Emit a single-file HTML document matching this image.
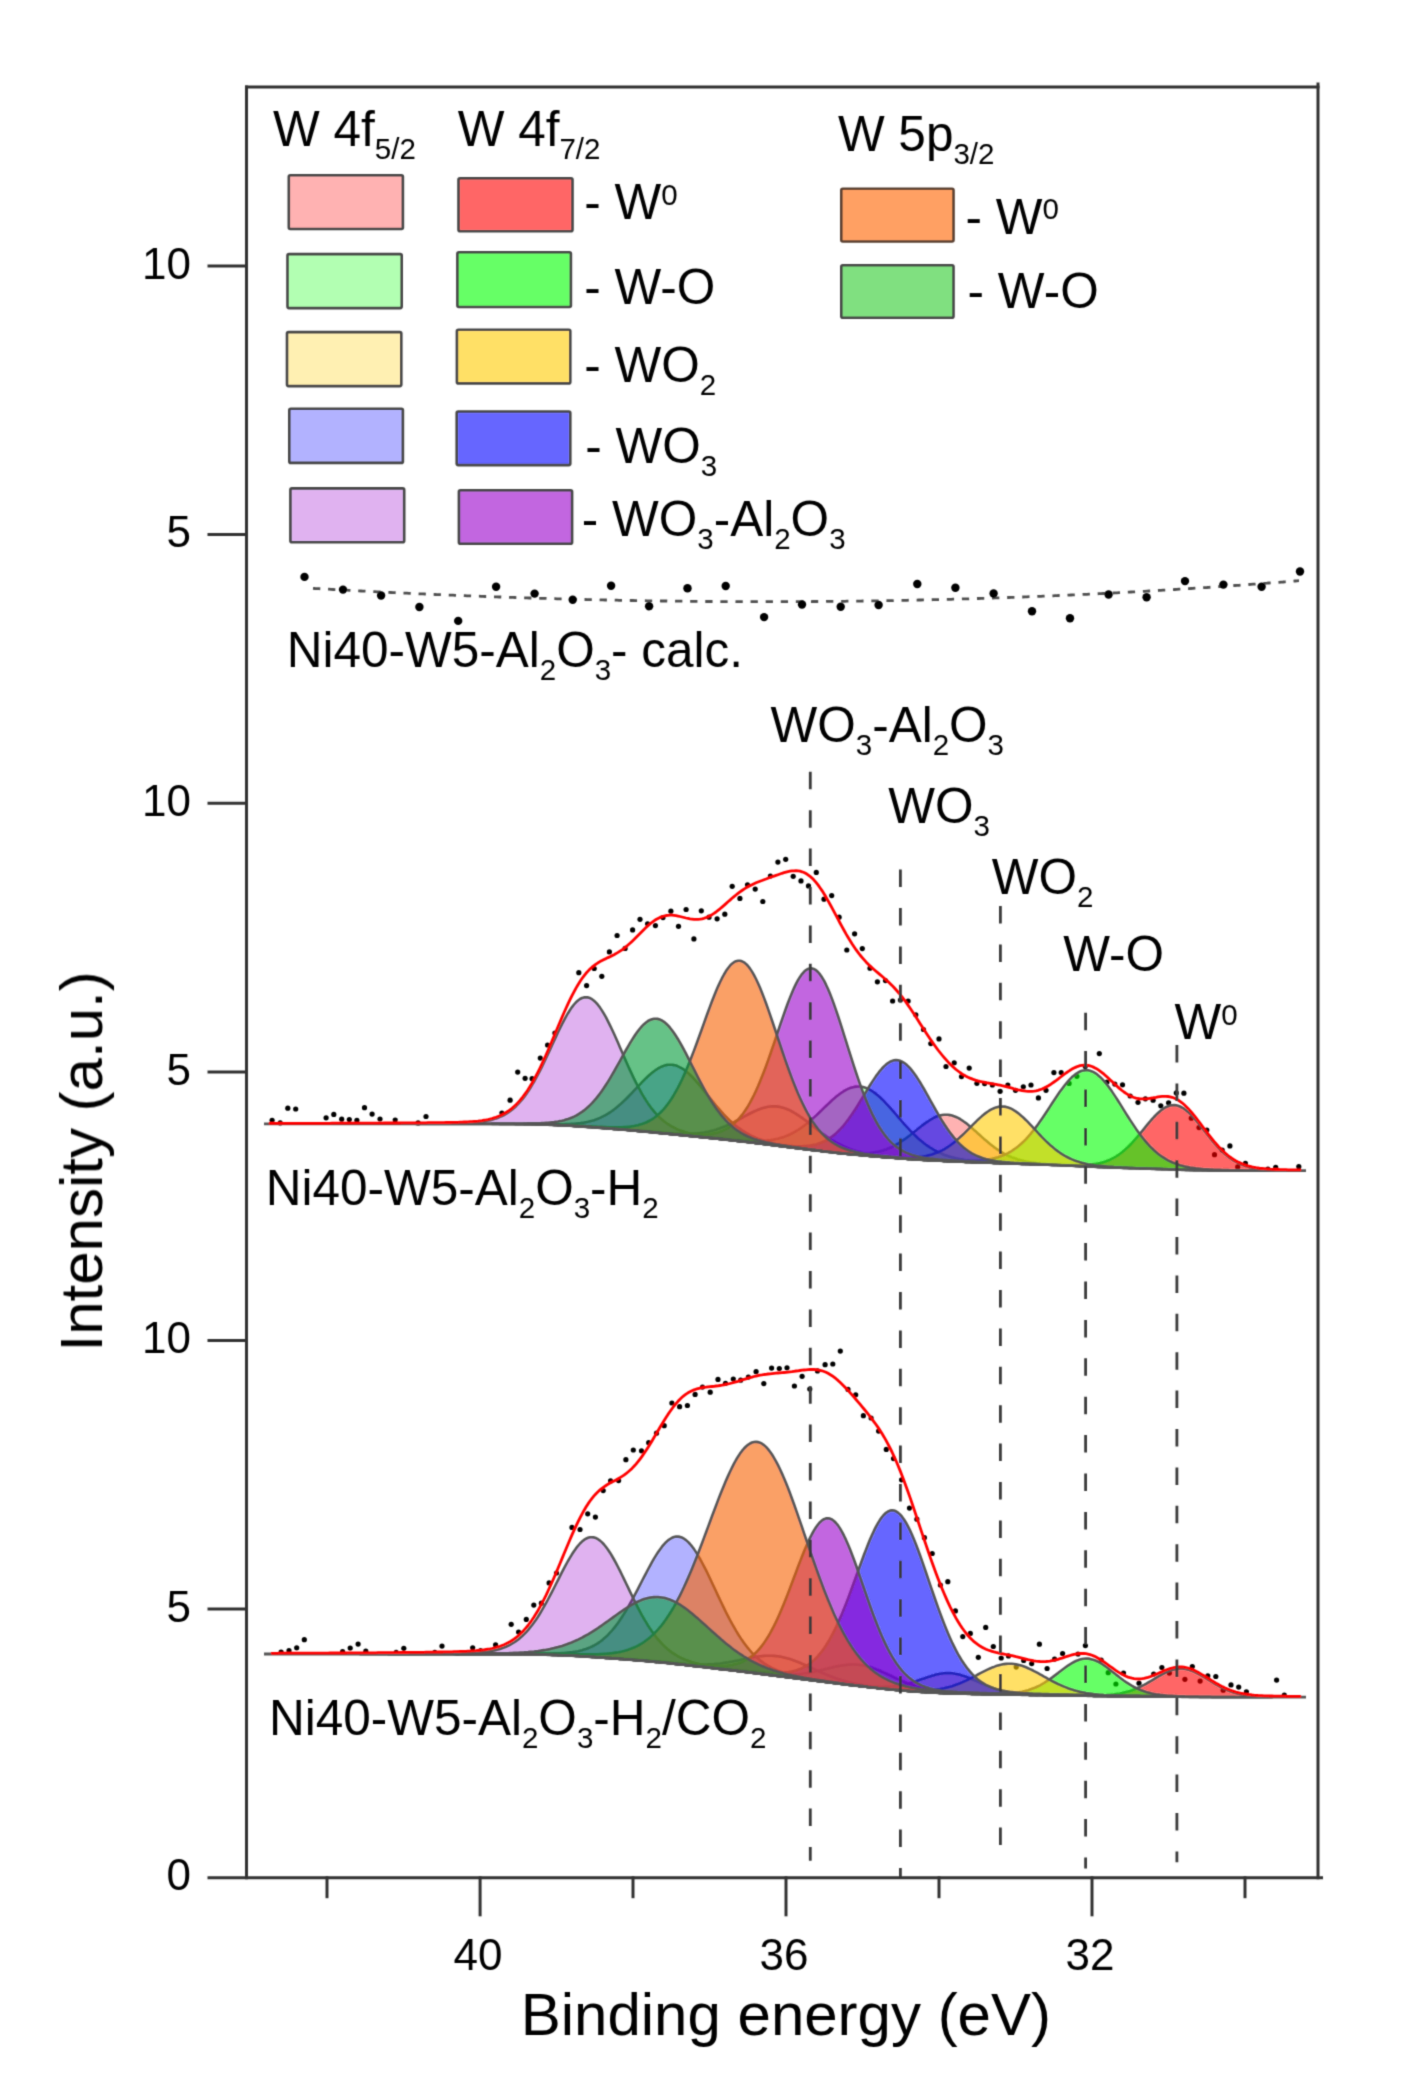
<!DOCTYPE html>
<html><head><meta charset="utf-8"><style>
html,body{margin:0;padding:0;background:#fff;}
svg{display:block;}
</style></head><body>
<svg width="1424" height="2100" viewBox="0 0 1424 2100">
<defs><filter id="soft" filterUnits="userSpaceOnUse" x="0" y="0" width="1424" height="2100"><feConvolveMatrix order="3" kernelMatrix="0.062 0.249 0.062 0.249 1 0.249 0.062 0.249 0.062" divisor="2.244" edgeMode="duplicate" preserveAlpha="false"/></filter></defs>
<rect width="1424" height="2100" fill="#ffffff"/>
<g filter="url(#soft)">
<g fill="#000"><circle cx="272.1" cy="1120.3" r="2.6"/><circle cx="280.2" cy="1122.9" r="2.6"/><circle cx="287.8" cy="1108.2" r="2.6"/><circle cx="295.7" cy="1109.0" r="2.6"/><circle cx="326.1" cy="1117.8" r="2.6"/><circle cx="333.8" cy="1114.4" r="2.6"/><circle cx="341.7" cy="1119.2" r="2.6"/><circle cx="349.3" cy="1119.5" r="2.6"/><circle cx="356.9" cy="1120.3" r="2.6"/><circle cx="364.5" cy="1107.7" r="2.6"/><circle cx="372.1" cy="1114.1" r="2.6"/><circle cx="380.0" cy="1119.0" r="2.6"/><circle cx="395.2" cy="1120.0" r="2.6"/><circle cx="418.1" cy="1122.9" r="2.6"/><circle cx="426.0" cy="1116.5" r="2.6"/><circle cx="501.9" cy="1113.1" r="2.6"/><circle cx="510.1" cy="1100.2" r="2.6"/><circle cx="517.7" cy="1072.1" r="2.6"/><circle cx="525.1" cy="1078.3" r="2.6"/><circle cx="532.1" cy="1078.7" r="2.6"/><circle cx="540.3" cy="1058.1" r="2.6"/><circle cx="547.6" cy="1045.0" r="2.6"/><circle cx="554.9" cy="1033.1" r="2.6"/><circle cx="578.8" cy="972.7" r="2.6"/><circle cx="586.6" cy="985.6" r="2.6"/><circle cx="594.2" cy="968.5" r="2.6"/><circle cx="601.8" cy="976.3" r="2.6"/><circle cx="609.4" cy="951.9" r="2.6"/><circle cx="617.1" cy="935.5" r="2.6"/><circle cx="625.1" cy="948.4" r="2.6"/><circle cx="632.6" cy="929.9" r="2.6"/><circle cx="640.0" cy="919.3" r="2.6"/><circle cx="647.6" cy="923.8" r="2.6"/><circle cx="655.4" cy="925.6" r="2.6"/><circle cx="663.0" cy="917.6" r="2.6"/><circle cx="670.9" cy="911.2" r="2.6"/><circle cx="678.5" cy="926.3" r="2.6"/><circle cx="686.1" cy="909.5" r="2.6"/><circle cx="693.9" cy="938.9" r="2.6"/><circle cx="701.3" cy="910.8" r="2.6"/><circle cx="709.0" cy="917.2" r="2.6"/><circle cx="717.1" cy="918.8" r="2.6"/><circle cx="724.8" cy="914.2" r="2.6"/><circle cx="732.2" cy="886.3" r="2.6"/><circle cx="739.9" cy="898.4" r="2.6"/><circle cx="747.5" cy="884.8" r="2.6"/><circle cx="755.2" cy="889.1" r="2.6"/><circle cx="762.8" cy="901.5" r="2.6"/><circle cx="770.4" cy="876.0" r="2.6"/><circle cx="777.9" cy="862.1" r="2.6"/><circle cx="785.7" cy="859.3" r="2.6"/><circle cx="793.2" cy="876.3" r="2.6"/><circle cx="801.0" cy="880.9" r="2.6"/><circle cx="808.5" cy="885.9" r="2.6"/><circle cx="816.3" cy="872.4" r="2.6"/><circle cx="824.0" cy="899.2" r="2.6"/><circle cx="831.7" cy="895.6" r="2.6"/><circle cx="839.1" cy="917.2" r="2.6"/><circle cx="846.8" cy="950.0" r="2.6"/><circle cx="854.6" cy="933.8" r="2.6"/><circle cx="862.3" cy="948.6" r="2.6"/><circle cx="870.0" cy="968.2" r="2.6"/><circle cx="877.4" cy="981.8" r="2.6"/><circle cx="885.5" cy="980.6" r="2.6"/><circle cx="892.6" cy="1001.0" r="2.6"/><circle cx="900.4" cy="1000.0" r="2.6"/><circle cx="908.1" cy="1001.0" r="2.6"/><circle cx="915.8" cy="1014.8" r="2.6"/><circle cx="923.5" cy="1029.5" r="2.6"/><circle cx="930.8" cy="1043.6" r="2.6"/><circle cx="939.0" cy="1038.9" r="2.6"/><circle cx="946.0" cy="1066.5" r="2.6"/><circle cx="954.2" cy="1062.8" r="2.6"/><circle cx="961.5" cy="1076.6" r="2.6"/><circle cx="969.2" cy="1068.1" r="2.6"/><circle cx="976.9" cy="1083.3" r="2.6"/><circle cx="984.6" cy="1083.6" r="2.6"/><circle cx="992.4" cy="1085.0" r="2.6"/><circle cx="1000.1" cy="1091.3" r="2.6"/><circle cx="1007.8" cy="1085.0" r="2.6"/><circle cx="1015.5" cy="1090.3" r="2.6"/><circle cx="1023.3" cy="1086.8" r="2.6"/><circle cx="1031.0" cy="1085.0" r="2.6"/><circle cx="1038.4" cy="1097.9" r="2.6"/><circle cx="1046.0" cy="1090.3" r="2.6"/><circle cx="1053.9" cy="1072.6" r="2.6"/><circle cx="1061.2" cy="1072.6" r="2.6"/><circle cx="1069.1" cy="1083.4" r="2.6"/><circle cx="1076.9" cy="1076.3" r="2.6"/><circle cx="1085.3" cy="1066.5" r="2.6"/><circle cx="1099.3" cy="1053.6" r="2.6"/><circle cx="1107.0" cy="1082.0" r="2.6"/><circle cx="1114.8" cy="1084.1" r="2.6"/><circle cx="1122.5" cy="1084.8" r="2.6"/><circle cx="1130.2" cy="1096.0" r="2.6"/><circle cx="1138.0" cy="1102.3" r="2.6"/><circle cx="1145.4" cy="1098.8" r="2.6"/><circle cx="1153.1" cy="1100.2" r="2.6"/><circle cx="1160.8" cy="1105.8" r="2.6"/><circle cx="1168.6" cy="1102.8" r="2.6"/><circle cx="1176.3" cy="1092.9" r="2.6"/><circle cx="1183.9" cy="1093.2" r="2.6"/><circle cx="1191.3" cy="1118.2" r="2.6"/><circle cx="1199.0" cy="1127.6" r="2.6"/><circle cx="1206.8" cy="1130.0" r="2.6"/><circle cx="1214.5" cy="1154.7" r="2.6"/><circle cx="1222.2" cy="1150.1" r="2.6"/><circle cx="1229.9" cy="1145.9" r="2.6"/><circle cx="1237.7" cy="1166.9" r="2.6"/><circle cx="1245.4" cy="1163.4" r="2.6"/><circle cx="1267.9" cy="1169.0" r="2.6"/><circle cx="1275.7" cy="1167.3" r="2.6"/><circle cx="1298.8" cy="1166.7" r="2.6"/><circle cx="281.1" cy="1652.0" r="2.6"/><circle cx="289.0" cy="1650.7" r="2.6"/><circle cx="296.7" cy="1647.8" r="2.6"/><circle cx="304.3" cy="1639.7" r="2.6"/><circle cx="342.6" cy="1651.7" r="2.6"/><circle cx="350.2" cy="1648.1" r="2.6"/><circle cx="358.1" cy="1644.1" r="2.6"/><circle cx="365.8" cy="1651.2" r="2.6"/><circle cx="396.2" cy="1652.4" r="2.6"/><circle cx="403.8" cy="1648.3" r="2.6"/><circle cx="434.8" cy="1652.4" r="2.6"/><circle cx="442.0" cy="1646.1" r="2.6"/><circle cx="457.5" cy="1653.4" r="2.6"/><circle cx="472.7" cy="1647.8" r="2.6"/><circle cx="480.5" cy="1650.7" r="2.6"/><circle cx="495.6" cy="1644.9" r="2.6"/><circle cx="511.2" cy="1624.3" r="2.6"/><circle cx="518.6" cy="1632.0" r="2.6"/><circle cx="526.3" cy="1619.4" r="2.6"/><circle cx="533.8" cy="1605.1" r="2.6"/><circle cx="541.4" cy="1603.2" r="2.6"/><circle cx="549.1" cy="1582.9" r="2.6"/><circle cx="556.5" cy="1573.0" r="2.6"/><circle cx="572.0" cy="1527.4" r="2.6"/><circle cx="580.0" cy="1529.5" r="2.6"/><circle cx="587.7" cy="1513.8" r="2.6"/><circle cx="595.4" cy="1517.1" r="2.6"/><circle cx="603.2" cy="1490.6" r="2.6"/><circle cx="610.6" cy="1480.9" r="2.6"/><circle cx="618.6" cy="1480.6" r="2.6"/><circle cx="625.9" cy="1459.7" r="2.6"/><circle cx="633.3" cy="1450.0" r="2.6"/><circle cx="641.5" cy="1450.8" r="2.6"/><circle cx="648.7" cy="1442.7" r="2.6"/><circle cx="656.5" cy="1433.2" r="2.6"/><circle cx="664.2" cy="1425.7" r="2.6"/><circle cx="671.9" cy="1403.0" r="2.6"/><circle cx="679.6" cy="1406.7" r="2.6"/><circle cx="687.4" cy="1405.5" r="2.6"/><circle cx="695.1" cy="1394.4" r="2.6"/><circle cx="702.5" cy="1387.1" r="2.6"/><circle cx="710.2" cy="1392.2" r="2.6"/><circle cx="718.0" cy="1379.4" r="2.6"/><circle cx="725.5" cy="1383.3" r="2.6"/><circle cx="733.3" cy="1379.1" r="2.6"/><circle cx="740.7" cy="1380.2" r="2.6"/><circle cx="748.4" cy="1377.1" r="2.6"/><circle cx="756.1" cy="1371.7" r="2.6"/><circle cx="763.8" cy="1383.6" r="2.6"/><circle cx="771.6" cy="1368.1" r="2.6"/><circle cx="779.3" cy="1368.6" r="2.6"/><circle cx="787.0" cy="1367.8" r="2.6"/><circle cx="794.4" cy="1386.0" r="2.6"/><circle cx="802.1" cy="1376.3" r="2.6"/><circle cx="809.8" cy="1389.1" r="2.6"/><circle cx="817.5" cy="1370.9" r="2.6"/><circle cx="825.1" cy="1364.7" r="2.6"/><circle cx="832.8" cy="1364.0" r="2.6"/><circle cx="840.3" cy="1351.1" r="2.6"/><circle cx="848.0" cy="1389.4" r="2.6"/><circle cx="855.7" cy="1394.8" r="2.6"/><circle cx="863.4" cy="1415.7" r="2.6"/><circle cx="871.1" cy="1418.0" r="2.6"/><circle cx="878.6" cy="1431.1" r="2.6"/><circle cx="886.3" cy="1449.4" r="2.6"/><circle cx="893.5" cy="1458.6" r="2.6"/><circle cx="901.6" cy="1479.8" r="2.6"/><circle cx="909.5" cy="1508.1" r="2.6"/><circle cx="916.9" cy="1519.2" r="2.6"/><circle cx="924.4" cy="1537.7" r="2.6"/><circle cx="932.2" cy="1553.5" r="2.6"/><circle cx="940.4" cy="1585.0" r="2.6"/><circle cx="947.8" cy="1581.7" r="2.6"/><circle cx="955.4" cy="1610.9" r="2.6"/><circle cx="962.8" cy="1636.6" r="2.6"/><circle cx="970.3" cy="1633.4" r="2.6"/><circle cx="978.3" cy="1657.3" r="2.6"/><circle cx="985.7" cy="1627.4" r="2.6"/><circle cx="993.3" cy="1646.5" r="2.6"/><circle cx="1001.2" cy="1658.0" r="2.6"/><circle cx="1008.5" cy="1655.9" r="2.6"/><circle cx="1016.2" cy="1667.1" r="2.6"/><circle cx="1023.7" cy="1660.5" r="2.6"/><circle cx="1031.7" cy="1663.6" r="2.6"/><circle cx="1039.4" cy="1644.2" r="2.6"/><circle cx="1047.1" cy="1668.5" r="2.6"/><circle cx="1054.6" cy="1659.1" r="2.6"/><circle cx="1062.6" cy="1653.5" r="2.6"/><circle cx="1078.0" cy="1654.0" r="2.6"/><circle cx="1085.4" cy="1645.6" r="2.6"/><circle cx="1101.2" cy="1660.1" r="2.6"/><circle cx="1108.2" cy="1672.7" r="2.6"/><circle cx="1115.9" cy="1684.0" r="2.6"/><circle cx="1123.5" cy="1673.1" r="2.6"/><circle cx="1139.0" cy="1683.2" r="2.6"/><circle cx="1153.7" cy="1674.1" r="2.6"/><circle cx="1161.9" cy="1667.5" r="2.6"/><circle cx="1169.4" cy="1673.1" r="2.6"/><circle cx="1184.9" cy="1679.3" r="2.6"/><circle cx="1192.3" cy="1666.6" r="2.6"/><circle cx="1200.1" cy="1681.1" r="2.6"/><circle cx="1207.8" cy="1675.9" r="2.6"/><circle cx="1215.8" cy="1676.5" r="2.6"/><circle cx="1223.2" cy="1690.2" r="2.6"/><circle cx="1231.0" cy="1684.9" r="2.6"/><circle cx="1238.7" cy="1687.1" r="2.6"/><circle cx="1246.4" cy="1691.9" r="2.6"/><circle cx="1276.6" cy="1680.1" r="2.6"/><circle cx="1284.3" cy="1695.1" r="2.6"/></g>
<polygon points="838.0,1152.5 840.0,1152.7 842.0,1152.8 844.0,1153.0 846.0,1153.1 848.0,1153.2 850.0,1153.3 852.0,1153.4 854.0,1153.5 856.0,1153.5 858.0,1153.5 860.0,1153.5 862.0,1153.5 864.0,1153.4 866.0,1153.3 868.0,1153.2 870.0,1153.0 872.0,1152.7 874.0,1152.5 876.0,1152.1 878.0,1151.7 880.0,1151.2 882.0,1150.7 884.0,1150.1 886.0,1149.4 888.0,1148.6 890.0,1147.8 892.0,1146.8 894.0,1145.8 896.0,1144.7 898.0,1143.6 900.0,1142.3 902.0,1141.0 904.0,1139.6 906.0,1138.2 908.0,1136.7 910.0,1135.2 912.0,1133.6 914.0,1132.0 916.0,1130.4 918.0,1128.8 920.0,1127.2 922.0,1125.6 924.0,1124.1 926.0,1122.6 928.0,1121.3 930.0,1120.0 932.0,1118.8 934.0,1117.7 936.0,1116.8 938.0,1116.1 940.0,1115.5 942.0,1115.0 944.0,1114.8 946.0,1114.7 948.0,1114.8 950.0,1115.1 952.0,1115.5 954.0,1116.2 956.0,1117.0 958.0,1117.9 960.0,1119.0 962.0,1120.3 964.0,1121.7 966.0,1123.1 968.0,1124.7 970.0,1126.4 972.0,1128.1 974.0,1129.9 976.0,1131.6 978.0,1133.5 980.0,1135.3 982.0,1137.1 984.0,1138.9 986.0,1140.6 988.0,1142.3 990.0,1144.0 992.0,1145.5 994.0,1147.1 996.0,1148.5 998.0,1149.9 1000.0,1151.2 1002.0,1152.4 1004.0,1153.6 1006.0,1154.6 1008.0,1155.6 1010.0,1156.5 1012.0,1157.4 1014.0,1158.1 1016.0,1158.8 1018.0,1159.5 1020.0,1160.1 1022.0,1160.6 1024.0,1161.1 1026.0,1161.5 1028.0,1161.9 1030.0,1162.2 1032.0,1162.5 1034.0,1162.8 1036.0,1163.1 1038.0,1163.3 1040.0,1163.5 1042.0,1163.7 1044.0,1163.8 1046.0,1164.0 1048.0,1164.2 1050.0,1164.3 1052.0,1164.4 1054.0,1164.5 1056.0,1164.7 1056.0,1165.0 1054.0,1165.0 1052.0,1164.9 1050.0,1164.8 1048.0,1164.7 1046.0,1164.7 1044.0,1164.6 1042.0,1164.5 1040.0,1164.4 1038.0,1164.4 1036.0,1164.3 1034.0,1164.2 1032.0,1164.2 1030.0,1164.1 1028.0,1164.0 1026.0,1164.0 1024.0,1163.9 1022.0,1163.9 1020.0,1163.8 1018.0,1163.7 1016.0,1163.7 1014.0,1163.6 1012.0,1163.5 1010.0,1163.4 1008.0,1163.4 1006.0,1163.3 1004.0,1163.2 1002.0,1163.2 1000.0,1163.1 998.0,1163.0 996.0,1163.0 994.0,1162.9 992.0,1162.8 990.0,1162.7 988.0,1162.7 986.0,1162.6 984.0,1162.5 982.0,1162.5 980.0,1162.4 978.0,1162.3 976.0,1162.2 974.0,1162.2 972.0,1162.1 970.0,1162.0 968.0,1161.9 966.0,1161.9 964.0,1161.8 962.0,1161.7 960.0,1161.6 958.0,1161.5 956.0,1161.5 954.0,1161.4 952.0,1161.3 950.0,1161.2 948.0,1161.1 946.0,1161.0 944.0,1160.9 942.0,1160.8 940.0,1160.7 938.0,1160.6 936.0,1160.5 934.0,1160.4 932.0,1160.3 930.0,1160.2 928.0,1160.1 926.0,1160.0 924.0,1159.9 922.0,1159.8 920.0,1159.6 918.0,1159.5 916.0,1159.4 914.0,1159.3 912.0,1159.1 910.0,1159.0 908.0,1158.9 906.0,1158.7 904.0,1158.6 902.0,1158.4 900.0,1158.3 898.0,1158.1 896.0,1158.0 894.0,1157.8 892.0,1157.7 890.0,1157.5 888.0,1157.4 886.0,1157.2 884.0,1157.1 882.0,1156.9 880.0,1156.7 878.0,1156.6 876.0,1156.4 874.0,1156.2 872.0,1156.1 870.0,1155.9 868.0,1155.7 866.0,1155.5 864.0,1155.4 862.0,1155.2 860.0,1155.0 858.0,1154.8 856.0,1154.6 854.0,1154.5 852.0,1154.3 850.0,1154.1 848.0,1153.9 846.0,1153.7 844.0,1153.5 842.0,1153.3 840.0,1153.1 838.0,1152.9" fill="rgb(255,0,0)" fill-opacity="0.30" stroke="#575757" stroke-width="2.6" stroke-linejoin="round"/>
<polygon points="718.0,1138.4 720.0,1138.6 722.0,1138.7 724.0,1138.9 726.0,1139.1 728.0,1139.3 730.0,1139.5 732.0,1139.7 734.0,1139.8 736.0,1140.0 738.0,1140.1 740.0,1140.3 742.0,1140.4 744.0,1140.6 746.0,1140.7 748.0,1140.8 750.0,1140.9 752.0,1140.9 754.0,1141.0 756.0,1141.0 758.0,1141.0 760.0,1140.9 762.0,1140.8 764.0,1140.7 766.0,1140.6 768.0,1140.4 770.0,1140.2 772.0,1139.9 774.0,1139.5 776.0,1139.1 778.0,1138.7 780.0,1138.1 782.0,1137.5 784.0,1136.9 786.0,1136.1 788.0,1135.3 790.0,1134.4 792.0,1133.4 794.0,1132.4 796.0,1131.2 798.0,1130.0 800.0,1128.7 802.0,1127.3 804.0,1125.8 806.0,1124.3 808.0,1122.7 810.0,1121.0 812.0,1119.2 814.0,1117.4 816.0,1115.6 818.0,1113.7 820.0,1111.8 822.0,1109.9 824.0,1107.9 826.0,1106.0 828.0,1104.1 830.0,1102.2 832.0,1100.3 834.0,1098.6 836.0,1096.8 838.0,1095.2 840.0,1093.7 842.0,1092.3 844.0,1091.0 846.0,1089.9 848.0,1088.9 850.0,1088.0 852.0,1087.4 854.0,1086.9 856.0,1086.6 858.0,1086.5 860.0,1086.5 862.0,1086.8 864.0,1087.3 866.0,1087.9 868.0,1088.8 870.0,1089.8 872.0,1091.0 874.0,1092.4 876.0,1093.9 878.0,1095.5 880.0,1097.3 882.0,1099.2 884.0,1101.2 886.0,1103.3 888.0,1105.4 890.0,1107.7 892.0,1109.9 894.0,1112.2 896.0,1114.5 898.0,1116.9 900.0,1119.2 902.0,1121.5 904.0,1123.8 906.0,1126.0 908.0,1128.2 910.0,1130.3 912.0,1132.4 914.0,1134.4 916.0,1136.3 918.0,1138.2 920.0,1139.9 922.0,1141.6 924.0,1143.2 926.0,1144.7 928.0,1146.1 930.0,1147.5 932.0,1148.7 934.0,1149.9 936.0,1151.0 938.0,1152.0 940.0,1153.0 942.0,1153.8 944.0,1154.7 946.0,1155.4 948.0,1156.1 950.0,1156.7 952.0,1157.3 954.0,1157.8 956.0,1158.3 958.0,1158.7 960.0,1159.1 962.0,1159.4 964.0,1159.8 966.0,1160.1 968.0,1160.3 970.0,1160.6 972.0,1160.8 974.0,1161.0 976.0,1161.2 978.0,1161.4 980.0,1161.5 982.0,1161.7 984.0,1161.8 986.0,1162.0 988.0,1162.1 990.0,1162.2 992.0,1162.3 994.0,1162.4 996.0,1162.5 998.0,1162.6 1000.0,1162.7 1002.0,1162.8 1002.0,1163.2 1000.0,1163.1 998.0,1163.0 996.0,1163.0 994.0,1162.9 992.0,1162.8 990.0,1162.7 988.0,1162.7 986.0,1162.6 984.0,1162.5 982.0,1162.5 980.0,1162.4 978.0,1162.3 976.0,1162.2 974.0,1162.2 972.0,1162.1 970.0,1162.0 968.0,1161.9 966.0,1161.9 964.0,1161.8 962.0,1161.7 960.0,1161.6 958.0,1161.5 956.0,1161.5 954.0,1161.4 952.0,1161.3 950.0,1161.2 948.0,1161.1 946.0,1161.0 944.0,1160.9 942.0,1160.8 940.0,1160.7 938.0,1160.6 936.0,1160.5 934.0,1160.4 932.0,1160.3 930.0,1160.2 928.0,1160.1 926.0,1160.0 924.0,1159.9 922.0,1159.8 920.0,1159.6 918.0,1159.5 916.0,1159.4 914.0,1159.3 912.0,1159.1 910.0,1159.0 908.0,1158.9 906.0,1158.7 904.0,1158.6 902.0,1158.4 900.0,1158.3 898.0,1158.1 896.0,1158.0 894.0,1157.8 892.0,1157.7 890.0,1157.5 888.0,1157.4 886.0,1157.2 884.0,1157.1 882.0,1156.9 880.0,1156.7 878.0,1156.6 876.0,1156.4 874.0,1156.2 872.0,1156.1 870.0,1155.9 868.0,1155.7 866.0,1155.5 864.0,1155.4 862.0,1155.2 860.0,1155.0 858.0,1154.8 856.0,1154.6 854.0,1154.5 852.0,1154.3 850.0,1154.1 848.0,1153.9 846.0,1153.7 844.0,1153.5 842.0,1153.3 840.0,1153.1 838.0,1152.9 836.0,1152.7 834.0,1152.4 832.0,1152.2 830.0,1152.0 828.0,1151.8 826.0,1151.5 824.0,1151.3 822.0,1151.1 820.0,1150.8 818.0,1150.6 816.0,1150.4 814.0,1150.1 812.0,1149.9 810.0,1149.6 808.0,1149.4 806.0,1149.1 804.0,1148.9 802.0,1148.6 800.0,1148.4 798.0,1148.1 796.0,1147.9 794.0,1147.6 792.0,1147.4 790.0,1147.1 788.0,1146.9 786.0,1146.6 784.0,1146.4 782.0,1146.1 780.0,1145.9 778.0,1145.6 776.0,1145.4 774.0,1145.1 772.0,1144.9 770.0,1144.7 768.0,1144.4 766.0,1144.2 764.0,1143.9 762.0,1143.7 760.0,1143.5 758.0,1143.2 756.0,1143.0 754.0,1142.7 752.0,1142.5 750.0,1142.3 748.0,1142.0 746.0,1141.8 744.0,1141.6 742.0,1141.3 740.0,1141.1 738.0,1140.9 736.0,1140.7 734.0,1140.4 732.0,1140.2 730.0,1140.0 728.0,1139.8 726.0,1139.6 724.0,1139.4 722.0,1139.1 720.0,1138.9 718.0,1138.7" fill="rgb(0,255,0)" fill-opacity="0.30" stroke="#575757" stroke-width="2.6" stroke-linejoin="round"/>
<polygon points="660.0,1132.6 662.0,1132.7 664.0,1132.9 666.0,1133.0 668.0,1133.2 670.0,1133.3 672.0,1133.4 674.0,1133.5 676.0,1133.6 678.0,1133.7 680.0,1133.8 682.0,1133.8 684.0,1133.9 686.0,1133.9 688.0,1133.8 690.0,1133.8 692.0,1133.7 694.0,1133.6 696.0,1133.5 698.0,1133.3 700.0,1133.1 702.0,1132.8 704.0,1132.5 706.0,1132.1 708.0,1131.8 710.0,1131.3 712.0,1130.8 714.0,1130.3 716.0,1129.7 718.0,1129.0 720.0,1128.3 722.0,1127.5 724.0,1126.7 726.0,1125.9 728.0,1125.0 730.0,1124.1 732.0,1123.1 734.0,1122.1 736.0,1121.0 738.0,1120.0 740.0,1118.9 742.0,1117.8 744.0,1116.7 746.0,1115.6 748.0,1114.5 750.0,1113.5 752.0,1112.5 754.0,1111.5 756.0,1110.6 758.0,1109.8 760.0,1109.0 762.0,1108.3 764.0,1107.7 766.0,1107.2 768.0,1106.8 770.0,1106.5 772.0,1106.4 774.0,1106.3 776.0,1106.4 778.0,1106.6 780.0,1106.9 782.0,1107.4 784.0,1108.0 786.0,1108.7 788.0,1109.5 790.0,1110.4 792.0,1111.5 794.0,1112.6 796.0,1113.8 798.0,1115.1 800.0,1116.5 802.0,1117.9 804.0,1119.3 806.0,1120.8 808.0,1122.4 810.0,1123.9 812.0,1125.5 814.0,1127.1 816.0,1128.6 818.0,1130.2 820.0,1131.7 822.0,1133.2 824.0,1134.6 826.0,1136.0 828.0,1137.4 830.0,1138.7 832.0,1140.0 834.0,1141.2 836.0,1142.4 838.0,1143.5 840.0,1144.5 842.0,1145.5 844.0,1146.5 846.0,1147.3 848.0,1148.2 850.0,1148.9 852.0,1149.7 854.0,1150.3 856.0,1151.0 858.0,1151.5 860.0,1152.1 862.0,1152.6 864.0,1153.1 866.0,1153.5 868.0,1153.9 870.0,1154.3 872.0,1154.6 874.0,1155.0 876.0,1155.3 878.0,1155.6 880.0,1155.9 882.0,1156.1 884.0,1156.4 886.0,1156.6 888.0,1156.8 890.0,1157.0 892.0,1157.3 894.0,1157.4 896.0,1157.6 896.0,1158.0 894.0,1157.8 892.0,1157.7 890.0,1157.5 888.0,1157.4 886.0,1157.2 884.0,1157.1 882.0,1156.9 880.0,1156.7 878.0,1156.6 876.0,1156.4 874.0,1156.2 872.0,1156.1 870.0,1155.9 868.0,1155.7 866.0,1155.5 864.0,1155.4 862.0,1155.2 860.0,1155.0 858.0,1154.8 856.0,1154.6 854.0,1154.5 852.0,1154.3 850.0,1154.1 848.0,1153.9 846.0,1153.7 844.0,1153.5 842.0,1153.3 840.0,1153.1 838.0,1152.9 836.0,1152.7 834.0,1152.4 832.0,1152.2 830.0,1152.0 828.0,1151.8 826.0,1151.5 824.0,1151.3 822.0,1151.1 820.0,1150.8 818.0,1150.6 816.0,1150.4 814.0,1150.1 812.0,1149.9 810.0,1149.6 808.0,1149.4 806.0,1149.1 804.0,1148.9 802.0,1148.6 800.0,1148.4 798.0,1148.1 796.0,1147.9 794.0,1147.6 792.0,1147.4 790.0,1147.1 788.0,1146.9 786.0,1146.6 784.0,1146.4 782.0,1146.1 780.0,1145.9 778.0,1145.6 776.0,1145.4 774.0,1145.1 772.0,1144.9 770.0,1144.7 768.0,1144.4 766.0,1144.2 764.0,1143.9 762.0,1143.7 760.0,1143.5 758.0,1143.2 756.0,1143.0 754.0,1142.7 752.0,1142.5 750.0,1142.3 748.0,1142.0 746.0,1141.8 744.0,1141.6 742.0,1141.3 740.0,1141.1 738.0,1140.9 736.0,1140.7 734.0,1140.4 732.0,1140.2 730.0,1140.0 728.0,1139.8 726.0,1139.6 724.0,1139.4 722.0,1139.1 720.0,1138.9 718.0,1138.7 716.0,1138.5 714.0,1138.3 712.0,1138.1 710.0,1137.9 708.0,1137.7 706.0,1137.5 704.0,1137.3 702.0,1137.1 700.0,1136.9 698.0,1136.7 696.0,1136.5 694.0,1136.3 692.0,1136.1 690.0,1135.9 688.0,1135.7 686.0,1135.5 684.0,1135.3 682.0,1135.1 680.0,1134.9 678.0,1134.7 676.0,1134.5 674.0,1134.3 672.0,1134.1 670.0,1133.9 668.0,1133.7 666.0,1133.5 664.0,1133.3 662.0,1133.2 660.0,1133.0" fill="rgb(255,204,0)" fill-opacity="0.30" stroke="#575757" stroke-width="2.6" stroke-linejoin="round"/>
<polygon points="536.0,1124.0 538.0,1124.0 540.0,1124.1 542.0,1124.1 544.0,1124.1 546.0,1124.1 548.0,1124.2 550.0,1124.2 552.0,1124.2 554.0,1124.2 556.0,1124.2 558.0,1124.2 560.0,1124.2 562.0,1124.2 564.0,1124.2 566.0,1124.1 568.0,1124.1 570.0,1124.0 572.0,1123.9 574.0,1123.8 576.0,1123.6 578.0,1123.4 580.0,1123.2 582.0,1122.9 584.0,1122.6 586.0,1122.2 588.0,1121.8 590.0,1121.3 592.0,1120.8 594.0,1120.2 596.0,1119.5 598.0,1118.7 600.0,1117.9 602.0,1116.9 604.0,1115.9 606.0,1114.8 608.0,1113.6 610.0,1112.3 612.0,1111.0 614.0,1109.5 616.0,1107.9 618.0,1106.3 620.0,1104.6 622.0,1102.8 624.0,1100.9 626.0,1099.0 628.0,1097.0 630.0,1094.9 632.0,1092.8 634.0,1090.7 636.0,1088.6 638.0,1086.4 640.0,1084.3 642.0,1082.2 644.0,1080.2 646.0,1078.2 648.0,1076.3 650.0,1074.5 652.0,1072.8 654.0,1071.2 656.0,1069.8 658.0,1068.5 660.0,1067.4 662.0,1066.4 664.0,1065.7 666.0,1065.1 668.0,1064.8 670.0,1064.7 672.0,1064.8 674.0,1065.1 676.0,1065.6 678.0,1066.3 680.0,1067.3 682.0,1068.4 684.0,1069.7 686.0,1071.2 688.0,1072.9 690.0,1074.8 692.0,1076.7 694.0,1078.8 696.0,1081.0 698.0,1083.3 700.0,1085.7 702.0,1088.1 704.0,1090.6 706.0,1093.1 708.0,1095.6 710.0,1098.1 712.0,1100.6 714.0,1103.0 716.0,1105.5 718.0,1107.8 720.0,1110.2 722.0,1112.4 724.0,1114.6 726.0,1116.7 728.0,1118.7 730.0,1120.6 732.0,1122.5 734.0,1124.2 736.0,1125.9 738.0,1127.5 740.0,1128.9 742.0,1130.3 744.0,1131.6 746.0,1132.9 748.0,1134.0 750.0,1135.1 752.0,1136.1 754.0,1137.0 756.0,1137.9 758.0,1138.7 760.0,1139.4 762.0,1140.1 764.0,1140.8 766.0,1141.4 768.0,1141.9 770.0,1142.5 772.0,1142.9 774.0,1143.4 776.0,1143.9 778.0,1144.3 780.0,1144.7 782.0,1145.0 784.0,1145.4 786.0,1145.8 788.0,1146.1 790.0,1146.4 792.0,1146.7 794.0,1147.0 796.0,1147.3 798.0,1147.6 800.0,1147.9 802.0,1148.2 804.0,1148.5 806.0,1148.8 808.0,1149.0 808.0,1149.4 806.0,1149.1 804.0,1148.9 802.0,1148.6 800.0,1148.4 798.0,1148.1 796.0,1147.9 794.0,1147.6 792.0,1147.4 790.0,1147.1 788.0,1146.9 786.0,1146.6 784.0,1146.4 782.0,1146.1 780.0,1145.9 778.0,1145.6 776.0,1145.4 774.0,1145.1 772.0,1144.9 770.0,1144.7 768.0,1144.4 766.0,1144.2 764.0,1143.9 762.0,1143.7 760.0,1143.5 758.0,1143.2 756.0,1143.0 754.0,1142.7 752.0,1142.5 750.0,1142.3 748.0,1142.0 746.0,1141.8 744.0,1141.6 742.0,1141.3 740.0,1141.1 738.0,1140.9 736.0,1140.7 734.0,1140.4 732.0,1140.2 730.0,1140.0 728.0,1139.8 726.0,1139.6 724.0,1139.4 722.0,1139.1 720.0,1138.9 718.0,1138.7 716.0,1138.5 714.0,1138.3 712.0,1138.1 710.0,1137.9 708.0,1137.7 706.0,1137.5 704.0,1137.3 702.0,1137.1 700.0,1136.9 698.0,1136.7 696.0,1136.5 694.0,1136.3 692.0,1136.1 690.0,1135.9 688.0,1135.7 686.0,1135.5 684.0,1135.3 682.0,1135.1 680.0,1134.9 678.0,1134.7 676.0,1134.5 674.0,1134.3 672.0,1134.1 670.0,1133.9 668.0,1133.7 666.0,1133.5 664.0,1133.3 662.0,1133.2 660.0,1133.0 658.0,1132.8 656.0,1132.6 654.0,1132.4 652.0,1132.2 650.0,1132.0 648.0,1131.8 646.0,1131.6 644.0,1131.4 642.0,1131.2 640.0,1131.1 638.0,1130.9 636.0,1130.7 634.0,1130.5 632.0,1130.4 630.0,1130.2 628.0,1130.0 626.0,1129.8 624.0,1129.7 622.0,1129.5 620.0,1129.4 618.0,1129.2 616.0,1129.0 614.0,1128.9 612.0,1128.7 610.0,1128.6 608.0,1128.4 606.0,1128.2 604.0,1128.1 602.0,1127.9 600.0,1127.8 598.0,1127.6 596.0,1127.5 594.0,1127.3 592.0,1127.2 590.0,1127.0 588.0,1126.9 586.0,1126.8 584.0,1126.6 582.0,1126.5 580.0,1126.4 578.0,1126.2 576.0,1126.1 574.0,1126.0 572.0,1125.8 570.0,1125.7 568.0,1125.6 566.0,1125.5 564.0,1125.4 562.0,1125.3 560.0,1125.2 558.0,1125.1 556.0,1125.0 554.0,1124.9 552.0,1124.8 550.0,1124.8 548.0,1124.7 546.0,1124.6 544.0,1124.6 542.0,1124.5 540.0,1124.5 538.0,1124.4 536.0,1124.4" fill="rgb(0,0,255)" fill-opacity="0.30" stroke="#575757" stroke-width="2.6" stroke-linejoin="round"/>
<polygon points="416.0,1123.5 418.0,1123.5 420.0,1123.5 422.0,1123.5 424.0,1123.5 426.0,1123.5 428.0,1123.5 430.0,1123.4 432.0,1123.4 434.0,1123.4 436.0,1123.4 438.0,1123.4 440.0,1123.4 442.0,1123.4 444.0,1123.3 446.0,1123.3 448.0,1123.3 450.0,1123.3 452.0,1123.3 454.0,1123.2 456.0,1123.2 458.0,1123.1 460.0,1123.1 462.0,1123.0 464.0,1123.0 466.0,1122.9 468.0,1122.8 470.0,1122.7 472.0,1122.6 474.0,1122.4 476.0,1122.3 478.0,1122.1 480.0,1121.9 482.0,1121.6 484.0,1121.3 486.0,1121.0 488.0,1120.6 490.0,1120.2 492.0,1119.7 494.0,1119.1 496.0,1118.5 498.0,1117.7 500.0,1116.9 502.0,1116.0 504.0,1115.0 506.0,1113.9 508.0,1112.6 510.0,1111.2 512.0,1109.7 514.0,1108.0 516.0,1106.2 518.0,1104.2 520.0,1102.0 522.0,1099.7 524.0,1097.1 526.0,1094.4 528.0,1091.6 530.0,1088.5 532.0,1085.2 534.0,1081.8 536.0,1078.2 538.0,1074.5 540.0,1070.6 542.0,1066.6 544.0,1062.5 546.0,1058.3 548.0,1054.0 550.0,1049.6 552.0,1045.3 554.0,1040.9 556.0,1036.6 558.0,1032.3 560.0,1028.2 562.0,1024.1 564.0,1020.3 566.0,1016.6 568.0,1013.2 570.0,1010.0 572.0,1007.1 574.0,1004.5 576.0,1002.3 578.0,1000.5 580.0,999.0 582.0,998.0 584.0,997.4 586.0,997.2 588.0,997.4 590.0,998.1 592.0,999.2 594.0,1000.7 596.0,1002.6 598.0,1004.9 600.0,1007.6 602.0,1010.6 604.0,1013.9 606.0,1017.4 608.0,1021.3 610.0,1025.3 612.0,1029.5 614.0,1033.8 616.0,1038.3 618.0,1042.8 620.0,1047.4 622.0,1052.0 624.0,1056.6 626.0,1061.2 628.0,1065.7 630.0,1070.1 632.0,1074.4 634.0,1078.6 636.0,1082.6 638.0,1086.5 640.0,1090.2 642.0,1093.8 644.0,1097.2 646.0,1100.4 648.0,1103.4 650.0,1106.2 652.0,1108.9 654.0,1111.3 656.0,1113.6 658.0,1115.8 660.0,1117.8 662.0,1119.6 664.0,1121.2 666.0,1122.8 668.0,1124.2 670.0,1125.5 672.0,1126.6 674.0,1127.7 676.0,1128.7 678.0,1129.6 680.0,1130.4 682.0,1131.1 684.0,1131.8 686.0,1132.4 688.0,1133.0 690.0,1133.5 692.0,1133.9 694.0,1134.4 696.0,1134.8 698.0,1135.2 700.0,1135.5 702.0,1135.8 704.0,1136.2 706.0,1136.5 708.0,1136.7 710.0,1137.0 712.0,1137.3 714.0,1137.5 716.0,1137.8 718.0,1138.0 720.0,1138.3 722.0,1138.5 724.0,1138.8 726.0,1139.0 728.0,1139.3 730.0,1139.5 732.0,1139.7 734.0,1140.0 736.0,1140.2 738.0,1140.4 740.0,1140.7 742.0,1140.9 744.0,1141.2 746.0,1141.4 748.0,1141.6 750.0,1141.9 752.0,1142.1 754.0,1142.4 756.0,1142.6 756.0,1143.0 754.0,1142.7 752.0,1142.5 750.0,1142.3 748.0,1142.0 746.0,1141.8 744.0,1141.6 742.0,1141.3 740.0,1141.1 738.0,1140.9 736.0,1140.7 734.0,1140.4 732.0,1140.2 730.0,1140.0 728.0,1139.8 726.0,1139.6 724.0,1139.4 722.0,1139.1 720.0,1138.9 718.0,1138.7 716.0,1138.5 714.0,1138.3 712.0,1138.1 710.0,1137.9 708.0,1137.7 706.0,1137.5 704.0,1137.3 702.0,1137.1 700.0,1136.9 698.0,1136.7 696.0,1136.5 694.0,1136.3 692.0,1136.1 690.0,1135.9 688.0,1135.7 686.0,1135.5 684.0,1135.3 682.0,1135.1 680.0,1134.9 678.0,1134.7 676.0,1134.5 674.0,1134.3 672.0,1134.1 670.0,1133.9 668.0,1133.7 666.0,1133.5 664.0,1133.3 662.0,1133.2 660.0,1133.0 658.0,1132.8 656.0,1132.6 654.0,1132.4 652.0,1132.2 650.0,1132.0 648.0,1131.8 646.0,1131.6 644.0,1131.4 642.0,1131.2 640.0,1131.1 638.0,1130.9 636.0,1130.7 634.0,1130.5 632.0,1130.4 630.0,1130.2 628.0,1130.0 626.0,1129.8 624.0,1129.7 622.0,1129.5 620.0,1129.4 618.0,1129.2 616.0,1129.0 614.0,1128.9 612.0,1128.7 610.0,1128.6 608.0,1128.4 606.0,1128.2 604.0,1128.1 602.0,1127.9 600.0,1127.8 598.0,1127.6 596.0,1127.5 594.0,1127.3 592.0,1127.2 590.0,1127.0 588.0,1126.9 586.0,1126.8 584.0,1126.6 582.0,1126.5 580.0,1126.4 578.0,1126.2 576.0,1126.1 574.0,1126.0 572.0,1125.8 570.0,1125.7 568.0,1125.6 566.0,1125.5 564.0,1125.4 562.0,1125.3 560.0,1125.2 558.0,1125.1 556.0,1125.0 554.0,1124.9 552.0,1124.8 550.0,1124.8 548.0,1124.7 546.0,1124.6 544.0,1124.6 542.0,1124.5 540.0,1124.5 538.0,1124.4 536.0,1124.4 534.0,1124.3 532.0,1124.3 530.0,1124.2 528.0,1124.2 526.0,1124.2 524.0,1124.1 522.0,1124.1 520.0,1124.1 518.0,1124.1 516.0,1124.1 514.0,1124.0 512.0,1124.0 510.0,1124.0 508.0,1124.0 506.0,1124.0 504.0,1124.0 502.0,1124.0 500.0,1124.0 498.0,1123.9 496.0,1123.9 494.0,1123.9 492.0,1123.9 490.0,1123.9 488.0,1123.9 486.0,1123.9 484.0,1123.9 482.0,1123.9 480.0,1123.9 478.0,1123.9 476.0,1123.9 474.0,1123.9 472.0,1123.9 470.0,1123.9 468.0,1123.9 466.0,1123.9 464.0,1123.9 462.0,1123.9 460.0,1123.9 458.0,1123.9 456.0,1123.9 454.0,1123.9 452.0,1123.9 450.0,1123.9 448.0,1123.9 446.0,1123.9 444.0,1123.9 442.0,1123.9 440.0,1123.9 438.0,1123.9 436.0,1123.9 434.0,1123.9 432.0,1123.9 430.0,1123.9 428.0,1123.9 426.0,1123.9 424.0,1123.9 422.0,1123.9 420.0,1123.9 418.0,1123.9 416.0,1123.9" fill="rgb(153,0,204)" fill-opacity="0.30" stroke="#575757" stroke-width="2.6" stroke-linejoin="round"/>
<polygon points="1060.0,1164.8 1062.0,1164.9 1064.0,1164.9 1066.0,1165.0 1068.0,1165.0 1070.0,1165.1 1072.0,1165.1 1074.0,1165.1 1076.0,1165.1 1078.0,1165.1 1080.0,1165.1 1082.0,1165.0 1084.0,1165.0 1086.0,1164.9 1088.0,1164.7 1090.0,1164.6 1092.0,1164.4 1094.0,1164.1 1096.0,1163.8 1098.0,1163.4 1100.0,1163.0 1102.0,1162.5 1104.0,1161.9 1106.0,1161.3 1108.0,1160.5 1110.0,1159.7 1112.0,1158.7 1114.0,1157.7 1116.0,1156.5 1118.0,1155.2 1120.0,1153.8 1122.0,1152.3 1124.0,1150.6 1126.0,1148.8 1128.0,1147.0 1130.0,1145.0 1132.0,1142.9 1134.0,1140.7 1136.0,1138.4 1138.0,1136.1 1140.0,1133.7 1142.0,1131.2 1144.0,1128.8 1146.0,1126.3 1148.0,1123.9 1150.0,1121.5 1152.0,1119.2 1154.0,1117.0 1156.0,1114.9 1158.0,1113.0 1160.0,1111.2 1162.0,1109.6 1164.0,1108.2 1166.0,1107.1 1168.0,1106.2 1170.0,1105.6 1172.0,1105.2 1174.0,1105.1 1176.0,1105.3 1178.0,1105.7 1180.0,1106.5 1182.0,1107.5 1184.0,1108.7 1186.0,1110.2 1188.0,1111.9 1190.0,1113.7 1192.0,1115.8 1194.0,1118.0 1196.0,1120.3 1198.0,1122.7 1200.0,1125.2 1202.0,1127.7 1204.0,1130.2 1206.0,1132.8 1208.0,1135.3 1210.0,1137.8 1212.0,1140.3 1214.0,1142.6 1216.0,1144.9 1218.0,1147.1 1220.0,1149.2 1222.0,1151.2 1224.0,1153.0 1226.0,1154.8 1228.0,1156.4 1230.0,1157.9 1232.0,1159.3 1234.0,1160.6 1236.0,1161.7 1238.0,1162.8 1240.0,1163.7 1242.0,1164.6 1244.0,1165.4 1246.0,1166.0 1248.0,1166.6 1250.0,1167.2 1252.0,1167.6 1254.0,1168.0 1256.0,1168.4 1258.0,1168.7 1260.0,1169.0 1262.0,1169.2 1264.0,1169.4 1266.0,1169.6 1268.0,1169.7 1270.0,1169.8 1272.0,1169.9 1274.0,1170.0 1276.0,1170.1 1278.0,1170.1 1280.0,1170.2 1282.0,1170.2 1284.0,1170.3 1286.0,1170.3 1288.0,1170.3 1288.0,1170.7 1286.0,1170.7 1284.0,1170.7 1282.0,1170.7 1280.0,1170.7 1278.0,1170.7 1276.0,1170.7 1274.0,1170.7 1272.0,1170.7 1270.0,1170.7 1268.0,1170.7 1266.0,1170.7 1264.0,1170.7 1262.0,1170.7 1260.0,1170.7 1258.0,1170.7 1256.0,1170.7 1254.0,1170.7 1252.0,1170.7 1250.0,1170.7 1248.0,1170.7 1246.0,1170.7 1244.0,1170.6 1242.0,1170.6 1240.0,1170.6 1238.0,1170.6 1236.0,1170.6 1234.0,1170.6 1232.0,1170.6 1230.0,1170.6 1228.0,1170.6 1226.0,1170.6 1224.0,1170.6 1222.0,1170.5 1220.0,1170.5 1218.0,1170.5 1216.0,1170.5 1214.0,1170.4 1212.0,1170.4 1210.0,1170.4 1208.0,1170.4 1206.0,1170.3 1204.0,1170.3 1202.0,1170.3 1200.0,1170.2 1198.0,1170.2 1196.0,1170.1 1194.0,1170.1 1192.0,1170.0 1190.0,1170.0 1188.0,1169.9 1186.0,1169.9 1184.0,1169.8 1182.0,1169.8 1180.0,1169.7 1178.0,1169.6 1176.0,1169.6 1174.0,1169.5 1172.0,1169.4 1170.0,1169.4 1168.0,1169.3 1166.0,1169.2 1164.0,1169.2 1162.0,1169.1 1160.0,1169.0 1158.0,1169.0 1156.0,1168.9 1154.0,1168.8 1152.0,1168.8 1150.0,1168.7 1148.0,1168.7 1146.0,1168.6 1144.0,1168.5 1142.0,1168.5 1140.0,1168.4 1138.0,1168.3 1136.0,1168.3 1134.0,1168.2 1132.0,1168.1 1130.0,1168.1 1128.0,1168.0 1126.0,1167.9 1124.0,1167.9 1122.0,1167.8 1120.0,1167.7 1118.0,1167.7 1116.0,1167.6 1114.0,1167.5 1112.0,1167.4 1110.0,1167.4 1108.0,1167.3 1106.0,1167.2 1104.0,1167.1 1102.0,1167.0 1100.0,1167.0 1098.0,1166.9 1096.0,1166.8 1094.0,1166.7 1092.0,1166.6 1090.0,1166.5 1088.0,1166.4 1086.0,1166.3 1084.0,1166.2 1082.0,1166.1 1080.0,1166.1 1078.0,1166.0 1076.0,1165.9 1074.0,1165.8 1072.0,1165.7 1070.0,1165.6 1068.0,1165.5 1066.0,1165.4 1064.0,1165.3 1062.0,1165.3 1060.0,1165.2" fill="rgb(255,0,0)" fill-opacity="0.60" stroke="#575757" stroke-width="2.6" stroke-linejoin="round"/>
<polygon points="932.0,1160.0 934.0,1160.1 936.0,1160.2 938.0,1160.2 940.0,1160.3 942.0,1160.4 944.0,1160.5 946.0,1160.6 948.0,1160.6 950.0,1160.7 952.0,1160.7 954.0,1160.8 956.0,1160.8 958.0,1160.9 960.0,1160.9 962.0,1160.9 964.0,1160.9 966.0,1160.9 968.0,1160.9 970.0,1160.8 972.0,1160.8 974.0,1160.7 976.0,1160.6 978.0,1160.5 980.0,1160.4 982.0,1160.2 984.0,1160.0 986.0,1159.7 988.0,1159.4 990.0,1159.1 992.0,1158.7 994.0,1158.2 996.0,1157.7 998.0,1157.2 1000.0,1156.5 1002.0,1155.8 1004.0,1155.0 1006.0,1154.1 1008.0,1153.1 1010.0,1152.0 1012.0,1150.8 1014.0,1149.4 1016.0,1148.0 1018.0,1146.5 1020.0,1144.8 1022.0,1143.0 1024.0,1141.1 1026.0,1139.1 1028.0,1136.9 1030.0,1134.6 1032.0,1132.2 1034.0,1129.7 1036.0,1127.1 1038.0,1124.4 1040.0,1121.6 1042.0,1118.7 1044.0,1115.7 1046.0,1112.7 1048.0,1109.7 1050.0,1106.6 1052.0,1103.5 1054.0,1100.5 1056.0,1097.5 1058.0,1094.5 1060.0,1091.6 1062.0,1088.9 1064.0,1086.2 1066.0,1083.7 1068.0,1081.3 1070.0,1079.1 1072.0,1077.1 1074.0,1075.4 1076.0,1073.8 1078.0,1072.6 1080.0,1071.5 1082.0,1070.8 1084.0,1070.4 1086.0,1070.2 1088.0,1070.3 1090.0,1070.7 1092.0,1071.4 1094.0,1072.4 1096.0,1073.6 1098.0,1075.2 1100.0,1076.9 1102.0,1078.9 1104.0,1081.1 1106.0,1083.5 1108.0,1086.0 1110.0,1088.8 1112.0,1091.6 1114.0,1094.6 1116.0,1097.6 1118.0,1100.8 1120.0,1103.9 1122.0,1107.1 1124.0,1110.4 1126.0,1113.6 1128.0,1116.7 1130.0,1119.9 1132.0,1122.9 1134.0,1125.9 1136.0,1128.9 1138.0,1131.7 1140.0,1134.4 1142.0,1137.0 1144.0,1139.5 1146.0,1141.9 1148.0,1144.2 1150.0,1146.3 1152.0,1148.3 1154.0,1150.2 1156.0,1152.0 1158.0,1153.7 1160.0,1155.2 1162.0,1156.6 1164.0,1157.9 1166.0,1159.2 1168.0,1160.3 1170.0,1161.3 1172.0,1162.2 1174.0,1163.1 1176.0,1163.8 1178.0,1164.5 1180.0,1165.2 1182.0,1165.7 1184.0,1166.3 1186.0,1166.7 1188.0,1167.1 1190.0,1167.5 1192.0,1167.8 1194.0,1168.1 1196.0,1168.4 1198.0,1168.6 1200.0,1168.8 1202.0,1169.0 1204.0,1169.2 1206.0,1169.3 1208.0,1169.4 1210.0,1169.5 1212.0,1169.6 1214.0,1169.7 1216.0,1169.8 1218.0,1169.9 1220.0,1169.9 1222.0,1170.0 1224.0,1170.0 1226.0,1170.1 1228.0,1170.1 1230.0,1170.2 1232.0,1170.2 1234.0,1170.2 1236.0,1170.2 1238.0,1170.3 1240.0,1170.3 1242.0,1170.3 1242.0,1170.6 1240.0,1170.6 1238.0,1170.6 1236.0,1170.6 1234.0,1170.6 1232.0,1170.6 1230.0,1170.6 1228.0,1170.6 1226.0,1170.6 1224.0,1170.6 1222.0,1170.5 1220.0,1170.5 1218.0,1170.5 1216.0,1170.5 1214.0,1170.4 1212.0,1170.4 1210.0,1170.4 1208.0,1170.4 1206.0,1170.3 1204.0,1170.3 1202.0,1170.3 1200.0,1170.2 1198.0,1170.2 1196.0,1170.1 1194.0,1170.1 1192.0,1170.0 1190.0,1170.0 1188.0,1169.9 1186.0,1169.9 1184.0,1169.8 1182.0,1169.8 1180.0,1169.7 1178.0,1169.6 1176.0,1169.6 1174.0,1169.5 1172.0,1169.4 1170.0,1169.4 1168.0,1169.3 1166.0,1169.2 1164.0,1169.2 1162.0,1169.1 1160.0,1169.0 1158.0,1169.0 1156.0,1168.9 1154.0,1168.8 1152.0,1168.8 1150.0,1168.7 1148.0,1168.7 1146.0,1168.6 1144.0,1168.5 1142.0,1168.5 1140.0,1168.4 1138.0,1168.3 1136.0,1168.3 1134.0,1168.2 1132.0,1168.1 1130.0,1168.1 1128.0,1168.0 1126.0,1167.9 1124.0,1167.9 1122.0,1167.8 1120.0,1167.7 1118.0,1167.7 1116.0,1167.6 1114.0,1167.5 1112.0,1167.4 1110.0,1167.4 1108.0,1167.3 1106.0,1167.2 1104.0,1167.1 1102.0,1167.0 1100.0,1167.0 1098.0,1166.9 1096.0,1166.8 1094.0,1166.7 1092.0,1166.6 1090.0,1166.5 1088.0,1166.4 1086.0,1166.3 1084.0,1166.2 1082.0,1166.1 1080.0,1166.1 1078.0,1166.0 1076.0,1165.9 1074.0,1165.8 1072.0,1165.7 1070.0,1165.6 1068.0,1165.5 1066.0,1165.4 1064.0,1165.3 1062.0,1165.3 1060.0,1165.2 1058.0,1165.1 1056.0,1165.0 1054.0,1165.0 1052.0,1164.9 1050.0,1164.8 1048.0,1164.7 1046.0,1164.7 1044.0,1164.6 1042.0,1164.5 1040.0,1164.4 1038.0,1164.4 1036.0,1164.3 1034.0,1164.2 1032.0,1164.2 1030.0,1164.1 1028.0,1164.0 1026.0,1164.0 1024.0,1163.9 1022.0,1163.9 1020.0,1163.8 1018.0,1163.7 1016.0,1163.7 1014.0,1163.6 1012.0,1163.5 1010.0,1163.4 1008.0,1163.4 1006.0,1163.3 1004.0,1163.2 1002.0,1163.2 1000.0,1163.1 998.0,1163.0 996.0,1163.0 994.0,1162.9 992.0,1162.8 990.0,1162.7 988.0,1162.7 986.0,1162.6 984.0,1162.5 982.0,1162.5 980.0,1162.4 978.0,1162.3 976.0,1162.2 974.0,1162.2 972.0,1162.1 970.0,1162.0 968.0,1161.9 966.0,1161.9 964.0,1161.8 962.0,1161.7 960.0,1161.6 958.0,1161.5 956.0,1161.5 954.0,1161.4 952.0,1161.3 950.0,1161.2 948.0,1161.1 946.0,1161.0 944.0,1160.9 942.0,1160.8 940.0,1160.7 938.0,1160.6 936.0,1160.5 934.0,1160.4 932.0,1160.3" fill="rgb(0,255,0)" fill-opacity="0.60" stroke="#575757" stroke-width="2.6" stroke-linejoin="round"/>
<polygon points="886.0,1156.8 888.0,1157.0 890.0,1157.1 892.0,1157.2 894.0,1157.3 896.0,1157.4 898.0,1157.5 900.0,1157.6 902.0,1157.6 904.0,1157.6 906.0,1157.7 908.0,1157.7 910.0,1157.6 912.0,1157.6 914.0,1157.5 916.0,1157.3 918.0,1157.2 920.0,1156.9 922.0,1156.7 924.0,1156.4 926.0,1156.0 928.0,1155.5 930.0,1155.0 932.0,1154.5 934.0,1153.8 936.0,1153.1 938.0,1152.3 940.0,1151.4 942.0,1150.4 944.0,1149.3 946.0,1148.1 948.0,1146.8 950.0,1145.5 952.0,1144.0 954.0,1142.5 956.0,1140.8 958.0,1139.1 960.0,1137.3 962.0,1135.5 964.0,1133.6 966.0,1131.6 968.0,1129.6 970.0,1127.6 972.0,1125.6 974.0,1123.6 976.0,1121.7 978.0,1119.7 980.0,1117.9 982.0,1116.1 984.0,1114.4 986.0,1112.9 988.0,1111.5 990.0,1110.2 992.0,1109.1 994.0,1108.2 996.0,1107.4 998.0,1106.9 1000.0,1106.6 1002.0,1106.5 1004.0,1106.6 1006.0,1106.9 1008.0,1107.5 1010.0,1108.2 1012.0,1109.2 1014.0,1110.3 1016.0,1111.6 1018.0,1113.1 1020.0,1114.7 1022.0,1116.4 1024.0,1118.3 1026.0,1120.2 1028.0,1122.2 1030.0,1124.3 1032.0,1126.4 1034.0,1128.6 1036.0,1130.7 1038.0,1132.9 1040.0,1135.0 1042.0,1137.1 1044.0,1139.1 1046.0,1141.1 1048.0,1143.0 1050.0,1144.9 1052.0,1146.6 1054.0,1148.3 1056.0,1149.9 1058.0,1151.4 1060.0,1152.8 1062.0,1154.1 1064.0,1155.3 1066.0,1156.5 1068.0,1157.5 1070.0,1158.5 1072.0,1159.4 1074.0,1160.2 1076.0,1160.9 1078.0,1161.6 1080.0,1162.2 1082.0,1162.8 1084.0,1163.3 1086.0,1163.8 1088.0,1164.2 1090.0,1164.5 1092.0,1164.9 1094.0,1165.2 1096.0,1165.5 1098.0,1165.7 1100.0,1165.9 1102.0,1166.1 1104.0,1166.3 1106.0,1166.5 1108.0,1166.7 1110.0,1166.8 1112.0,1166.9 1114.0,1167.1 1116.0,1167.2 1118.0,1167.3 1120.0,1167.4 1120.0,1167.7 1118.0,1167.7 1116.0,1167.6 1114.0,1167.5 1112.0,1167.4 1110.0,1167.4 1108.0,1167.3 1106.0,1167.2 1104.0,1167.1 1102.0,1167.0 1100.0,1167.0 1098.0,1166.9 1096.0,1166.8 1094.0,1166.7 1092.0,1166.6 1090.0,1166.5 1088.0,1166.4 1086.0,1166.3 1084.0,1166.2 1082.0,1166.1 1080.0,1166.1 1078.0,1166.0 1076.0,1165.9 1074.0,1165.8 1072.0,1165.7 1070.0,1165.6 1068.0,1165.5 1066.0,1165.4 1064.0,1165.3 1062.0,1165.3 1060.0,1165.2 1058.0,1165.1 1056.0,1165.0 1054.0,1165.0 1052.0,1164.9 1050.0,1164.8 1048.0,1164.7 1046.0,1164.7 1044.0,1164.6 1042.0,1164.5 1040.0,1164.4 1038.0,1164.4 1036.0,1164.3 1034.0,1164.2 1032.0,1164.2 1030.0,1164.1 1028.0,1164.0 1026.0,1164.0 1024.0,1163.9 1022.0,1163.9 1020.0,1163.8 1018.0,1163.7 1016.0,1163.7 1014.0,1163.6 1012.0,1163.5 1010.0,1163.4 1008.0,1163.4 1006.0,1163.3 1004.0,1163.2 1002.0,1163.2 1000.0,1163.1 998.0,1163.0 996.0,1163.0 994.0,1162.9 992.0,1162.8 990.0,1162.7 988.0,1162.7 986.0,1162.6 984.0,1162.5 982.0,1162.5 980.0,1162.4 978.0,1162.3 976.0,1162.2 974.0,1162.2 972.0,1162.1 970.0,1162.0 968.0,1161.9 966.0,1161.9 964.0,1161.8 962.0,1161.7 960.0,1161.6 958.0,1161.5 956.0,1161.5 954.0,1161.4 952.0,1161.3 950.0,1161.2 948.0,1161.1 946.0,1161.0 944.0,1160.9 942.0,1160.8 940.0,1160.7 938.0,1160.6 936.0,1160.5 934.0,1160.4 932.0,1160.3 930.0,1160.2 928.0,1160.1 926.0,1160.0 924.0,1159.9 922.0,1159.8 920.0,1159.6 918.0,1159.5 916.0,1159.4 914.0,1159.3 912.0,1159.1 910.0,1159.0 908.0,1158.9 906.0,1158.7 904.0,1158.6 902.0,1158.4 900.0,1158.3 898.0,1158.1 896.0,1158.0 894.0,1157.8 892.0,1157.7 890.0,1157.5 888.0,1157.4 886.0,1157.2" fill="rgb(255,204,0)" fill-opacity="0.60" stroke="#575757" stroke-width="2.6" stroke-linejoin="round"/>
<polygon points="754.0,1142.4 756.0,1142.6 758.0,1142.8 760.0,1143.1 762.0,1143.3 764.0,1143.5 766.0,1143.7 768.0,1143.9 770.0,1144.2 772.0,1144.4 774.0,1144.6 776.0,1144.8 778.0,1145.0 780.0,1145.2 782.0,1145.4 784.0,1145.5 786.0,1145.7 788.0,1145.8 790.0,1146.0 792.0,1146.1 794.0,1146.2 796.0,1146.2 798.0,1146.3 800.0,1146.3 802.0,1146.2 804.0,1146.1 806.0,1146.0 808.0,1145.8 810.0,1145.6 812.0,1145.2 814.0,1144.8 816.0,1144.4 818.0,1143.8 820.0,1143.1 822.0,1142.3 824.0,1141.5 826.0,1140.4 828.0,1139.3 830.0,1138.0 832.0,1136.6 834.0,1135.1 836.0,1133.4 838.0,1131.5 840.0,1129.5 842.0,1127.3 844.0,1125.0 846.0,1122.5 848.0,1119.9 850.0,1117.1 852.0,1114.3 854.0,1111.3 856.0,1108.2 858.0,1105.0 860.0,1101.7 862.0,1098.5 864.0,1095.1 866.0,1091.8 868.0,1088.5 870.0,1085.3 872.0,1082.1 874.0,1079.1 876.0,1076.1 878.0,1073.4 880.0,1070.8 882.0,1068.5 884.0,1066.4 886.0,1064.6 888.0,1063.0 890.0,1061.8 892.0,1060.9 894.0,1060.3 896.0,1060.1 898.0,1060.3 900.0,1060.8 902.0,1061.6 904.0,1062.8 906.0,1064.3 908.0,1066.1 910.0,1068.2 912.0,1070.6 914.0,1073.2 916.0,1076.0 918.0,1079.1 920.0,1082.3 922.0,1085.6 924.0,1089.0 926.0,1092.6 928.0,1096.2 930.0,1099.8 932.0,1103.4 934.0,1106.9 936.0,1110.5 938.0,1113.9 940.0,1117.3 942.0,1120.6 944.0,1123.8 946.0,1126.8 948.0,1129.7 950.0,1132.5 952.0,1135.1 954.0,1137.6 956.0,1139.9 958.0,1142.1 960.0,1144.1 962.0,1146.0 964.0,1147.7 966.0,1149.3 968.0,1150.7 970.0,1152.1 972.0,1153.3 974.0,1154.4 976.0,1155.4 978.0,1156.2 980.0,1157.0 982.0,1157.8 984.0,1158.4 986.0,1159.0 988.0,1159.5 990.0,1160.0 992.0,1160.4 994.0,1160.7 996.0,1161.1 998.0,1161.4 1000.0,1161.6 1002.0,1161.9 1004.0,1162.1 1006.0,1162.3 1008.0,1162.4 1010.0,1162.6 1012.0,1162.7 1014.0,1162.9 1016.0,1163.0 1018.0,1163.1 1020.0,1163.2 1022.0,1163.3 1024.0,1163.4 1026.0,1163.5 1028.0,1163.6 1030.0,1163.7 1032.0,1163.8 1034.0,1163.9 1036.0,1163.9 1038.0,1164.0 1040.0,1164.1 1040.0,1164.4 1038.0,1164.4 1036.0,1164.3 1034.0,1164.2 1032.0,1164.2 1030.0,1164.1 1028.0,1164.0 1026.0,1164.0 1024.0,1163.9 1022.0,1163.9 1020.0,1163.8 1018.0,1163.7 1016.0,1163.7 1014.0,1163.6 1012.0,1163.5 1010.0,1163.4 1008.0,1163.4 1006.0,1163.3 1004.0,1163.2 1002.0,1163.2 1000.0,1163.1 998.0,1163.0 996.0,1163.0 994.0,1162.9 992.0,1162.8 990.0,1162.7 988.0,1162.7 986.0,1162.6 984.0,1162.5 982.0,1162.5 980.0,1162.4 978.0,1162.3 976.0,1162.2 974.0,1162.2 972.0,1162.1 970.0,1162.0 968.0,1161.9 966.0,1161.9 964.0,1161.8 962.0,1161.7 960.0,1161.6 958.0,1161.5 956.0,1161.5 954.0,1161.4 952.0,1161.3 950.0,1161.2 948.0,1161.1 946.0,1161.0 944.0,1160.9 942.0,1160.8 940.0,1160.7 938.0,1160.6 936.0,1160.5 934.0,1160.4 932.0,1160.3 930.0,1160.2 928.0,1160.1 926.0,1160.0 924.0,1159.9 922.0,1159.8 920.0,1159.6 918.0,1159.5 916.0,1159.4 914.0,1159.3 912.0,1159.1 910.0,1159.0 908.0,1158.9 906.0,1158.7 904.0,1158.6 902.0,1158.4 900.0,1158.3 898.0,1158.1 896.0,1158.0 894.0,1157.8 892.0,1157.7 890.0,1157.5 888.0,1157.4 886.0,1157.2 884.0,1157.1 882.0,1156.9 880.0,1156.7 878.0,1156.6 876.0,1156.4 874.0,1156.2 872.0,1156.1 870.0,1155.9 868.0,1155.7 866.0,1155.5 864.0,1155.4 862.0,1155.2 860.0,1155.0 858.0,1154.8 856.0,1154.6 854.0,1154.5 852.0,1154.3 850.0,1154.1 848.0,1153.9 846.0,1153.7 844.0,1153.5 842.0,1153.3 840.0,1153.1 838.0,1152.9 836.0,1152.7 834.0,1152.4 832.0,1152.2 830.0,1152.0 828.0,1151.8 826.0,1151.5 824.0,1151.3 822.0,1151.1 820.0,1150.8 818.0,1150.6 816.0,1150.4 814.0,1150.1 812.0,1149.9 810.0,1149.6 808.0,1149.4 806.0,1149.1 804.0,1148.9 802.0,1148.6 800.0,1148.4 798.0,1148.1 796.0,1147.9 794.0,1147.6 792.0,1147.4 790.0,1147.1 788.0,1146.9 786.0,1146.6 784.0,1146.4 782.0,1146.1 780.0,1145.9 778.0,1145.6 776.0,1145.4 774.0,1145.1 772.0,1144.9 770.0,1144.7 768.0,1144.4 766.0,1144.2 764.0,1143.9 762.0,1143.7 760.0,1143.5 758.0,1143.2 756.0,1143.0 754.0,1142.7" fill="rgb(0,0,255)" fill-opacity="0.60" stroke="#575757" stroke-width="2.6" stroke-linejoin="round"/>
<polygon points="608.0,1128.0 610.0,1128.2 612.0,1128.3 614.0,1128.5 616.0,1128.7 618.0,1128.8 620.0,1129.0 622.0,1129.1 624.0,1129.3 626.0,1129.4 628.0,1129.6 630.0,1129.7 632.0,1129.9 634.0,1130.1 636.0,1130.2 638.0,1130.4 640.0,1130.6 642.0,1130.7 644.0,1130.9 646.0,1131.1 648.0,1131.3 650.0,1131.4 652.0,1131.6 654.0,1131.8 656.0,1132.0 658.0,1132.1 660.0,1132.3 662.0,1132.5 664.0,1132.7 666.0,1132.9 668.0,1133.0 670.0,1133.2 672.0,1133.4 674.0,1133.5 676.0,1133.7 678.0,1133.8 680.0,1134.0 682.0,1134.1 684.0,1134.3 686.0,1134.4 688.0,1134.5 690.0,1134.6 692.0,1134.7 694.0,1134.7 696.0,1134.7 698.0,1134.8 700.0,1134.7 702.0,1134.7 704.0,1134.6 706.0,1134.5 708.0,1134.3 710.0,1134.0 712.0,1133.7 714.0,1133.4 716.0,1132.9 718.0,1132.4 720.0,1131.7 722.0,1131.0 724.0,1130.1 726.0,1129.1 728.0,1128.0 730.0,1126.7 732.0,1125.2 734.0,1123.5 736.0,1121.7 738.0,1119.7 740.0,1117.4 742.0,1114.9 744.0,1112.2 746.0,1109.3 748.0,1106.1 750.0,1102.6 752.0,1098.9 754.0,1095.0 756.0,1090.7 758.0,1086.3 760.0,1081.6 762.0,1076.6 764.0,1071.5 766.0,1066.2 768.0,1060.6 770.0,1055.0 772.0,1049.2 774.0,1043.3 776.0,1037.3 778.0,1031.4 780.0,1025.4 782.0,1019.6 784.0,1013.8 786.0,1008.2 788.0,1002.7 790.0,997.6 792.0,992.7 794.0,988.1 796.0,983.9 798.0,980.2 800.0,976.9 802.0,974.1 804.0,971.8 806.0,970.1 808.0,968.9 810.0,968.3 812.0,968.4 814.0,969.0 816.0,970.2 818.0,972.0 820.0,974.4 822.0,977.3 824.0,980.7 826.0,984.7 828.0,989.0 830.0,993.8 832.0,998.9 834.0,1004.4 836.0,1010.1 838.0,1016.0 840.0,1022.2 842.0,1028.4 844.0,1034.8 846.0,1041.2 848.0,1047.6 850.0,1053.9 852.0,1060.2 854.0,1066.4 856.0,1072.5 858.0,1078.4 860.0,1084.1 862.0,1089.6 864.0,1094.9 866.0,1099.9 868.0,1104.8 870.0,1109.3 872.0,1113.6 874.0,1117.6 876.0,1121.4 878.0,1125.0 880.0,1128.2 882.0,1131.3 884.0,1134.1 886.0,1136.6 888.0,1139.0 890.0,1141.2 892.0,1143.1 894.0,1144.9 896.0,1146.6 898.0,1148.0 900.0,1149.3 902.0,1150.5 904.0,1151.6 906.0,1152.6 908.0,1153.4 910.0,1154.2 912.0,1154.9 914.0,1155.5 916.0,1156.1 918.0,1156.6 920.0,1157.0 922.0,1157.4 924.0,1157.8 926.0,1158.1 928.0,1158.4 930.0,1158.7 932.0,1158.9 934.0,1159.1 936.0,1159.3 938.0,1159.5 940.0,1159.7 942.0,1159.8 944.0,1160.0 946.0,1160.1 948.0,1160.3 950.0,1160.4 952.0,1160.5 954.0,1160.6 956.0,1160.7 958.0,1160.8 960.0,1161.0 962.0,1161.1 964.0,1161.2 966.0,1161.2 968.0,1161.3 970.0,1161.4 972.0,1161.5 974.0,1161.6 976.0,1161.7 978.0,1161.8 980.0,1161.9 982.0,1162.0 984.0,1162.0 986.0,1162.1 988.0,1162.2 990.0,1162.3 992.0,1162.4 994.0,1162.4 996.0,1162.5 998.0,1162.6 1000.0,1162.7 1002.0,1162.8 1004.0,1162.8 1006.0,1162.9 1008.0,1163.0 1010.0,1163.1 1012.0,1163.2 1014.0,1163.2 1016.0,1163.3 1016.0,1163.7 1014.0,1163.6 1012.0,1163.5 1010.0,1163.4 1008.0,1163.4 1006.0,1163.3 1004.0,1163.2 1002.0,1163.2 1000.0,1163.1 998.0,1163.0 996.0,1163.0 994.0,1162.9 992.0,1162.8 990.0,1162.7 988.0,1162.7 986.0,1162.6 984.0,1162.5 982.0,1162.5 980.0,1162.4 978.0,1162.3 976.0,1162.2 974.0,1162.2 972.0,1162.1 970.0,1162.0 968.0,1161.9 966.0,1161.9 964.0,1161.8 962.0,1161.7 960.0,1161.6 958.0,1161.5 956.0,1161.5 954.0,1161.4 952.0,1161.3 950.0,1161.2 948.0,1161.1 946.0,1161.0 944.0,1160.9 942.0,1160.8 940.0,1160.7 938.0,1160.6 936.0,1160.5 934.0,1160.4 932.0,1160.3 930.0,1160.2 928.0,1160.1 926.0,1160.0 924.0,1159.9 922.0,1159.8 920.0,1159.6 918.0,1159.5 916.0,1159.4 914.0,1159.3 912.0,1159.1 910.0,1159.0 908.0,1158.9 906.0,1158.7 904.0,1158.6 902.0,1158.4 900.0,1158.3 898.0,1158.1 896.0,1158.0 894.0,1157.8 892.0,1157.7 890.0,1157.5 888.0,1157.4 886.0,1157.2 884.0,1157.1 882.0,1156.9 880.0,1156.7 878.0,1156.6 876.0,1156.4 874.0,1156.2 872.0,1156.1 870.0,1155.9 868.0,1155.7 866.0,1155.5 864.0,1155.4 862.0,1155.2 860.0,1155.0 858.0,1154.8 856.0,1154.6 854.0,1154.5 852.0,1154.3 850.0,1154.1 848.0,1153.9 846.0,1153.7 844.0,1153.5 842.0,1153.3 840.0,1153.1 838.0,1152.9 836.0,1152.7 834.0,1152.4 832.0,1152.2 830.0,1152.0 828.0,1151.8 826.0,1151.5 824.0,1151.3 822.0,1151.1 820.0,1150.8 818.0,1150.6 816.0,1150.4 814.0,1150.1 812.0,1149.9 810.0,1149.6 808.0,1149.4 806.0,1149.1 804.0,1148.9 802.0,1148.6 800.0,1148.4 798.0,1148.1 796.0,1147.9 794.0,1147.6 792.0,1147.4 790.0,1147.1 788.0,1146.9 786.0,1146.6 784.0,1146.4 782.0,1146.1 780.0,1145.9 778.0,1145.6 776.0,1145.4 774.0,1145.1 772.0,1144.9 770.0,1144.7 768.0,1144.4 766.0,1144.2 764.0,1143.9 762.0,1143.7 760.0,1143.5 758.0,1143.2 756.0,1143.0 754.0,1142.7 752.0,1142.5 750.0,1142.3 748.0,1142.0 746.0,1141.8 744.0,1141.6 742.0,1141.3 740.0,1141.1 738.0,1140.9 736.0,1140.7 734.0,1140.4 732.0,1140.2 730.0,1140.0 728.0,1139.8 726.0,1139.6 724.0,1139.4 722.0,1139.1 720.0,1138.9 718.0,1138.7 716.0,1138.5 714.0,1138.3 712.0,1138.1 710.0,1137.9 708.0,1137.7 706.0,1137.5 704.0,1137.3 702.0,1137.1 700.0,1136.9 698.0,1136.7 696.0,1136.5 694.0,1136.3 692.0,1136.1 690.0,1135.9 688.0,1135.7 686.0,1135.5 684.0,1135.3 682.0,1135.1 680.0,1134.9 678.0,1134.7 676.0,1134.5 674.0,1134.3 672.0,1134.1 670.0,1133.9 668.0,1133.7 666.0,1133.5 664.0,1133.3 662.0,1133.2 660.0,1133.0 658.0,1132.8 656.0,1132.6 654.0,1132.4 652.0,1132.2 650.0,1132.0 648.0,1131.8 646.0,1131.6 644.0,1131.4 642.0,1131.2 640.0,1131.1 638.0,1130.9 636.0,1130.7 634.0,1130.5 632.0,1130.4 630.0,1130.2 628.0,1130.0 626.0,1129.8 624.0,1129.7 622.0,1129.5 620.0,1129.4 618.0,1129.2 616.0,1129.0 614.0,1128.9 612.0,1128.7 610.0,1128.6 608.0,1128.4" fill="rgb(153,0,204)" fill-opacity="0.60" stroke="#575757" stroke-width="2.6" stroke-linejoin="round"/>
<polygon points="524.0,1123.8 526.0,1123.8 528.0,1123.8 530.0,1123.9 532.0,1123.9 534.0,1123.9 536.0,1124.0 538.0,1124.0 540.0,1124.0 542.0,1124.1 544.0,1124.1 546.0,1124.2 548.0,1124.3 550.0,1124.3 552.0,1124.4 554.0,1124.5 556.0,1124.5 558.0,1124.6 560.0,1124.7 562.0,1124.8 564.0,1124.9 566.0,1125.0 568.0,1125.1 570.0,1125.2 572.0,1125.3 574.0,1125.4 576.0,1125.5 578.0,1125.6 580.0,1125.7 582.0,1125.8 584.0,1125.9 586.0,1126.1 588.0,1126.2 590.0,1126.3 592.0,1126.4 594.0,1126.5 596.0,1126.6 598.0,1126.7 600.0,1126.8 602.0,1126.9 604.0,1127.0 606.0,1127.1 608.0,1127.2 610.0,1127.2 612.0,1127.3 614.0,1127.3 616.0,1127.3 618.0,1127.3 620.0,1127.2 622.0,1127.2 624.0,1127.1 626.0,1127.0 628.0,1126.8 630.0,1126.6 632.0,1126.3 634.0,1126.0 636.0,1125.6 638.0,1125.2 640.0,1124.6 642.0,1124.0 644.0,1123.3 646.0,1122.5 648.0,1121.5 650.0,1120.5 652.0,1119.3 654.0,1118.0 656.0,1116.5 658.0,1114.8 660.0,1113.0 662.0,1111.0 664.0,1108.8 666.0,1106.4 668.0,1103.8 670.0,1101.0 672.0,1098.0 674.0,1094.7 676.0,1091.2 678.0,1087.5 680.0,1083.6 682.0,1079.5 684.0,1075.1 686.0,1070.6 688.0,1065.8 690.0,1060.9 692.0,1055.8 694.0,1050.6 696.0,1045.2 698.0,1039.8 700.0,1034.2 702.0,1028.7 704.0,1023.1 706.0,1017.5 708.0,1012.0 710.0,1006.6 712.0,1001.3 714.0,996.2 716.0,991.3 718.0,986.6 720.0,982.3 722.0,978.2 724.0,974.5 726.0,971.1 728.0,968.2 730.0,965.7 732.0,963.7 734.0,962.2 736.0,961.2 738.0,960.7 740.0,960.7 742.0,961.3 744.0,962.3 746.0,963.9 748.0,966.0 750.0,968.6 752.0,971.6 754.0,975.1 756.0,979.0 758.0,983.2 760.0,987.8 762.0,992.7 764.0,997.9 766.0,1003.3 768.0,1008.9 770.0,1014.6 772.0,1020.5 774.0,1026.5 776.0,1032.5 778.0,1038.5 780.0,1044.5 782.0,1050.5 784.0,1056.4 786.0,1062.1 788.0,1067.8 790.0,1073.3 792.0,1078.6 794.0,1083.8 796.0,1088.7 798.0,1093.5 800.0,1098.0 802.0,1102.3 804.0,1106.4 806.0,1110.3 808.0,1114.0 810.0,1117.4 812.0,1120.6 814.0,1123.6 816.0,1126.4 818.0,1129.0 820.0,1131.4 822.0,1133.6 824.0,1135.6 826.0,1137.5 828.0,1139.2 830.0,1140.8 832.0,1142.2 834.0,1143.5 836.0,1144.7 838.0,1145.8 840.0,1146.8 842.0,1147.7 844.0,1148.5 846.0,1149.3 848.0,1149.9 850.0,1150.6 852.0,1151.1 854.0,1151.6 856.0,1152.1 858.0,1152.5 860.0,1152.9 862.0,1153.3 864.0,1153.7 866.0,1154.0 868.0,1154.3 870.0,1154.6 872.0,1154.8 874.0,1155.1 876.0,1155.3 878.0,1155.5 880.0,1155.8 882.0,1156.0 884.0,1156.2 886.0,1156.4 888.0,1156.6 890.0,1156.8 892.0,1157.0 894.0,1157.1 896.0,1157.3 898.0,1157.5 900.0,1157.7 902.0,1157.8 904.0,1158.0 906.0,1158.1 908.0,1158.3 910.0,1158.4 912.0,1158.6 914.0,1158.7 916.0,1158.9 918.0,1159.0 920.0,1159.1 922.0,1159.3 924.0,1159.4 926.0,1159.5 928.0,1159.7 930.0,1159.8 932.0,1159.9 934.0,1160.0 936.0,1160.1 938.0,1160.2 940.0,1160.3 942.0,1160.4 944.0,1160.5 946.0,1160.6 948.0,1160.7 950.0,1160.8 952.0,1160.9 954.0,1161.0 956.0,1161.1 956.0,1161.5 954.0,1161.4 952.0,1161.3 950.0,1161.2 948.0,1161.1 946.0,1161.0 944.0,1160.9 942.0,1160.8 940.0,1160.7 938.0,1160.6 936.0,1160.5 934.0,1160.4 932.0,1160.3 930.0,1160.2 928.0,1160.1 926.0,1160.0 924.0,1159.9 922.0,1159.8 920.0,1159.6 918.0,1159.5 916.0,1159.4 914.0,1159.3 912.0,1159.1 910.0,1159.0 908.0,1158.9 906.0,1158.7 904.0,1158.6 902.0,1158.4 900.0,1158.3 898.0,1158.1 896.0,1158.0 894.0,1157.8 892.0,1157.7 890.0,1157.5 888.0,1157.4 886.0,1157.2 884.0,1157.1 882.0,1156.9 880.0,1156.7 878.0,1156.6 876.0,1156.4 874.0,1156.2 872.0,1156.1 870.0,1155.9 868.0,1155.7 866.0,1155.5 864.0,1155.4 862.0,1155.2 860.0,1155.0 858.0,1154.8 856.0,1154.6 854.0,1154.5 852.0,1154.3 850.0,1154.1 848.0,1153.9 846.0,1153.7 844.0,1153.5 842.0,1153.3 840.0,1153.1 838.0,1152.9 836.0,1152.7 834.0,1152.4 832.0,1152.2 830.0,1152.0 828.0,1151.8 826.0,1151.5 824.0,1151.3 822.0,1151.1 820.0,1150.8 818.0,1150.6 816.0,1150.4 814.0,1150.1 812.0,1149.9 810.0,1149.6 808.0,1149.4 806.0,1149.1 804.0,1148.9 802.0,1148.6 800.0,1148.4 798.0,1148.1 796.0,1147.9 794.0,1147.6 792.0,1147.4 790.0,1147.1 788.0,1146.9 786.0,1146.6 784.0,1146.4 782.0,1146.1 780.0,1145.9 778.0,1145.6 776.0,1145.4 774.0,1145.1 772.0,1144.9 770.0,1144.7 768.0,1144.4 766.0,1144.2 764.0,1143.9 762.0,1143.7 760.0,1143.5 758.0,1143.2 756.0,1143.0 754.0,1142.7 752.0,1142.5 750.0,1142.3 748.0,1142.0 746.0,1141.8 744.0,1141.6 742.0,1141.3 740.0,1141.1 738.0,1140.9 736.0,1140.7 734.0,1140.4 732.0,1140.2 730.0,1140.0 728.0,1139.8 726.0,1139.6 724.0,1139.4 722.0,1139.1 720.0,1138.9 718.0,1138.7 716.0,1138.5 714.0,1138.3 712.0,1138.1 710.0,1137.9 708.0,1137.7 706.0,1137.5 704.0,1137.3 702.0,1137.1 700.0,1136.9 698.0,1136.7 696.0,1136.5 694.0,1136.3 692.0,1136.1 690.0,1135.9 688.0,1135.7 686.0,1135.5 684.0,1135.3 682.0,1135.1 680.0,1134.9 678.0,1134.7 676.0,1134.5 674.0,1134.3 672.0,1134.1 670.0,1133.9 668.0,1133.7 666.0,1133.5 664.0,1133.3 662.0,1133.2 660.0,1133.0 658.0,1132.8 656.0,1132.6 654.0,1132.4 652.0,1132.2 650.0,1132.0 648.0,1131.8 646.0,1131.6 644.0,1131.4 642.0,1131.2 640.0,1131.1 638.0,1130.9 636.0,1130.7 634.0,1130.5 632.0,1130.4 630.0,1130.2 628.0,1130.0 626.0,1129.8 624.0,1129.7 622.0,1129.5 620.0,1129.4 618.0,1129.2 616.0,1129.0 614.0,1128.9 612.0,1128.7 610.0,1128.6 608.0,1128.4 606.0,1128.2 604.0,1128.1 602.0,1127.9 600.0,1127.8 598.0,1127.6 596.0,1127.5 594.0,1127.3 592.0,1127.2 590.0,1127.0 588.0,1126.9 586.0,1126.8 584.0,1126.6 582.0,1126.5 580.0,1126.4 578.0,1126.2 576.0,1126.1 574.0,1126.0 572.0,1125.8 570.0,1125.7 568.0,1125.6 566.0,1125.5 564.0,1125.4 562.0,1125.3 560.0,1125.2 558.0,1125.1 556.0,1125.0 554.0,1124.9 552.0,1124.8 550.0,1124.8 548.0,1124.7 546.0,1124.6 544.0,1124.6 542.0,1124.5 540.0,1124.5 538.0,1124.4 536.0,1124.4 534.0,1124.3 532.0,1124.3 530.0,1124.2 528.0,1124.2 526.0,1124.2 524.0,1124.1" fill="rgb(247,97,0)" fill-opacity="0.60" stroke="#575757" stroke-width="2.6" stroke-linejoin="round"/>
<polygon points="492.0,1123.6 494.0,1123.6 496.0,1123.6 498.0,1123.6 500.0,1123.6 502.0,1123.5 504.0,1123.5 506.0,1123.5 508.0,1123.5 510.0,1123.5 512.0,1123.5 514.0,1123.5 516.0,1123.5 518.0,1123.5 520.0,1123.5 522.0,1123.5 524.0,1123.5 526.0,1123.5 528.0,1123.4 530.0,1123.4 532.0,1123.4 534.0,1123.3 536.0,1123.3 538.0,1123.2 540.0,1123.2 542.0,1123.1 544.0,1123.0 546.0,1122.8 548.0,1122.7 550.0,1122.5 552.0,1122.3 554.0,1122.1 556.0,1121.8 558.0,1121.5 560.0,1121.1 562.0,1120.7 564.0,1120.2 566.0,1119.6 568.0,1119.0 570.0,1118.3 572.0,1117.5 574.0,1116.6 576.0,1115.6 578.0,1114.5 580.0,1113.2 582.0,1111.9 584.0,1110.4 586.0,1108.8 588.0,1107.0 590.0,1105.1 592.0,1103.1 594.0,1100.9 596.0,1098.6 598.0,1096.1 600.0,1093.5 602.0,1090.7 604.0,1087.8 606.0,1084.7 608.0,1081.6 610.0,1078.3 612.0,1074.9 614.0,1071.5 616.0,1067.9 618.0,1064.4 620.0,1060.8 622.0,1057.2 624.0,1053.6 626.0,1050.0 628.0,1046.6 630.0,1043.2 632.0,1039.9 634.0,1036.8 636.0,1033.8 638.0,1031.1 640.0,1028.5 642.0,1026.2 644.0,1024.2 646.0,1022.5 648.0,1021.0 650.0,1019.9 652.0,1019.2 654.0,1018.7 656.0,1018.7 658.0,1018.9 660.0,1019.6 662.0,1020.5 664.0,1021.8 666.0,1023.5 668.0,1025.4 670.0,1027.7 672.0,1030.2 674.0,1033.0 676.0,1036.0 678.0,1039.2 680.0,1042.7 682.0,1046.2 684.0,1049.9 686.0,1053.7 688.0,1057.6 690.0,1061.5 692.0,1065.5 694.0,1069.4 696.0,1073.4 698.0,1077.3 700.0,1081.1 702.0,1084.9 704.0,1088.6 706.0,1092.2 708.0,1095.6 710.0,1099.0 712.0,1102.2 714.0,1105.2 716.0,1108.2 718.0,1110.9 720.0,1113.6 722.0,1116.1 724.0,1118.4 726.0,1120.6 728.0,1122.6 730.0,1124.5 732.0,1126.3 734.0,1127.9 736.0,1129.5 738.0,1130.9 740.0,1132.2 742.0,1133.4 744.0,1134.5 746.0,1135.5 748.0,1136.5 750.0,1137.3 752.0,1138.1 754.0,1138.9 756.0,1139.5 758.0,1140.2 760.0,1140.7 762.0,1141.3 764.0,1141.8 766.0,1142.3 768.0,1142.7 770.0,1143.1 772.0,1143.5 774.0,1143.9 776.0,1144.3 778.0,1144.6 780.0,1144.9 782.0,1145.3 784.0,1145.6 786.0,1145.9 788.0,1146.2 790.0,1146.5 792.0,1146.8 794.0,1147.0 796.0,1147.3 798.0,1147.6 800.0,1147.9 802.0,1148.2 804.0,1148.4 806.0,1148.7 808.0,1149.0 810.0,1149.2 812.0,1149.5 814.0,1149.7 816.0,1150.0 818.0,1150.2 820.0,1150.5 822.0,1150.7 822.0,1151.1 820.0,1150.8 818.0,1150.6 816.0,1150.4 814.0,1150.1 812.0,1149.9 810.0,1149.6 808.0,1149.4 806.0,1149.1 804.0,1148.9 802.0,1148.6 800.0,1148.4 798.0,1148.1 796.0,1147.9 794.0,1147.6 792.0,1147.4 790.0,1147.1 788.0,1146.9 786.0,1146.6 784.0,1146.4 782.0,1146.1 780.0,1145.9 778.0,1145.6 776.0,1145.4 774.0,1145.1 772.0,1144.9 770.0,1144.7 768.0,1144.4 766.0,1144.2 764.0,1143.9 762.0,1143.7 760.0,1143.5 758.0,1143.2 756.0,1143.0 754.0,1142.7 752.0,1142.5 750.0,1142.3 748.0,1142.0 746.0,1141.8 744.0,1141.6 742.0,1141.3 740.0,1141.1 738.0,1140.9 736.0,1140.7 734.0,1140.4 732.0,1140.2 730.0,1140.0 728.0,1139.8 726.0,1139.6 724.0,1139.4 722.0,1139.1 720.0,1138.9 718.0,1138.7 716.0,1138.5 714.0,1138.3 712.0,1138.1 710.0,1137.9 708.0,1137.7 706.0,1137.5 704.0,1137.3 702.0,1137.1 700.0,1136.9 698.0,1136.7 696.0,1136.5 694.0,1136.3 692.0,1136.1 690.0,1135.9 688.0,1135.7 686.0,1135.5 684.0,1135.3 682.0,1135.1 680.0,1134.9 678.0,1134.7 676.0,1134.5 674.0,1134.3 672.0,1134.1 670.0,1133.9 668.0,1133.7 666.0,1133.5 664.0,1133.3 662.0,1133.2 660.0,1133.0 658.0,1132.8 656.0,1132.6 654.0,1132.4 652.0,1132.2 650.0,1132.0 648.0,1131.8 646.0,1131.6 644.0,1131.4 642.0,1131.2 640.0,1131.1 638.0,1130.9 636.0,1130.7 634.0,1130.5 632.0,1130.4 630.0,1130.2 628.0,1130.0 626.0,1129.8 624.0,1129.7 622.0,1129.5 620.0,1129.4 618.0,1129.2 616.0,1129.0 614.0,1128.9 612.0,1128.7 610.0,1128.6 608.0,1128.4 606.0,1128.2 604.0,1128.1 602.0,1127.9 600.0,1127.8 598.0,1127.6 596.0,1127.5 594.0,1127.3 592.0,1127.2 590.0,1127.0 588.0,1126.9 586.0,1126.8 584.0,1126.6 582.0,1126.5 580.0,1126.4 578.0,1126.2 576.0,1126.1 574.0,1126.0 572.0,1125.8 570.0,1125.7 568.0,1125.6 566.0,1125.5 564.0,1125.4 562.0,1125.3 560.0,1125.2 558.0,1125.1 556.0,1125.0 554.0,1124.9 552.0,1124.8 550.0,1124.8 548.0,1124.7 546.0,1124.6 544.0,1124.6 542.0,1124.5 540.0,1124.5 538.0,1124.4 536.0,1124.4 534.0,1124.3 532.0,1124.3 530.0,1124.2 528.0,1124.2 526.0,1124.2 524.0,1124.1 522.0,1124.1 520.0,1124.1 518.0,1124.1 516.0,1124.1 514.0,1124.0 512.0,1124.0 510.0,1124.0 508.0,1124.0 506.0,1124.0 504.0,1124.0 502.0,1124.0 500.0,1124.0 498.0,1123.9 496.0,1123.9 494.0,1123.9 492.0,1123.9" fill="rgb(0,153,57)" fill-opacity="0.60" stroke="#575757" stroke-width="2.6" stroke-linejoin="round"/>
<polyline points="264.0,1123.8 266.0,1123.8 268.0,1123.8 270.0,1123.8 272.0,1123.8 274.0,1123.8 276.0,1123.8 278.0,1123.8 280.0,1123.8 282.0,1123.8 284.0,1123.8 286.0,1123.8 288.0,1123.8 290.0,1123.8 292.0,1123.8 294.0,1123.8 296.0,1123.8 298.0,1123.8 300.0,1123.8 302.0,1123.8 304.0,1123.8 306.0,1123.8 308.0,1123.8 310.0,1123.8 312.0,1123.8 314.0,1123.8 316.0,1123.8 318.0,1123.8 320.0,1123.8 322.0,1123.8 324.0,1123.8 326.0,1123.8 328.0,1123.8 330.0,1123.8 332.0,1123.8 334.0,1123.8 336.0,1123.8 338.0,1123.8 340.0,1123.8 342.0,1123.8 344.0,1123.8 346.0,1123.8 348.0,1123.8 350.0,1123.8 352.0,1123.8 354.0,1123.8 356.0,1123.8 358.0,1123.8 360.0,1123.8 362.0,1123.8 364.0,1123.8 366.0,1123.8 368.0,1123.8 370.0,1123.8 372.0,1123.8 374.0,1123.8 376.0,1123.8 378.0,1123.8 380.0,1123.8 382.0,1123.8 384.0,1123.8 386.0,1123.8 388.0,1123.8 390.0,1123.8 392.0,1123.8 394.0,1123.8 396.0,1123.8 398.0,1123.8 400.0,1123.8 402.0,1123.8 404.0,1123.8 406.0,1123.9 408.0,1123.9 410.0,1123.9 412.0,1123.9 414.0,1123.9 416.0,1123.9 418.0,1123.9 420.0,1123.9 422.0,1123.9 424.0,1123.9 426.0,1123.9 428.0,1123.9 430.0,1123.9 432.0,1123.9 434.0,1123.9 436.0,1123.9 438.0,1123.9 440.0,1123.9 442.0,1123.9 444.0,1123.9 446.0,1123.9 448.0,1123.9 450.0,1123.9 452.0,1123.9 454.0,1123.9 456.0,1123.9 458.0,1123.9 460.0,1123.9 462.0,1123.9 464.0,1123.9 466.0,1123.9 468.0,1123.9 470.0,1123.9 472.0,1123.9 474.0,1123.9 476.0,1123.9 478.0,1123.9 480.0,1123.9 482.0,1123.9 484.0,1123.9 486.0,1123.9 488.0,1123.9 490.0,1123.9 492.0,1123.9 494.0,1123.9 496.0,1123.9 498.0,1123.9 500.0,1124.0 502.0,1124.0 504.0,1124.0 506.0,1124.0 508.0,1124.0 510.0,1124.0 512.0,1124.0 514.0,1124.0 516.0,1124.1 518.0,1124.1 520.0,1124.1 522.0,1124.1 524.0,1124.1 526.0,1124.2 528.0,1124.2 530.0,1124.2 532.0,1124.3 534.0,1124.3 536.0,1124.4 538.0,1124.4 540.0,1124.5 542.0,1124.5 544.0,1124.6 546.0,1124.6 548.0,1124.7 550.0,1124.8 552.0,1124.8 554.0,1124.9 556.0,1125.0 558.0,1125.1 560.0,1125.2 562.0,1125.3 564.0,1125.4 566.0,1125.5 568.0,1125.6 570.0,1125.7 572.0,1125.8 574.0,1126.0 576.0,1126.1 578.0,1126.2 580.0,1126.4 582.0,1126.5 584.0,1126.6 586.0,1126.8 588.0,1126.9 590.0,1127.0 592.0,1127.2 594.0,1127.3 596.0,1127.5 598.0,1127.6 600.0,1127.8 602.0,1127.9 604.0,1128.1 606.0,1128.2 608.0,1128.4 610.0,1128.6 612.0,1128.7 614.0,1128.9 616.0,1129.0 618.0,1129.2 620.0,1129.4 622.0,1129.5 624.0,1129.7 626.0,1129.8 628.0,1130.0 630.0,1130.2 632.0,1130.4 634.0,1130.5 636.0,1130.7 638.0,1130.9 640.0,1131.1 642.0,1131.2 644.0,1131.4 646.0,1131.6 648.0,1131.8 650.0,1132.0 652.0,1132.2 654.0,1132.4 656.0,1132.6 658.0,1132.8 660.0,1133.0 662.0,1133.2 664.0,1133.3 666.0,1133.5 668.0,1133.7 670.0,1133.9 672.0,1134.1 674.0,1134.3 676.0,1134.5 678.0,1134.7 680.0,1134.9 682.0,1135.1 684.0,1135.3 686.0,1135.5 688.0,1135.7 690.0,1135.9 692.0,1136.1 694.0,1136.3 696.0,1136.5 698.0,1136.7 700.0,1136.9 702.0,1137.1 704.0,1137.3 706.0,1137.5 708.0,1137.7 710.0,1137.9 712.0,1138.1 714.0,1138.3 716.0,1138.5 718.0,1138.7 720.0,1138.9 722.0,1139.1 724.0,1139.4 726.0,1139.6 728.0,1139.8 730.0,1140.0 732.0,1140.2 734.0,1140.4 736.0,1140.7 738.0,1140.9 740.0,1141.1 742.0,1141.3 744.0,1141.6 746.0,1141.8 748.0,1142.0 750.0,1142.3 752.0,1142.5 754.0,1142.7 756.0,1143.0 758.0,1143.2 760.0,1143.5 762.0,1143.7 764.0,1143.9 766.0,1144.2 768.0,1144.4 770.0,1144.7 772.0,1144.9 774.0,1145.1 776.0,1145.4 778.0,1145.6 780.0,1145.9 782.0,1146.1 784.0,1146.4 786.0,1146.6 788.0,1146.9 790.0,1147.1 792.0,1147.4 794.0,1147.6 796.0,1147.9 798.0,1148.1 800.0,1148.4 802.0,1148.6 804.0,1148.9 806.0,1149.1 808.0,1149.4 810.0,1149.6 812.0,1149.9 814.0,1150.1 816.0,1150.4 818.0,1150.6 820.0,1150.8 822.0,1151.1 824.0,1151.3 826.0,1151.5 828.0,1151.8 830.0,1152.0 832.0,1152.2 834.0,1152.4 836.0,1152.7 838.0,1152.9 840.0,1153.1 842.0,1153.3 844.0,1153.5 846.0,1153.7 848.0,1153.9 850.0,1154.1 852.0,1154.3 854.0,1154.5 856.0,1154.6 858.0,1154.8 860.0,1155.0 862.0,1155.2 864.0,1155.4 866.0,1155.5 868.0,1155.7 870.0,1155.9 872.0,1156.1 874.0,1156.2 876.0,1156.4 878.0,1156.6 880.0,1156.7 882.0,1156.9 884.0,1157.1 886.0,1157.2 888.0,1157.4 890.0,1157.5 892.0,1157.7 894.0,1157.8 896.0,1158.0 898.0,1158.1 900.0,1158.3 902.0,1158.4 904.0,1158.6 906.0,1158.7 908.0,1158.9 910.0,1159.0 912.0,1159.1 914.0,1159.3 916.0,1159.4 918.0,1159.5 920.0,1159.6 922.0,1159.8 924.0,1159.9 926.0,1160.0 928.0,1160.1 930.0,1160.2 932.0,1160.3 934.0,1160.4 936.0,1160.5 938.0,1160.6 940.0,1160.7 942.0,1160.8 944.0,1160.9 946.0,1161.0 948.0,1161.1 950.0,1161.2 952.0,1161.3 954.0,1161.4 956.0,1161.5 958.0,1161.5 960.0,1161.6 962.0,1161.7 964.0,1161.8 966.0,1161.9 968.0,1161.9 970.0,1162.0 972.0,1162.1 974.0,1162.2 976.0,1162.2 978.0,1162.3 980.0,1162.4 982.0,1162.5 984.0,1162.5 986.0,1162.6 988.0,1162.7 990.0,1162.7 992.0,1162.8 994.0,1162.9 996.0,1163.0 998.0,1163.0 1000.0,1163.1 1002.0,1163.2 1004.0,1163.2 1006.0,1163.3 1008.0,1163.4 1010.0,1163.4 1012.0,1163.5 1014.0,1163.6 1016.0,1163.7 1018.0,1163.7 1020.0,1163.8 1022.0,1163.9 1024.0,1163.9 1026.0,1164.0 1028.0,1164.0 1030.0,1164.1 1032.0,1164.2 1034.0,1164.2 1036.0,1164.3 1038.0,1164.4 1040.0,1164.4 1042.0,1164.5 1044.0,1164.6 1046.0,1164.7 1048.0,1164.7 1050.0,1164.8 1052.0,1164.9 1054.0,1165.0 1056.0,1165.0 1058.0,1165.1 1060.0,1165.2 1062.0,1165.3 1064.0,1165.3 1066.0,1165.4 1068.0,1165.5 1070.0,1165.6 1072.0,1165.7 1074.0,1165.8 1076.0,1165.9 1078.0,1166.0 1080.0,1166.1 1082.0,1166.1 1084.0,1166.2 1086.0,1166.3 1088.0,1166.4 1090.0,1166.5 1092.0,1166.6 1094.0,1166.7 1096.0,1166.8 1098.0,1166.9 1100.0,1167.0 1102.0,1167.0 1104.0,1167.1 1106.0,1167.2 1108.0,1167.3 1110.0,1167.4 1112.0,1167.4 1114.0,1167.5 1116.0,1167.6 1118.0,1167.7 1120.0,1167.7 1122.0,1167.8 1124.0,1167.9 1126.0,1167.9 1128.0,1168.0 1130.0,1168.1 1132.0,1168.1 1134.0,1168.2 1136.0,1168.3 1138.0,1168.3 1140.0,1168.4 1142.0,1168.5 1144.0,1168.5 1146.0,1168.6 1148.0,1168.7 1150.0,1168.7 1152.0,1168.8 1154.0,1168.8 1156.0,1168.9 1158.0,1169.0 1160.0,1169.0 1162.0,1169.1 1164.0,1169.2 1166.0,1169.2 1168.0,1169.3 1170.0,1169.4 1172.0,1169.4 1174.0,1169.5 1176.0,1169.6 1178.0,1169.6 1180.0,1169.7 1182.0,1169.8 1184.0,1169.8 1186.0,1169.9 1188.0,1169.9 1190.0,1170.0 1192.0,1170.0 1194.0,1170.1 1196.0,1170.1 1198.0,1170.2 1200.0,1170.2 1202.0,1170.3 1204.0,1170.3 1206.0,1170.3 1208.0,1170.4 1210.0,1170.4 1212.0,1170.4 1214.0,1170.4 1216.0,1170.5 1218.0,1170.5 1220.0,1170.5 1222.0,1170.5 1224.0,1170.6 1226.0,1170.6 1228.0,1170.6 1230.0,1170.6 1232.0,1170.6 1234.0,1170.6 1236.0,1170.6 1238.0,1170.6 1240.0,1170.6 1242.0,1170.6 1244.0,1170.6 1246.0,1170.7 1248.0,1170.7 1250.0,1170.7 1252.0,1170.7 1254.0,1170.7 1256.0,1170.7 1258.0,1170.7 1260.0,1170.7 1262.0,1170.7 1264.0,1170.7 1266.0,1170.7 1268.0,1170.7 1270.0,1170.7 1272.0,1170.7 1274.0,1170.7 1276.0,1170.7 1278.0,1170.7 1280.0,1170.7 1282.0,1170.7 1284.0,1170.7 1286.0,1170.7 1288.0,1170.7 1290.0,1170.7 1292.0,1170.7 1294.0,1170.7 1296.0,1170.7 1298.0,1170.7 1300.0,1170.7 1302.0,1170.7 1304.0,1170.7 1306.0,1170.7" fill="none" stroke="#575757" stroke-width="2.8"/>
<polygon points="862.0,1685.9 864.0,1686.1 866.0,1686.3 868.0,1686.4 870.0,1686.5 872.0,1686.7 874.0,1686.8 876.0,1686.9 878.0,1686.9 880.0,1687.0 882.0,1687.0 884.0,1687.0 886.0,1686.9 888.0,1686.8 890.0,1686.7 892.0,1686.5 894.0,1686.3 896.0,1686.1 898.0,1685.8 900.0,1685.5 902.0,1685.1 904.0,1684.6 906.0,1684.2 908.0,1683.6 910.0,1683.1 912.0,1682.5 914.0,1681.9 916.0,1681.2 918.0,1680.5 920.0,1679.8 922.0,1679.1 924.0,1678.4 926.0,1677.7 928.0,1677.0 930.0,1676.4 932.0,1675.7 934.0,1675.2 936.0,1674.6 938.0,1674.2 940.0,1673.8 942.0,1673.5 944.0,1673.3 946.0,1673.1 948.0,1673.1 950.0,1673.1 952.0,1673.3 954.0,1673.5 956.0,1673.9 958.0,1674.3 960.0,1674.8 962.0,1675.4 964.0,1676.1 966.0,1676.8 968.0,1677.5 970.0,1678.3 972.0,1679.2 974.0,1680.0 976.0,1680.9 978.0,1681.8 980.0,1682.6 982.0,1683.5 984.0,1684.4 986.0,1685.2 988.0,1686.0 990.0,1686.7 992.0,1687.5 994.0,1688.2 996.0,1688.8 998.0,1689.4 1000.0,1690.0 1002.0,1690.5 1004.0,1691.0 1006.0,1691.4 1008.0,1691.8 1010.0,1692.2 1012.0,1692.5 1014.0,1692.8 1016.0,1693.1 1018.0,1693.3 1020.0,1693.5 1022.0,1693.7 1024.0,1693.9 1026.0,1694.0 1028.0,1694.2 1030.0,1694.3 1032.0,1694.4 1034.0,1694.5 1036.0,1694.6 1038.0,1694.6 1038.0,1695.0 1036.0,1695.0 1034.0,1694.9 1032.0,1694.9 1030.0,1694.9 1028.0,1694.8 1026.0,1694.8 1024.0,1694.8 1022.0,1694.8 1020.0,1694.7 1018.0,1694.7 1016.0,1694.7 1014.0,1694.6 1012.0,1694.6 1010.0,1694.6 1008.0,1694.5 1006.0,1694.5 1004.0,1694.5 1002.0,1694.4 1000.0,1694.4 998.0,1694.4 996.0,1694.3 994.0,1694.3 992.0,1694.3 990.0,1694.2 988.0,1694.2 986.0,1694.2 984.0,1694.1 982.0,1694.1 980.0,1694.0 978.0,1694.0 976.0,1694.0 974.0,1693.9 972.0,1693.9 970.0,1693.8 968.0,1693.8 966.0,1693.7 964.0,1693.7 962.0,1693.6 960.0,1693.6 958.0,1693.5 956.0,1693.5 954.0,1693.4 952.0,1693.3 950.0,1693.3 948.0,1693.2 946.0,1693.1 944.0,1693.1 942.0,1693.0 940.0,1692.9 938.0,1692.8 936.0,1692.7 934.0,1692.6 932.0,1692.5 930.0,1692.4 928.0,1692.3 926.0,1692.2 924.0,1692.0 922.0,1691.9 920.0,1691.8 918.0,1691.7 916.0,1691.5 914.0,1691.4 912.0,1691.2 910.0,1691.1 908.0,1690.9 906.0,1690.7 904.0,1690.6 902.0,1690.4 900.0,1690.2 898.0,1690.0 896.0,1689.9 894.0,1689.7 892.0,1689.5 890.0,1689.3 888.0,1689.1 886.0,1688.9 884.0,1688.7 882.0,1688.5 880.0,1688.3 878.0,1688.1 876.0,1687.8 874.0,1687.6 872.0,1687.4 870.0,1687.2 868.0,1687.0 866.0,1686.7 864.0,1686.5 862.0,1686.3" fill="rgb(255,0,0)" fill-opacity="0.30" stroke="#575757" stroke-width="2.6" stroke-linejoin="round"/>
<polygon points="756.0,1672.8 758.0,1673.0 760.0,1673.2 762.0,1673.4 764.0,1673.5 766.0,1673.7 768.0,1673.9 770.0,1674.0 772.0,1674.2 774.0,1674.3 776.0,1674.4 778.0,1674.5 780.0,1674.6 782.0,1674.6 784.0,1674.7 786.0,1674.7 788.0,1674.7 790.0,1674.6 792.0,1674.6 794.0,1674.5 796.0,1674.3 798.0,1674.2 800.0,1674.0 802.0,1673.8 804.0,1673.5 806.0,1673.2 808.0,1672.9 810.0,1672.6 812.0,1672.2 814.0,1671.8 816.0,1671.4 818.0,1671.0 820.0,1670.5 822.0,1670.0 824.0,1669.5 826.0,1669.0 828.0,1668.5 830.0,1668.0 832.0,1667.6 834.0,1667.1 836.0,1666.6 838.0,1666.2 840.0,1665.8 842.0,1665.5 844.0,1665.2 846.0,1664.9 848.0,1664.7 850.0,1664.6 852.0,1664.5 854.0,1664.5 856.0,1664.6 858.0,1664.7 860.0,1664.9 862.0,1665.2 864.0,1665.6 866.0,1666.0 868.0,1666.6 870.0,1667.1 872.0,1667.8 874.0,1668.5 876.0,1669.2 878.0,1670.0 880.0,1670.8 882.0,1671.7 884.0,1672.6 886.0,1673.5 888.0,1674.5 890.0,1675.4 892.0,1676.3 894.0,1677.3 896.0,1678.2 898.0,1679.1 900.0,1680.0 902.0,1680.9 904.0,1681.8 906.0,1682.6 908.0,1683.4 910.0,1684.2 912.0,1684.9 914.0,1685.6 916.0,1686.3 918.0,1686.9 920.0,1687.5 922.0,1688.0 924.0,1688.5 926.0,1689.0 928.0,1689.5 930.0,1689.9 932.0,1690.2 934.0,1690.6 936.0,1690.9 938.0,1691.2 940.0,1691.5 942.0,1691.7 944.0,1691.9 946.0,1692.2 948.0,1692.3 950.0,1692.5 952.0,1692.7 954.0,1692.8 956.0,1692.9 958.0,1693.0 960.0,1693.2 962.0,1693.3 962.0,1693.6 960.0,1693.6 958.0,1693.5 956.0,1693.5 954.0,1693.4 952.0,1693.3 950.0,1693.3 948.0,1693.2 946.0,1693.1 944.0,1693.1 942.0,1693.0 940.0,1692.9 938.0,1692.8 936.0,1692.7 934.0,1692.6 932.0,1692.5 930.0,1692.4 928.0,1692.3 926.0,1692.2 924.0,1692.0 922.0,1691.9 920.0,1691.8 918.0,1691.7 916.0,1691.5 914.0,1691.4 912.0,1691.2 910.0,1691.1 908.0,1690.9 906.0,1690.7 904.0,1690.6 902.0,1690.4 900.0,1690.2 898.0,1690.0 896.0,1689.9 894.0,1689.7 892.0,1689.5 890.0,1689.3 888.0,1689.1 886.0,1688.9 884.0,1688.7 882.0,1688.5 880.0,1688.3 878.0,1688.1 876.0,1687.8 874.0,1687.6 872.0,1687.4 870.0,1687.2 868.0,1687.0 866.0,1686.7 864.0,1686.5 862.0,1686.3 860.0,1686.1 858.0,1685.8 856.0,1685.6 854.0,1685.4 852.0,1685.1 850.0,1684.9 848.0,1684.7 846.0,1684.4 844.0,1684.2 842.0,1683.9 840.0,1683.7 838.0,1683.4 836.0,1683.2 834.0,1682.9 832.0,1682.7 830.0,1682.4 828.0,1682.2 826.0,1681.9 824.0,1681.7 822.0,1681.4 820.0,1681.2 818.0,1680.9 816.0,1680.6 814.0,1680.4 812.0,1680.1 810.0,1679.9 808.0,1679.6 806.0,1679.4 804.0,1679.1 802.0,1678.9 800.0,1678.6 798.0,1678.4 796.0,1678.1 794.0,1677.9 792.0,1677.6 790.0,1677.4 788.0,1677.1 786.0,1676.9 784.0,1676.6 782.0,1676.4 780.0,1676.1 778.0,1675.9 776.0,1675.6 774.0,1675.4 772.0,1675.1 770.0,1674.9 768.0,1674.6 766.0,1674.4 764.0,1674.1 762.0,1673.9 760.0,1673.6 758.0,1673.4 756.0,1673.1" fill="rgb(0,255,0)" fill-opacity="0.30" stroke="#575757" stroke-width="2.6" stroke-linejoin="round"/>
<polygon points="670.0,1662.9 672.0,1663.0 674.0,1663.2 676.0,1663.4 678.0,1663.5 680.0,1663.7 682.0,1663.8 684.0,1663.9 686.0,1664.1 688.0,1664.2 690.0,1664.3 692.0,1664.4 694.0,1664.4 696.0,1664.5 698.0,1664.5 700.0,1664.6 702.0,1664.6 704.0,1664.5 706.0,1664.5 708.0,1664.4 710.0,1664.3 712.0,1664.2 714.0,1664.1 716.0,1663.9 718.0,1663.7 720.0,1663.5 722.0,1663.2 724.0,1662.9 726.0,1662.6 728.0,1662.3 730.0,1661.9 732.0,1661.6 734.0,1661.2 736.0,1660.8 738.0,1660.4 740.0,1660.0 742.0,1659.5 744.0,1659.1 746.0,1658.7 748.0,1658.3 750.0,1657.9 752.0,1657.5 754.0,1657.2 756.0,1656.8 758.0,1656.5 760.0,1656.3 762.0,1656.1 764.0,1655.9 766.0,1655.8 768.0,1655.7 770.0,1655.7 772.0,1655.8 774.0,1655.9 776.0,1656.1 778.0,1656.3 780.0,1656.6 782.0,1657.0 784.0,1657.4 786.0,1657.9 788.0,1658.5 790.0,1659.1 792.0,1659.8 794.0,1660.5 796.0,1661.2 798.0,1662.0 800.0,1662.8 802.0,1663.7 804.0,1664.5 806.0,1665.4 808.0,1666.3 810.0,1667.3 812.0,1668.2 814.0,1669.1 816.0,1670.0 818.0,1670.9 820.0,1671.8 822.0,1672.7 824.0,1673.5 826.0,1674.4 828.0,1675.2 830.0,1676.0 832.0,1676.7 834.0,1677.5 836.0,1678.2 838.0,1678.9 840.0,1679.5 842.0,1680.2 844.0,1680.8 846.0,1681.3 848.0,1681.9 850.0,1682.4 852.0,1682.9 854.0,1683.3 856.0,1683.8 858.0,1684.2 860.0,1684.6 862.0,1685.0 864.0,1685.4 866.0,1685.7 868.0,1686.1 870.0,1686.4 872.0,1686.7 874.0,1687.0 876.0,1687.3 878.0,1687.5 880.0,1687.8 882.0,1688.1 884.0,1688.3 884.0,1688.7 882.0,1688.5 880.0,1688.3 878.0,1688.1 876.0,1687.8 874.0,1687.6 872.0,1687.4 870.0,1687.2 868.0,1687.0 866.0,1686.7 864.0,1686.5 862.0,1686.3 860.0,1686.1 858.0,1685.8 856.0,1685.6 854.0,1685.4 852.0,1685.1 850.0,1684.9 848.0,1684.7 846.0,1684.4 844.0,1684.2 842.0,1683.9 840.0,1683.7 838.0,1683.4 836.0,1683.2 834.0,1682.9 832.0,1682.7 830.0,1682.4 828.0,1682.2 826.0,1681.9 824.0,1681.7 822.0,1681.4 820.0,1681.2 818.0,1680.9 816.0,1680.6 814.0,1680.4 812.0,1680.1 810.0,1679.9 808.0,1679.6 806.0,1679.4 804.0,1679.1 802.0,1678.9 800.0,1678.6 798.0,1678.4 796.0,1678.1 794.0,1677.9 792.0,1677.6 790.0,1677.4 788.0,1677.1 786.0,1676.9 784.0,1676.6 782.0,1676.4 780.0,1676.1 778.0,1675.9 776.0,1675.6 774.0,1675.4 772.0,1675.1 770.0,1674.9 768.0,1674.6 766.0,1674.4 764.0,1674.1 762.0,1673.9 760.0,1673.6 758.0,1673.4 756.0,1673.1 754.0,1672.9 752.0,1672.7 750.0,1672.4 748.0,1672.2 746.0,1671.9 744.0,1671.7 742.0,1671.5 740.0,1671.2 738.0,1671.0 736.0,1670.7 734.0,1670.5 732.0,1670.3 730.0,1670.0 728.0,1669.8 726.0,1669.6 724.0,1669.3 722.0,1669.1 720.0,1668.9 718.0,1668.6 716.0,1668.4 714.0,1668.2 712.0,1667.9 710.0,1667.7 708.0,1667.5 706.0,1667.2 704.0,1667.0 702.0,1666.8 700.0,1666.6 698.0,1666.3 696.0,1666.1 694.0,1665.9 692.0,1665.6 690.0,1665.4 688.0,1665.2 686.0,1665.0 684.0,1664.7 682.0,1664.5 680.0,1664.3 678.0,1664.1 676.0,1663.9 674.0,1663.7 672.0,1663.5 670.0,1663.2" fill="rgb(255,204,0)" fill-opacity="0.30" stroke="#575757" stroke-width="2.6" stroke-linejoin="round"/>
<polygon points="456.0,1653.8 458.0,1653.8 460.0,1653.8 462.0,1653.8 464.0,1653.8 466.0,1653.8 468.0,1653.8 470.0,1653.7 472.0,1653.7 474.0,1653.7 476.0,1653.7 478.0,1653.7 480.0,1653.7 482.0,1653.7 484.0,1653.7 486.0,1653.7 488.0,1653.7 490.0,1653.7 492.0,1653.7 494.0,1653.7 496.0,1653.7 498.0,1653.7 500.0,1653.7 502.0,1653.7 504.0,1653.7 506.0,1653.7 508.0,1653.7 510.0,1653.6 512.0,1653.6 514.0,1653.6 516.0,1653.6 518.0,1653.6 520.0,1653.6 522.0,1653.6 524.0,1653.6 526.0,1653.6 528.0,1653.6 530.0,1653.6 532.0,1653.6 534.0,1653.6 536.0,1653.6 538.0,1653.6 540.0,1653.6 542.0,1653.6 544.0,1653.6 546.0,1653.6 548.0,1653.5 550.0,1653.5 552.0,1653.5 554.0,1653.4 556.0,1653.4 558.0,1653.3 560.0,1653.2 562.0,1653.1 564.0,1653.0 566.0,1652.8 568.0,1652.6 570.0,1652.4 572.0,1652.2 574.0,1651.9 576.0,1651.5 578.0,1651.2 580.0,1650.7 582.0,1650.2 584.0,1649.6 586.0,1649.0 588.0,1648.2 590.0,1647.4 592.0,1646.5 594.0,1645.5 596.0,1644.3 598.0,1643.1 600.0,1641.7 602.0,1640.2 604.0,1638.5 606.0,1636.8 608.0,1634.8 610.0,1632.7 612.0,1630.5 614.0,1628.1 616.0,1625.6 618.0,1622.9 620.0,1620.0 622.0,1617.0 624.0,1613.9 626.0,1610.6 628.0,1607.2 630.0,1603.7 632.0,1600.1 634.0,1596.4 636.0,1592.6 638.0,1588.8 640.0,1584.9 642.0,1581.0 644.0,1577.1 646.0,1573.3 648.0,1569.5 650.0,1565.8 652.0,1562.2 654.0,1558.7 656.0,1555.4 658.0,1552.3 660.0,1549.4 662.0,1546.7 664.0,1544.3 666.0,1542.2 668.0,1540.4 670.0,1539.0 672.0,1537.8 674.0,1537.0 676.0,1536.6 678.0,1536.6 680.0,1536.9 682.0,1537.6 684.0,1538.7 686.0,1540.1 688.0,1541.9 690.0,1544.0 692.0,1546.4 694.0,1549.1 696.0,1552.1 698.0,1555.4 700.0,1558.8 702.0,1562.5 704.0,1566.3 706.0,1570.2 708.0,1574.3 710.0,1578.5 712.0,1582.7 714.0,1587.0 716.0,1591.3 718.0,1595.6 720.0,1599.8 722.0,1604.0 724.0,1608.1 726.0,1612.2 728.0,1616.1 730.0,1620.0 732.0,1623.7 734.0,1627.2 736.0,1630.7 738.0,1634.0 740.0,1637.1 742.0,1640.1 744.0,1642.9 746.0,1645.6 748.0,1648.2 750.0,1650.5 752.0,1652.8 754.0,1654.8 756.0,1656.8 758.0,1658.6 760.0,1660.3 762.0,1661.8 764.0,1663.3 766.0,1664.6 768.0,1665.9 770.0,1667.0 772.0,1668.1 774.0,1669.0 776.0,1669.9 778.0,1670.8 780.0,1671.5 782.0,1672.3 784.0,1672.9 786.0,1673.5 788.0,1674.1 790.0,1674.6 792.0,1675.1 794.0,1675.6 796.0,1676.1 798.0,1676.5 800.0,1676.9 802.0,1677.3 804.0,1677.6 806.0,1678.0 808.0,1678.3 810.0,1678.7 812.0,1679.0 814.0,1679.3 816.0,1679.6 818.0,1679.9 820.0,1680.2 822.0,1680.5 824.0,1680.8 826.0,1681.1 828.0,1681.4 830.0,1681.7 832.0,1681.9 834.0,1682.2 836.0,1682.5 838.0,1682.7 840.0,1683.0 842.0,1683.3 844.0,1683.5 846.0,1683.8 848.0,1684.1 850.0,1684.3 852.0,1684.6 854.0,1684.8 856.0,1685.1 858.0,1685.3 860.0,1685.5 862.0,1685.8 864.0,1686.0 866.0,1686.3 868.0,1686.5 870.0,1686.7 872.0,1686.9 874.0,1687.2 876.0,1687.4 878.0,1687.6 880.0,1687.8 882.0,1688.1 884.0,1688.3 886.0,1688.5 888.0,1688.7 890.0,1688.9 892.0,1689.1 894.0,1689.3 896.0,1689.5 898.0,1689.7 900.0,1689.9 902.0,1690.1 902.0,1690.4 900.0,1690.2 898.0,1690.0 896.0,1689.9 894.0,1689.7 892.0,1689.5 890.0,1689.3 888.0,1689.1 886.0,1688.9 884.0,1688.7 882.0,1688.5 880.0,1688.3 878.0,1688.1 876.0,1687.8 874.0,1687.6 872.0,1687.4 870.0,1687.2 868.0,1687.0 866.0,1686.7 864.0,1686.5 862.0,1686.3 860.0,1686.1 858.0,1685.8 856.0,1685.6 854.0,1685.4 852.0,1685.1 850.0,1684.9 848.0,1684.7 846.0,1684.4 844.0,1684.2 842.0,1683.9 840.0,1683.7 838.0,1683.4 836.0,1683.2 834.0,1682.9 832.0,1682.7 830.0,1682.4 828.0,1682.2 826.0,1681.9 824.0,1681.7 822.0,1681.4 820.0,1681.2 818.0,1680.9 816.0,1680.6 814.0,1680.4 812.0,1680.1 810.0,1679.9 808.0,1679.6 806.0,1679.4 804.0,1679.1 802.0,1678.9 800.0,1678.6 798.0,1678.4 796.0,1678.1 794.0,1677.9 792.0,1677.6 790.0,1677.4 788.0,1677.1 786.0,1676.9 784.0,1676.6 782.0,1676.4 780.0,1676.1 778.0,1675.9 776.0,1675.6 774.0,1675.4 772.0,1675.1 770.0,1674.9 768.0,1674.6 766.0,1674.4 764.0,1674.1 762.0,1673.9 760.0,1673.6 758.0,1673.4 756.0,1673.1 754.0,1672.9 752.0,1672.7 750.0,1672.4 748.0,1672.2 746.0,1671.9 744.0,1671.7 742.0,1671.5 740.0,1671.2 738.0,1671.0 736.0,1670.7 734.0,1670.5 732.0,1670.3 730.0,1670.0 728.0,1669.8 726.0,1669.6 724.0,1669.3 722.0,1669.1 720.0,1668.9 718.0,1668.6 716.0,1668.4 714.0,1668.2 712.0,1667.9 710.0,1667.7 708.0,1667.5 706.0,1667.2 704.0,1667.0 702.0,1666.8 700.0,1666.6 698.0,1666.3 696.0,1666.1 694.0,1665.9 692.0,1665.6 690.0,1665.4 688.0,1665.2 686.0,1665.0 684.0,1664.7 682.0,1664.5 680.0,1664.3 678.0,1664.1 676.0,1663.9 674.0,1663.7 672.0,1663.5 670.0,1663.2 668.0,1663.0 666.0,1662.8 664.0,1662.6 662.0,1662.4 660.0,1662.2 658.0,1662.0 656.0,1661.9 654.0,1661.7 652.0,1661.5 650.0,1661.3 648.0,1661.1 646.0,1660.9 644.0,1660.8 642.0,1660.6 640.0,1660.4 638.0,1660.3 636.0,1660.1 634.0,1660.0 632.0,1659.8 630.0,1659.6 628.0,1659.5 626.0,1659.3 624.0,1659.2 622.0,1659.0 620.0,1658.9 618.0,1658.7 616.0,1658.6 614.0,1658.4 612.0,1658.3 610.0,1658.1 608.0,1658.0 606.0,1657.9 604.0,1657.7 602.0,1657.6 600.0,1657.4 598.0,1657.3 596.0,1657.2 594.0,1657.0 592.0,1656.9 590.0,1656.8 588.0,1656.6 586.0,1656.5 584.0,1656.4 582.0,1656.3 580.0,1656.2 578.0,1656.0 576.0,1655.9 574.0,1655.8 572.0,1655.7 570.0,1655.6 568.0,1655.5 566.0,1655.4 564.0,1655.3 562.0,1655.3 560.0,1655.2 558.0,1655.1 556.0,1655.0 554.0,1655.0 552.0,1654.9 550.0,1654.8 548.0,1654.8 546.0,1654.7 544.0,1654.7 542.0,1654.6 540.0,1654.6 538.0,1654.6 536.0,1654.5 534.0,1654.5 532.0,1654.5 530.0,1654.4 528.0,1654.4 526.0,1654.4 524.0,1654.4 522.0,1654.3 520.0,1654.3 518.0,1654.3 516.0,1654.3 514.0,1654.3 512.0,1654.3 510.0,1654.3 508.0,1654.2 506.0,1654.2 504.0,1654.2 502.0,1654.2 500.0,1654.2 498.0,1654.2 496.0,1654.2 494.0,1654.2 492.0,1654.2 490.0,1654.2 488.0,1654.2 486.0,1654.2 484.0,1654.2 482.0,1654.2 480.0,1654.2 478.0,1654.2 476.0,1654.2 474.0,1654.2 472.0,1654.2 470.0,1654.2 468.0,1654.1 466.0,1654.1 464.0,1654.1 462.0,1654.1 460.0,1654.1 458.0,1654.1 456.0,1654.1" fill="rgb(0,0,255)" fill-opacity="0.30" stroke="#575757" stroke-width="2.6" stroke-linejoin="round"/>
<polygon points="388.0,1653.7 390.0,1653.7 392.0,1653.7 394.0,1653.7 396.0,1653.7 398.0,1653.7 400.0,1653.7 402.0,1653.7 404.0,1653.7 406.0,1653.7 408.0,1653.7 410.0,1653.7 412.0,1653.7 414.0,1653.6 416.0,1653.6 418.0,1653.6 420.0,1653.6 422.0,1653.6 424.0,1653.6 426.0,1653.6 428.0,1653.6 430.0,1653.6 432.0,1653.6 434.0,1653.5 436.0,1653.5 438.0,1653.5 440.0,1653.5 442.0,1653.5 444.0,1653.5 446.0,1653.4 448.0,1653.4 450.0,1653.4 452.0,1653.4 454.0,1653.3 456.0,1653.3 458.0,1653.3 460.0,1653.2 462.0,1653.2 464.0,1653.1 466.0,1653.1 468.0,1653.0 470.0,1652.9 472.0,1652.8 474.0,1652.7 476.0,1652.6 478.0,1652.5 480.0,1652.3 482.0,1652.2 484.0,1652.0 486.0,1651.7 488.0,1651.5 490.0,1651.2 492.0,1650.8 494.0,1650.4 496.0,1650.0 498.0,1649.5 500.0,1648.9 502.0,1648.2 504.0,1647.5 506.0,1646.7 508.0,1645.8 510.0,1644.8 512.0,1643.7 514.0,1642.5 516.0,1641.1 518.0,1639.7 520.0,1638.0 522.0,1636.3 524.0,1634.4 526.0,1632.3 528.0,1630.1 530.0,1627.7 532.0,1625.2 534.0,1622.5 536.0,1619.7 538.0,1616.7 540.0,1613.5 542.0,1610.2 544.0,1606.7 546.0,1603.2 548.0,1599.5 550.0,1595.7 552.0,1591.9 554.0,1588.0 556.0,1584.0 558.0,1580.1 560.0,1576.2 562.0,1572.2 564.0,1568.4 566.0,1564.7 568.0,1561.0 570.0,1557.6 572.0,1554.3 574.0,1551.2 576.0,1548.4 578.0,1545.8 580.0,1543.5 582.0,1541.6 584.0,1539.9 586.0,1538.7 588.0,1537.8 590.0,1537.3 592.0,1537.2 594.0,1537.4 596.0,1538.1 598.0,1539.2 600.0,1540.6 602.0,1542.4 604.0,1544.5 606.0,1547.0 608.0,1549.7 610.0,1552.7 612.0,1556.0 614.0,1559.5 616.0,1563.1 618.0,1567.0 620.0,1570.9 622.0,1575.0 624.0,1579.1 626.0,1583.3 628.0,1587.4 630.0,1591.6 632.0,1595.8 634.0,1599.8 636.0,1603.8 638.0,1607.8 640.0,1611.6 642.0,1615.3 644.0,1618.8 646.0,1622.2 648.0,1625.5 650.0,1628.6 652.0,1631.5 654.0,1634.3 656.0,1637.0 658.0,1639.4 660.0,1641.7 662.0,1643.9 664.0,1645.9 666.0,1647.8 668.0,1649.5 670.0,1651.1 672.0,1652.6 674.0,1653.9 676.0,1655.2 678.0,1656.3 680.0,1657.4 682.0,1658.4 684.0,1659.3 686.0,1660.1 688.0,1660.8 690.0,1661.5 692.0,1662.2 694.0,1662.8 696.0,1663.3 698.0,1663.8 700.0,1664.3 702.0,1664.7 704.0,1665.1 706.0,1665.5 708.0,1665.9 710.0,1666.3 712.0,1666.6 714.0,1666.9 716.0,1667.2 718.0,1667.5 720.0,1667.8 722.0,1668.1 724.0,1668.4 726.0,1668.7 728.0,1669.0 730.0,1669.2 732.0,1669.5 734.0,1669.8 736.0,1670.0 738.0,1670.3 740.0,1670.5 742.0,1670.8 744.0,1671.1 746.0,1671.3 748.0,1671.6 750.0,1671.8 752.0,1672.1 754.0,1672.4 756.0,1672.6 758.0,1672.9 760.0,1673.1 762.0,1673.4 764.0,1673.6 766.0,1673.9 768.0,1674.1 770.0,1674.4 772.0,1674.7 774.0,1674.9 776.0,1675.2 778.0,1675.4 780.0,1675.7 782.0,1675.9 784.0,1676.2 786.0,1676.5 788.0,1676.7 790.0,1677.0 792.0,1677.2 794.0,1677.5 796.0,1677.8 796.0,1678.1 794.0,1677.9 792.0,1677.6 790.0,1677.4 788.0,1677.1 786.0,1676.9 784.0,1676.6 782.0,1676.4 780.0,1676.1 778.0,1675.9 776.0,1675.6 774.0,1675.4 772.0,1675.1 770.0,1674.9 768.0,1674.6 766.0,1674.4 764.0,1674.1 762.0,1673.9 760.0,1673.6 758.0,1673.4 756.0,1673.1 754.0,1672.9 752.0,1672.7 750.0,1672.4 748.0,1672.2 746.0,1671.9 744.0,1671.7 742.0,1671.5 740.0,1671.2 738.0,1671.0 736.0,1670.7 734.0,1670.5 732.0,1670.3 730.0,1670.0 728.0,1669.8 726.0,1669.6 724.0,1669.3 722.0,1669.1 720.0,1668.9 718.0,1668.6 716.0,1668.4 714.0,1668.2 712.0,1667.9 710.0,1667.7 708.0,1667.5 706.0,1667.2 704.0,1667.0 702.0,1666.8 700.0,1666.6 698.0,1666.3 696.0,1666.1 694.0,1665.9 692.0,1665.6 690.0,1665.4 688.0,1665.2 686.0,1665.0 684.0,1664.7 682.0,1664.5 680.0,1664.3 678.0,1664.1 676.0,1663.9 674.0,1663.7 672.0,1663.5 670.0,1663.2 668.0,1663.0 666.0,1662.8 664.0,1662.6 662.0,1662.4 660.0,1662.2 658.0,1662.0 656.0,1661.9 654.0,1661.7 652.0,1661.5 650.0,1661.3 648.0,1661.1 646.0,1660.9 644.0,1660.8 642.0,1660.6 640.0,1660.4 638.0,1660.3 636.0,1660.1 634.0,1660.0 632.0,1659.8 630.0,1659.6 628.0,1659.5 626.0,1659.3 624.0,1659.2 622.0,1659.0 620.0,1658.9 618.0,1658.7 616.0,1658.6 614.0,1658.4 612.0,1658.3 610.0,1658.1 608.0,1658.0 606.0,1657.9 604.0,1657.7 602.0,1657.6 600.0,1657.4 598.0,1657.3 596.0,1657.2 594.0,1657.0 592.0,1656.9 590.0,1656.8 588.0,1656.6 586.0,1656.5 584.0,1656.4 582.0,1656.3 580.0,1656.2 578.0,1656.0 576.0,1655.9 574.0,1655.8 572.0,1655.7 570.0,1655.6 568.0,1655.5 566.0,1655.4 564.0,1655.3 562.0,1655.3 560.0,1655.2 558.0,1655.1 556.0,1655.0 554.0,1655.0 552.0,1654.9 550.0,1654.8 548.0,1654.8 546.0,1654.7 544.0,1654.7 542.0,1654.6 540.0,1654.6 538.0,1654.6 536.0,1654.5 534.0,1654.5 532.0,1654.5 530.0,1654.4 528.0,1654.4 526.0,1654.4 524.0,1654.4 522.0,1654.3 520.0,1654.3 518.0,1654.3 516.0,1654.3 514.0,1654.3 512.0,1654.3 510.0,1654.3 508.0,1654.2 506.0,1654.2 504.0,1654.2 502.0,1654.2 500.0,1654.2 498.0,1654.2 496.0,1654.2 494.0,1654.2 492.0,1654.2 490.0,1654.2 488.0,1654.2 486.0,1654.2 484.0,1654.2 482.0,1654.2 480.0,1654.2 478.0,1654.2 476.0,1654.2 474.0,1654.2 472.0,1654.2 470.0,1654.2 468.0,1654.1 466.0,1654.1 464.0,1654.1 462.0,1654.1 460.0,1654.1 458.0,1654.1 456.0,1654.1 454.0,1654.1 452.0,1654.1 450.0,1654.1 448.0,1654.1 446.0,1654.1 444.0,1654.1 442.0,1654.1 440.0,1654.1 438.0,1654.1 436.0,1654.1 434.0,1654.1 432.0,1654.1 430.0,1654.1 428.0,1654.1 426.0,1654.1 424.0,1654.1 422.0,1654.1 420.0,1654.1 418.0,1654.1 416.0,1654.1 414.0,1654.1 412.0,1654.1 410.0,1654.1 408.0,1654.1 406.0,1654.1 404.0,1654.1 402.0,1654.1 400.0,1654.1 398.0,1654.1 396.0,1654.1 394.0,1654.1 392.0,1654.1 390.0,1654.1 388.0,1654.1" fill="rgb(153,0,204)" fill-opacity="0.30" stroke="#575757" stroke-width="2.6" stroke-linejoin="round"/>
<polygon points="1092.0,1695.4 1094.0,1695.4 1096.0,1695.4 1098.0,1695.4 1100.0,1695.3 1102.0,1695.2 1104.0,1695.2 1106.0,1695.1 1108.0,1694.9 1110.0,1694.8 1112.0,1694.6 1114.0,1694.4 1116.0,1694.1 1118.0,1693.8 1120.0,1693.5 1122.0,1693.1 1124.0,1692.6 1126.0,1692.1 1128.0,1691.6 1130.0,1691.0 1132.0,1690.3 1134.0,1689.5 1136.0,1688.7 1138.0,1687.8 1140.0,1686.9 1142.0,1685.9 1144.0,1684.9 1146.0,1683.8 1148.0,1682.6 1150.0,1681.5 1152.0,1680.3 1154.0,1679.1 1156.0,1677.9 1158.0,1676.7 1160.0,1675.5 1162.0,1674.4 1164.0,1673.3 1166.0,1672.3 1168.0,1671.4 1170.0,1670.6 1172.0,1669.9 1174.0,1669.4 1176.0,1668.9 1178.0,1668.6 1180.0,1668.5 1182.0,1668.5 1184.0,1668.7 1186.0,1669.0 1188.0,1669.4 1190.0,1670.0 1192.0,1670.8 1194.0,1671.6 1196.0,1672.5 1198.0,1673.5 1200.0,1674.6 1202.0,1675.8 1204.0,1677.0 1206.0,1678.2 1208.0,1679.4 1210.0,1680.7 1212.0,1681.9 1214.0,1683.1 1216.0,1684.3 1218.0,1685.4 1220.0,1686.5 1222.0,1687.5 1224.0,1688.5 1226.0,1689.4 1228.0,1690.2 1230.0,1691.0 1232.0,1691.7 1234.0,1692.4 1236.0,1693.0 1238.0,1693.5 1240.0,1694.0 1242.0,1694.4 1244.0,1694.8 1246.0,1695.1 1248.0,1695.4 1250.0,1695.6 1252.0,1695.8 1254.0,1696.0 1256.0,1696.2 1258.0,1696.3 1260.0,1696.4 1262.0,1696.5 1264.0,1696.6 1266.0,1696.7 1268.0,1696.7 1270.0,1696.8 1272.0,1696.8 1272.0,1697.2 1270.0,1697.2 1268.0,1697.2 1266.0,1697.2 1264.0,1697.2 1262.0,1697.2 1260.0,1697.2 1258.0,1697.2 1256.0,1697.2 1254.0,1697.2 1252.0,1697.2 1250.0,1697.2 1248.0,1697.2 1246.0,1697.2 1244.0,1697.2 1242.0,1697.2 1240.0,1697.2 1238.0,1697.2 1236.0,1697.2 1234.0,1697.1 1232.0,1697.1 1230.0,1697.1 1228.0,1697.1 1226.0,1697.1 1224.0,1697.1 1222.0,1697.1 1220.0,1697.1 1218.0,1697.1 1216.0,1697.1 1214.0,1697.1 1212.0,1697.1 1210.0,1697.0 1208.0,1697.0 1206.0,1697.0 1204.0,1697.0 1202.0,1697.0 1200.0,1697.0 1198.0,1696.9 1196.0,1696.9 1194.0,1696.9 1192.0,1696.9 1190.0,1696.9 1188.0,1696.8 1186.0,1696.8 1184.0,1696.8 1182.0,1696.8 1180.0,1696.7 1178.0,1696.7 1176.0,1696.7 1174.0,1696.7 1172.0,1696.6 1170.0,1696.6 1168.0,1696.6 1166.0,1696.6 1164.0,1696.6 1162.0,1696.5 1160.0,1696.5 1158.0,1696.5 1156.0,1696.5 1154.0,1696.5 1152.0,1696.4 1150.0,1696.4 1148.0,1696.4 1146.0,1696.4 1144.0,1696.4 1142.0,1696.4 1140.0,1696.3 1138.0,1696.3 1136.0,1696.3 1134.0,1696.3 1132.0,1696.3 1130.0,1696.3 1128.0,1696.3 1126.0,1696.2 1124.0,1696.2 1122.0,1696.2 1120.0,1696.2 1118.0,1696.2 1116.0,1696.1 1114.0,1696.1 1112.0,1696.1 1110.0,1696.1 1108.0,1696.1 1106.0,1696.0 1104.0,1696.0 1102.0,1696.0 1100.0,1695.9 1098.0,1695.9 1096.0,1695.9 1094.0,1695.9 1092.0,1695.8" fill="rgb(255,0,0)" fill-opacity="0.60" stroke="#575757" stroke-width="2.6" stroke-linejoin="round"/>
<polygon points="988.0,1693.8 990.0,1693.8 992.0,1693.8 994.0,1693.8 996.0,1693.8 998.0,1693.8 1000.0,1693.7 1002.0,1693.7 1004.0,1693.6 1006.0,1693.5 1008.0,1693.4 1010.0,1693.3 1012.0,1693.1 1014.0,1692.9 1016.0,1692.6 1018.0,1692.4 1020.0,1692.0 1022.0,1691.7 1024.0,1691.2 1026.0,1690.7 1028.0,1690.2 1030.0,1689.5 1032.0,1688.8 1034.0,1688.1 1036.0,1687.2 1038.0,1686.3 1040.0,1685.3 1042.0,1684.2 1044.0,1683.0 1046.0,1681.7 1048.0,1680.4 1050.0,1679.0 1052.0,1677.6 1054.0,1676.1 1056.0,1674.6 1058.0,1673.1 1060.0,1671.5 1062.0,1670.0 1064.0,1668.5 1066.0,1667.0 1068.0,1665.6 1070.0,1664.3 1072.0,1663.1 1074.0,1662.0 1076.0,1661.0 1078.0,1660.2 1080.0,1659.5 1082.0,1659.0 1084.0,1658.7 1086.0,1658.6 1088.0,1658.6 1090.0,1658.9 1092.0,1659.4 1094.0,1660.0 1096.0,1660.8 1098.0,1661.7 1100.0,1662.8 1102.0,1664.0 1104.0,1665.4 1106.0,1666.8 1108.0,1668.3 1110.0,1669.8 1112.0,1671.4 1114.0,1673.0 1116.0,1674.6 1118.0,1676.1 1120.0,1677.7 1122.0,1679.2 1124.0,1680.7 1126.0,1682.1 1128.0,1683.4 1130.0,1684.7 1132.0,1685.9 1134.0,1687.0 1136.0,1688.0 1138.0,1688.9 1140.0,1689.8 1142.0,1690.6 1144.0,1691.3 1146.0,1692.0 1148.0,1692.5 1150.0,1693.0 1152.0,1693.5 1154.0,1693.9 1156.0,1694.3 1158.0,1694.6 1160.0,1694.9 1162.0,1695.1 1164.0,1695.3 1166.0,1695.5 1168.0,1695.7 1170.0,1695.8 1172.0,1695.9 1174.0,1696.0 1176.0,1696.1 1178.0,1696.2 1180.0,1696.3 1182.0,1696.4 1184.0,1696.4 1184.0,1696.8 1182.0,1696.8 1180.0,1696.7 1178.0,1696.7 1176.0,1696.7 1174.0,1696.7 1172.0,1696.6 1170.0,1696.6 1168.0,1696.6 1166.0,1696.6 1164.0,1696.6 1162.0,1696.5 1160.0,1696.5 1158.0,1696.5 1156.0,1696.5 1154.0,1696.5 1152.0,1696.4 1150.0,1696.4 1148.0,1696.4 1146.0,1696.4 1144.0,1696.4 1142.0,1696.4 1140.0,1696.3 1138.0,1696.3 1136.0,1696.3 1134.0,1696.3 1132.0,1696.3 1130.0,1696.3 1128.0,1696.3 1126.0,1696.2 1124.0,1696.2 1122.0,1696.2 1120.0,1696.2 1118.0,1696.2 1116.0,1696.1 1114.0,1696.1 1112.0,1696.1 1110.0,1696.1 1108.0,1696.1 1106.0,1696.0 1104.0,1696.0 1102.0,1696.0 1100.0,1695.9 1098.0,1695.9 1096.0,1695.9 1094.0,1695.9 1092.0,1695.8 1090.0,1695.8 1088.0,1695.8 1086.0,1695.7 1084.0,1695.7 1082.0,1695.7 1080.0,1695.6 1078.0,1695.6 1076.0,1695.6 1074.0,1695.5 1072.0,1695.5 1070.0,1695.4 1068.0,1695.4 1066.0,1695.4 1064.0,1695.4 1062.0,1695.3 1060.0,1695.3 1058.0,1695.3 1056.0,1695.2 1054.0,1695.2 1052.0,1695.2 1050.0,1695.1 1048.0,1695.1 1046.0,1695.1 1044.0,1695.1 1042.0,1695.0 1040.0,1695.0 1038.0,1695.0 1036.0,1695.0 1034.0,1694.9 1032.0,1694.9 1030.0,1694.9 1028.0,1694.8 1026.0,1694.8 1024.0,1694.8 1022.0,1694.8 1020.0,1694.7 1018.0,1694.7 1016.0,1694.7 1014.0,1694.6 1012.0,1694.6 1010.0,1694.6 1008.0,1694.5 1006.0,1694.5 1004.0,1694.5 1002.0,1694.4 1000.0,1694.4 998.0,1694.4 996.0,1694.3 994.0,1694.3 992.0,1694.3 990.0,1694.2 988.0,1694.2" fill="rgb(0,255,0)" fill-opacity="0.60" stroke="#575757" stroke-width="2.6" stroke-linejoin="round"/>
<polygon points="898.0,1689.7 900.0,1689.8 902.0,1690.0 904.0,1690.1 906.0,1690.2 908.0,1690.3 910.0,1690.4 912.0,1690.5 914.0,1690.6 916.0,1690.6 918.0,1690.6 920.0,1690.6 922.0,1690.6 924.0,1690.6 926.0,1690.5 928.0,1690.4 930.0,1690.3 932.0,1690.1 934.0,1689.9 936.0,1689.7 938.0,1689.4 940.0,1689.1 942.0,1688.7 944.0,1688.3 946.0,1687.8 948.0,1687.3 950.0,1686.8 952.0,1686.2 954.0,1685.5 956.0,1684.8 958.0,1684.1 960.0,1683.3 962.0,1682.4 964.0,1681.5 966.0,1680.6 968.0,1679.7 970.0,1678.7 972.0,1677.6 974.0,1676.6 976.0,1675.6 978.0,1674.5 980.0,1673.4 982.0,1672.4 984.0,1671.4 986.0,1670.4 988.0,1669.4 990.0,1668.5 992.0,1667.6 994.0,1666.9 996.0,1666.1 998.0,1665.5 1000.0,1664.9 1002.0,1664.5 1004.0,1664.1 1006.0,1663.9 1008.0,1663.7 1010.0,1663.7 1012.0,1663.8 1014.0,1664.0 1016.0,1664.3 1018.0,1664.7 1020.0,1665.2 1022.0,1665.8 1024.0,1666.5 1026.0,1667.3 1028.0,1668.2 1030.0,1669.1 1032.0,1670.0 1034.0,1671.1 1036.0,1672.1 1038.0,1673.2 1040.0,1674.3 1042.0,1675.4 1044.0,1676.6 1046.0,1677.7 1048.0,1678.8 1050.0,1679.9 1052.0,1681.0 1054.0,1682.0 1056.0,1683.0 1058.0,1684.0 1060.0,1684.9 1062.0,1685.8 1064.0,1686.6 1066.0,1687.4 1068.0,1688.2 1070.0,1688.9 1072.0,1689.6 1074.0,1690.2 1076.0,1690.8 1078.0,1691.3 1080.0,1691.8 1082.0,1692.2 1084.0,1692.6 1086.0,1693.0 1088.0,1693.3 1090.0,1693.6 1092.0,1693.9 1094.0,1694.2 1096.0,1694.4 1098.0,1694.6 1100.0,1694.8 1102.0,1694.9 1104.0,1695.1 1106.0,1695.2 1108.0,1695.3 1110.0,1695.4 1112.0,1695.5 1114.0,1695.6 1116.0,1695.7 1118.0,1695.7 1120.0,1695.8 1122.0,1695.8 1122.0,1696.2 1120.0,1696.2 1118.0,1696.2 1116.0,1696.1 1114.0,1696.1 1112.0,1696.1 1110.0,1696.1 1108.0,1696.1 1106.0,1696.0 1104.0,1696.0 1102.0,1696.0 1100.0,1695.9 1098.0,1695.9 1096.0,1695.9 1094.0,1695.9 1092.0,1695.8 1090.0,1695.8 1088.0,1695.8 1086.0,1695.7 1084.0,1695.7 1082.0,1695.7 1080.0,1695.6 1078.0,1695.6 1076.0,1695.6 1074.0,1695.5 1072.0,1695.5 1070.0,1695.4 1068.0,1695.4 1066.0,1695.4 1064.0,1695.4 1062.0,1695.3 1060.0,1695.3 1058.0,1695.3 1056.0,1695.2 1054.0,1695.2 1052.0,1695.2 1050.0,1695.1 1048.0,1695.1 1046.0,1695.1 1044.0,1695.1 1042.0,1695.0 1040.0,1695.0 1038.0,1695.0 1036.0,1695.0 1034.0,1694.9 1032.0,1694.9 1030.0,1694.9 1028.0,1694.8 1026.0,1694.8 1024.0,1694.8 1022.0,1694.8 1020.0,1694.7 1018.0,1694.7 1016.0,1694.7 1014.0,1694.6 1012.0,1694.6 1010.0,1694.6 1008.0,1694.5 1006.0,1694.5 1004.0,1694.5 1002.0,1694.4 1000.0,1694.4 998.0,1694.4 996.0,1694.3 994.0,1694.3 992.0,1694.3 990.0,1694.2 988.0,1694.2 986.0,1694.2 984.0,1694.1 982.0,1694.1 980.0,1694.0 978.0,1694.0 976.0,1694.0 974.0,1693.9 972.0,1693.9 970.0,1693.8 968.0,1693.8 966.0,1693.7 964.0,1693.7 962.0,1693.6 960.0,1693.6 958.0,1693.5 956.0,1693.5 954.0,1693.4 952.0,1693.3 950.0,1693.3 948.0,1693.2 946.0,1693.1 944.0,1693.1 942.0,1693.0 940.0,1692.9 938.0,1692.8 936.0,1692.7 934.0,1692.6 932.0,1692.5 930.0,1692.4 928.0,1692.3 926.0,1692.2 924.0,1692.0 922.0,1691.9 920.0,1691.8 918.0,1691.7 916.0,1691.5 914.0,1691.4 912.0,1691.2 910.0,1691.1 908.0,1690.9 906.0,1690.7 904.0,1690.6 902.0,1690.4 900.0,1690.2 898.0,1690.0" fill="rgb(255,204,0)" fill-opacity="0.60" stroke="#575757" stroke-width="2.6" stroke-linejoin="round"/>
<polygon points="630.0,1659.3 632.0,1659.4 634.0,1659.6 636.0,1659.7 638.0,1659.9 640.0,1660.1 642.0,1660.2 644.0,1660.4 646.0,1660.6 648.0,1660.7 650.0,1660.9 652.0,1661.1 654.0,1661.2 656.0,1661.4 658.0,1661.6 660.0,1661.8 662.0,1662.0 664.0,1662.2 666.0,1662.4 668.0,1662.6 670.0,1662.8 672.0,1663.0 674.0,1663.2 676.0,1663.4 678.0,1663.6 680.0,1663.8 682.0,1664.0 684.0,1664.2 686.0,1664.4 688.0,1664.6 690.0,1664.8 692.0,1665.1 694.0,1665.3 696.0,1665.5 698.0,1665.7 700.0,1665.9 702.0,1666.1 704.0,1666.3 706.0,1666.6 708.0,1666.8 710.0,1667.0 712.0,1667.2 714.0,1667.4 716.0,1667.6 718.0,1667.9 720.0,1668.1 722.0,1668.3 724.0,1668.5 726.0,1668.7 728.0,1668.9 730.0,1669.1 732.0,1669.4 734.0,1669.6 736.0,1669.8 738.0,1670.0 740.0,1670.2 742.0,1670.4 744.0,1670.6 746.0,1670.8 748.0,1671.0 750.0,1671.2 752.0,1671.4 754.0,1671.6 756.0,1671.8 758.0,1671.9 760.0,1672.1 762.0,1672.3 764.0,1672.4 766.0,1672.5 768.0,1672.6 770.0,1672.7 772.0,1672.8 774.0,1672.8 776.0,1672.9 778.0,1672.9 780.0,1672.8 782.0,1672.7 784.0,1672.6 786.0,1672.4 788.0,1672.2 790.0,1671.9 792.0,1671.5 794.0,1671.0 796.0,1670.5 798.0,1669.8 800.0,1669.1 802.0,1668.2 804.0,1667.2 806.0,1666.1 808.0,1664.9 810.0,1663.5 812.0,1661.9 814.0,1660.1 816.0,1658.2 818.0,1656.1 820.0,1653.7 822.0,1651.2 824.0,1648.4 826.0,1645.5 828.0,1642.3 830.0,1638.9 832.0,1635.2 834.0,1631.3 836.0,1627.2 838.0,1622.9 840.0,1618.4 842.0,1613.7 844.0,1608.8 846.0,1603.8 848.0,1598.6 850.0,1593.2 852.0,1587.8 854.0,1582.3 856.0,1576.8 858.0,1571.2 860.0,1565.7 862.0,1560.2 864.0,1554.8 866.0,1549.6 868.0,1544.5 870.0,1539.6 872.0,1535.0 874.0,1530.7 876.0,1526.7 878.0,1523.1 880.0,1519.8 882.0,1517.0 884.0,1514.7 886.0,1512.8 888.0,1511.5 890.0,1510.6 892.0,1510.3 894.0,1510.5 896.0,1511.3 898.0,1512.6 900.0,1514.4 902.0,1516.7 904.0,1519.5 906.0,1522.7 908.0,1526.4 910.0,1530.4 912.0,1534.8 914.0,1539.6 916.0,1544.6 918.0,1549.8 920.0,1555.3 922.0,1560.9 924.0,1566.6 926.0,1572.5 928.0,1578.4 930.0,1584.3 932.0,1590.1 934.0,1596.0 936.0,1601.7 938.0,1607.4 940.0,1612.9 942.0,1618.2 944.0,1623.4 946.0,1628.4 948.0,1633.3 950.0,1637.9 952.0,1642.3 954.0,1646.4 956.0,1650.3 958.0,1654.1 960.0,1657.5 962.0,1660.8 964.0,1663.8 966.0,1666.6 968.0,1669.2 970.0,1671.6 972.0,1673.9 974.0,1675.9 976.0,1677.7 978.0,1679.4 980.0,1681.0 982.0,1682.4 984.0,1683.6 986.0,1684.8 988.0,1685.8 990.0,1686.7 992.0,1687.5 994.0,1688.2 996.0,1688.9 998.0,1689.5 1000.0,1690.0 1002.0,1690.5 1004.0,1690.9 1006.0,1691.2 1008.0,1691.6 1010.0,1691.9 1012.0,1692.1 1014.0,1692.3 1016.0,1692.5 1018.0,1692.7 1020.0,1692.9 1022.0,1693.0 1024.0,1693.2 1026.0,1693.3 1028.0,1693.4 1030.0,1693.5 1032.0,1693.6 1034.0,1693.7 1036.0,1693.7 1038.0,1693.8 1040.0,1693.9 1042.0,1694.0 1044.0,1694.0 1046.0,1694.1 1048.0,1694.1 1050.0,1694.2 1052.0,1694.2 1054.0,1694.3 1056.0,1694.3 1058.0,1694.4 1060.0,1694.5 1062.0,1694.5 1064.0,1694.6 1066.0,1694.6 1068.0,1694.6 1070.0,1694.7 1072.0,1694.7 1074.0,1694.8 1076.0,1694.8 1078.0,1694.9 1080.0,1694.9 1082.0,1695.0 1084.0,1695.0 1086.0,1695.1 1088.0,1695.1 1090.0,1695.2 1092.0,1695.2 1094.0,1695.3 1096.0,1695.3 1098.0,1695.4 1100.0,1695.4 1102.0,1695.4 1104.0,1695.5 1106.0,1695.5 1108.0,1695.5 1110.0,1695.6 1112.0,1695.6 1114.0,1695.6 1116.0,1695.7 1118.0,1695.7 1120.0,1695.7 1122.0,1695.7 1124.0,1695.8 1126.0,1695.8 1128.0,1695.8 1130.0,1695.8 1132.0,1695.9 1134.0,1695.9 1136.0,1695.9 1138.0,1695.9 1140.0,1695.9 1142.0,1696.0 1144.0,1696.0 1146.0,1696.0 1148.0,1696.0 1150.0,1696.1 1152.0,1696.1 1154.0,1696.1 1154.0,1696.5 1152.0,1696.4 1150.0,1696.4 1148.0,1696.4 1146.0,1696.4 1144.0,1696.4 1142.0,1696.4 1140.0,1696.3 1138.0,1696.3 1136.0,1696.3 1134.0,1696.3 1132.0,1696.3 1130.0,1696.3 1128.0,1696.3 1126.0,1696.2 1124.0,1696.2 1122.0,1696.2 1120.0,1696.2 1118.0,1696.2 1116.0,1696.1 1114.0,1696.1 1112.0,1696.1 1110.0,1696.1 1108.0,1696.1 1106.0,1696.0 1104.0,1696.0 1102.0,1696.0 1100.0,1695.9 1098.0,1695.9 1096.0,1695.9 1094.0,1695.9 1092.0,1695.8 1090.0,1695.8 1088.0,1695.8 1086.0,1695.7 1084.0,1695.7 1082.0,1695.7 1080.0,1695.6 1078.0,1695.6 1076.0,1695.6 1074.0,1695.5 1072.0,1695.5 1070.0,1695.4 1068.0,1695.4 1066.0,1695.4 1064.0,1695.4 1062.0,1695.3 1060.0,1695.3 1058.0,1695.3 1056.0,1695.2 1054.0,1695.2 1052.0,1695.2 1050.0,1695.1 1048.0,1695.1 1046.0,1695.1 1044.0,1695.1 1042.0,1695.0 1040.0,1695.0 1038.0,1695.0 1036.0,1695.0 1034.0,1694.9 1032.0,1694.9 1030.0,1694.9 1028.0,1694.8 1026.0,1694.8 1024.0,1694.8 1022.0,1694.8 1020.0,1694.7 1018.0,1694.7 1016.0,1694.7 1014.0,1694.6 1012.0,1694.6 1010.0,1694.6 1008.0,1694.5 1006.0,1694.5 1004.0,1694.5 1002.0,1694.4 1000.0,1694.4 998.0,1694.4 996.0,1694.3 994.0,1694.3 992.0,1694.3 990.0,1694.2 988.0,1694.2 986.0,1694.2 984.0,1694.1 982.0,1694.1 980.0,1694.0 978.0,1694.0 976.0,1694.0 974.0,1693.9 972.0,1693.9 970.0,1693.8 968.0,1693.8 966.0,1693.7 964.0,1693.7 962.0,1693.6 960.0,1693.6 958.0,1693.5 956.0,1693.5 954.0,1693.4 952.0,1693.3 950.0,1693.3 948.0,1693.2 946.0,1693.1 944.0,1693.1 942.0,1693.0 940.0,1692.9 938.0,1692.8 936.0,1692.7 934.0,1692.6 932.0,1692.5 930.0,1692.4 928.0,1692.3 926.0,1692.2 924.0,1692.0 922.0,1691.9 920.0,1691.8 918.0,1691.7 916.0,1691.5 914.0,1691.4 912.0,1691.2 910.0,1691.1 908.0,1690.9 906.0,1690.7 904.0,1690.6 902.0,1690.4 900.0,1690.2 898.0,1690.0 896.0,1689.9 894.0,1689.7 892.0,1689.5 890.0,1689.3 888.0,1689.1 886.0,1688.9 884.0,1688.7 882.0,1688.5 880.0,1688.3 878.0,1688.1 876.0,1687.8 874.0,1687.6 872.0,1687.4 870.0,1687.2 868.0,1687.0 866.0,1686.7 864.0,1686.5 862.0,1686.3 860.0,1686.1 858.0,1685.8 856.0,1685.6 854.0,1685.4 852.0,1685.1 850.0,1684.9 848.0,1684.7 846.0,1684.4 844.0,1684.2 842.0,1683.9 840.0,1683.7 838.0,1683.4 836.0,1683.2 834.0,1682.9 832.0,1682.7 830.0,1682.4 828.0,1682.2 826.0,1681.9 824.0,1681.7 822.0,1681.4 820.0,1681.2 818.0,1680.9 816.0,1680.6 814.0,1680.4 812.0,1680.1 810.0,1679.9 808.0,1679.6 806.0,1679.4 804.0,1679.1 802.0,1678.9 800.0,1678.6 798.0,1678.4 796.0,1678.1 794.0,1677.9 792.0,1677.6 790.0,1677.4 788.0,1677.1 786.0,1676.9 784.0,1676.6 782.0,1676.4 780.0,1676.1 778.0,1675.9 776.0,1675.6 774.0,1675.4 772.0,1675.1 770.0,1674.9 768.0,1674.6 766.0,1674.4 764.0,1674.1 762.0,1673.9 760.0,1673.6 758.0,1673.4 756.0,1673.1 754.0,1672.9 752.0,1672.7 750.0,1672.4 748.0,1672.2 746.0,1671.9 744.0,1671.7 742.0,1671.5 740.0,1671.2 738.0,1671.0 736.0,1670.7 734.0,1670.5 732.0,1670.3 730.0,1670.0 728.0,1669.8 726.0,1669.6 724.0,1669.3 722.0,1669.1 720.0,1668.9 718.0,1668.6 716.0,1668.4 714.0,1668.2 712.0,1667.9 710.0,1667.7 708.0,1667.5 706.0,1667.2 704.0,1667.0 702.0,1666.8 700.0,1666.6 698.0,1666.3 696.0,1666.1 694.0,1665.9 692.0,1665.6 690.0,1665.4 688.0,1665.2 686.0,1665.0 684.0,1664.7 682.0,1664.5 680.0,1664.3 678.0,1664.1 676.0,1663.9 674.0,1663.7 672.0,1663.5 670.0,1663.2 668.0,1663.0 666.0,1662.8 664.0,1662.6 662.0,1662.4 660.0,1662.2 658.0,1662.0 656.0,1661.9 654.0,1661.7 652.0,1661.5 650.0,1661.3 648.0,1661.1 646.0,1660.9 644.0,1660.8 642.0,1660.6 640.0,1660.4 638.0,1660.3 636.0,1660.1 634.0,1660.0 632.0,1659.8 630.0,1659.6" fill="rgb(0,0,255)" fill-opacity="0.60" stroke="#575757" stroke-width="2.6" stroke-linejoin="round"/>
<polygon points="592.0,1656.5 594.0,1656.7 596.0,1656.8 598.0,1656.9 600.0,1657.1 602.0,1657.2 604.0,1657.3 606.0,1657.5 608.0,1657.6 610.0,1657.7 612.0,1657.9 614.0,1658.0 616.0,1658.1 618.0,1658.3 620.0,1658.4 622.0,1658.6 624.0,1658.7 626.0,1658.8 628.0,1659.0 630.0,1659.1 632.0,1659.3 634.0,1659.4 636.0,1659.6 638.0,1659.7 640.0,1659.9 642.0,1660.0 644.0,1660.2 646.0,1660.4 648.0,1660.5 650.0,1660.7 652.0,1660.9 654.0,1661.0 656.0,1661.2 658.0,1661.4 660.0,1661.6 662.0,1661.7 664.0,1661.9 666.0,1662.1 668.0,1662.3 670.0,1662.5 672.0,1662.7 674.0,1662.9 676.0,1663.0 678.0,1663.2 680.0,1663.4 682.0,1663.6 684.0,1663.8 686.0,1664.0 688.0,1664.2 690.0,1664.4 692.0,1664.6 694.0,1664.7 696.0,1664.9 698.0,1665.1 700.0,1665.3 702.0,1665.4 704.0,1665.6 706.0,1665.7 708.0,1665.8 710.0,1665.9 712.0,1666.0 714.0,1666.1 716.0,1666.1 718.0,1666.1 720.0,1666.1 722.0,1666.0 724.0,1666.0 726.0,1665.8 728.0,1665.6 730.0,1665.3 732.0,1665.0 734.0,1664.6 736.0,1664.1 738.0,1663.6 740.0,1662.9 742.0,1662.1 744.0,1661.2 746.0,1660.1 748.0,1658.9 750.0,1657.6 752.0,1656.0 754.0,1654.3 756.0,1652.5 758.0,1650.4 760.0,1648.1 762.0,1645.6 764.0,1642.9 766.0,1639.9 768.0,1636.8 770.0,1633.4 772.0,1629.7 774.0,1625.9 776.0,1621.8 778.0,1617.5 780.0,1613.0 782.0,1608.3 784.0,1603.5 786.0,1598.5 788.0,1593.4 790.0,1588.1 792.0,1582.8 794.0,1577.5 796.0,1572.2 798.0,1566.8 800.0,1561.6 802.0,1556.5 804.0,1551.5 806.0,1546.7 808.0,1542.2 810.0,1537.9 812.0,1534.0 814.0,1530.4 816.0,1527.2 818.0,1524.5 820.0,1522.2 822.0,1520.4 824.0,1519.2 826.0,1518.4 828.0,1518.3 830.0,1518.6 832.0,1519.5 834.0,1521.0 836.0,1523.0 838.0,1525.4 840.0,1528.4 842.0,1531.8 844.0,1535.7 846.0,1539.9 848.0,1544.5 850.0,1549.3 852.0,1554.5 854.0,1559.8 856.0,1565.3 858.0,1571.0 860.0,1576.8 862.0,1582.6 864.0,1588.4 866.0,1594.2 868.0,1599.9 870.0,1605.6 872.0,1611.2 874.0,1616.6 876.0,1621.8 878.0,1626.9 880.0,1631.8 882.0,1636.4 884.0,1640.9 886.0,1645.1 888.0,1649.1 890.0,1652.8 892.0,1656.4 894.0,1659.6 896.0,1662.7 898.0,1665.5 900.0,1668.2 902.0,1670.6 904.0,1672.8 906.0,1674.8 908.0,1676.7 910.0,1678.4 912.0,1679.9 914.0,1681.3 916.0,1682.6 918.0,1683.7 920.0,1684.7 922.0,1685.6 924.0,1686.4 926.0,1687.2 928.0,1687.8 930.0,1688.4 932.0,1688.9 934.0,1689.4 936.0,1689.8 938.0,1690.1 940.0,1690.5 942.0,1690.8 944.0,1691.0 946.0,1691.3 948.0,1691.5 950.0,1691.7 952.0,1691.8 954.0,1692.0 956.0,1692.1 958.0,1692.3 960.0,1692.4 962.0,1692.5 964.0,1692.6 966.0,1692.7 968.0,1692.8 970.0,1692.9 972.0,1692.9 974.0,1693.0 976.0,1693.1 978.0,1693.1 980.0,1693.2 982.0,1693.3 984.0,1693.3 986.0,1693.4 988.0,1693.4 990.0,1693.5 992.0,1693.5 994.0,1693.6 996.0,1693.6 998.0,1693.7 1000.0,1693.7 1002.0,1693.8 1004.0,1693.8 1006.0,1693.9 1008.0,1693.9 1010.0,1694.0 1012.0,1694.0 1014.0,1694.1 1016.0,1694.1 1018.0,1694.1 1020.0,1694.2 1022.0,1694.2 1024.0,1694.3 1026.0,1694.3 1028.0,1694.3 1030.0,1694.4 1032.0,1694.4 1034.0,1694.5 1036.0,1694.5 1038.0,1694.5 1040.0,1694.6 1042.0,1694.6 1044.0,1694.6 1046.0,1694.7 1048.0,1694.7 1050.0,1694.7 1052.0,1694.8 1054.0,1694.8 1056.0,1694.8 1058.0,1694.9 1060.0,1694.9 1062.0,1695.0 1064.0,1695.0 1066.0,1695.0 1066.0,1695.4 1064.0,1695.4 1062.0,1695.3 1060.0,1695.3 1058.0,1695.3 1056.0,1695.2 1054.0,1695.2 1052.0,1695.2 1050.0,1695.1 1048.0,1695.1 1046.0,1695.1 1044.0,1695.1 1042.0,1695.0 1040.0,1695.0 1038.0,1695.0 1036.0,1695.0 1034.0,1694.9 1032.0,1694.9 1030.0,1694.9 1028.0,1694.8 1026.0,1694.8 1024.0,1694.8 1022.0,1694.8 1020.0,1694.7 1018.0,1694.7 1016.0,1694.7 1014.0,1694.6 1012.0,1694.6 1010.0,1694.6 1008.0,1694.5 1006.0,1694.5 1004.0,1694.5 1002.0,1694.4 1000.0,1694.4 998.0,1694.4 996.0,1694.3 994.0,1694.3 992.0,1694.3 990.0,1694.2 988.0,1694.2 986.0,1694.2 984.0,1694.1 982.0,1694.1 980.0,1694.0 978.0,1694.0 976.0,1694.0 974.0,1693.9 972.0,1693.9 970.0,1693.8 968.0,1693.8 966.0,1693.7 964.0,1693.7 962.0,1693.6 960.0,1693.6 958.0,1693.5 956.0,1693.5 954.0,1693.4 952.0,1693.3 950.0,1693.3 948.0,1693.2 946.0,1693.1 944.0,1693.1 942.0,1693.0 940.0,1692.9 938.0,1692.8 936.0,1692.7 934.0,1692.6 932.0,1692.5 930.0,1692.4 928.0,1692.3 926.0,1692.2 924.0,1692.0 922.0,1691.9 920.0,1691.8 918.0,1691.7 916.0,1691.5 914.0,1691.4 912.0,1691.2 910.0,1691.1 908.0,1690.9 906.0,1690.7 904.0,1690.6 902.0,1690.4 900.0,1690.2 898.0,1690.0 896.0,1689.9 894.0,1689.7 892.0,1689.5 890.0,1689.3 888.0,1689.1 886.0,1688.9 884.0,1688.7 882.0,1688.5 880.0,1688.3 878.0,1688.1 876.0,1687.8 874.0,1687.6 872.0,1687.4 870.0,1687.2 868.0,1687.0 866.0,1686.7 864.0,1686.5 862.0,1686.3 860.0,1686.1 858.0,1685.8 856.0,1685.6 854.0,1685.4 852.0,1685.1 850.0,1684.9 848.0,1684.7 846.0,1684.4 844.0,1684.2 842.0,1683.9 840.0,1683.7 838.0,1683.4 836.0,1683.2 834.0,1682.9 832.0,1682.7 830.0,1682.4 828.0,1682.2 826.0,1681.9 824.0,1681.7 822.0,1681.4 820.0,1681.2 818.0,1680.9 816.0,1680.6 814.0,1680.4 812.0,1680.1 810.0,1679.9 808.0,1679.6 806.0,1679.4 804.0,1679.1 802.0,1678.9 800.0,1678.6 798.0,1678.4 796.0,1678.1 794.0,1677.9 792.0,1677.6 790.0,1677.4 788.0,1677.1 786.0,1676.9 784.0,1676.6 782.0,1676.4 780.0,1676.1 778.0,1675.9 776.0,1675.6 774.0,1675.4 772.0,1675.1 770.0,1674.9 768.0,1674.6 766.0,1674.4 764.0,1674.1 762.0,1673.9 760.0,1673.6 758.0,1673.4 756.0,1673.1 754.0,1672.9 752.0,1672.7 750.0,1672.4 748.0,1672.2 746.0,1671.9 744.0,1671.7 742.0,1671.5 740.0,1671.2 738.0,1671.0 736.0,1670.7 734.0,1670.5 732.0,1670.3 730.0,1670.0 728.0,1669.8 726.0,1669.6 724.0,1669.3 722.0,1669.1 720.0,1668.9 718.0,1668.6 716.0,1668.4 714.0,1668.2 712.0,1667.9 710.0,1667.7 708.0,1667.5 706.0,1667.2 704.0,1667.0 702.0,1666.8 700.0,1666.6 698.0,1666.3 696.0,1666.1 694.0,1665.9 692.0,1665.6 690.0,1665.4 688.0,1665.2 686.0,1665.0 684.0,1664.7 682.0,1664.5 680.0,1664.3 678.0,1664.1 676.0,1663.9 674.0,1663.7 672.0,1663.5 670.0,1663.2 668.0,1663.0 666.0,1662.8 664.0,1662.6 662.0,1662.4 660.0,1662.2 658.0,1662.0 656.0,1661.9 654.0,1661.7 652.0,1661.5 650.0,1661.3 648.0,1661.1 646.0,1660.9 644.0,1660.8 642.0,1660.6 640.0,1660.4 638.0,1660.3 636.0,1660.1 634.0,1660.0 632.0,1659.8 630.0,1659.6 628.0,1659.5 626.0,1659.3 624.0,1659.2 622.0,1659.0 620.0,1658.9 618.0,1658.7 616.0,1658.6 614.0,1658.4 612.0,1658.3 610.0,1658.1 608.0,1658.0 606.0,1657.9 604.0,1657.7 602.0,1657.6 600.0,1657.4 598.0,1657.3 596.0,1657.2 594.0,1657.0 592.0,1656.9" fill="rgb(153,0,204)" fill-opacity="0.60" stroke="#575757" stroke-width="2.6" stroke-linejoin="round"/>
<polygon points="360.0,1653.7 362.0,1653.7 364.0,1653.7 366.0,1653.7 368.0,1653.7 370.0,1653.7 372.0,1653.7 374.0,1653.7 376.0,1653.7 378.0,1653.7 380.0,1653.7 382.0,1653.7 384.0,1653.7 386.0,1653.7 388.0,1653.7 390.0,1653.7 392.0,1653.7 394.0,1653.7 396.0,1653.7 398.0,1653.7 400.0,1653.7 402.0,1653.7 404.0,1653.7 406.0,1653.6 408.0,1653.6 410.0,1653.6 412.0,1653.6 414.0,1653.6 416.0,1653.6 418.0,1653.6 420.0,1653.6 422.0,1653.6 424.0,1653.6 426.0,1653.6 428.0,1653.6 430.0,1653.6 432.0,1653.6 434.0,1653.6 436.0,1653.6 438.0,1653.6 440.0,1653.6 442.0,1653.6 444.0,1653.6 446.0,1653.6 448.0,1653.6 450.0,1653.5 452.0,1653.5 454.0,1653.5 456.0,1653.5 458.0,1653.5 460.0,1653.5 462.0,1653.5 464.0,1653.5 466.0,1653.5 468.0,1653.5 470.0,1653.5 472.0,1653.5 474.0,1653.5 476.0,1653.5 478.0,1653.5 480.0,1653.5 482.0,1653.5 484.0,1653.4 486.0,1653.4 488.0,1653.4 490.0,1653.4 492.0,1653.4 494.0,1653.4 496.0,1653.4 498.0,1653.4 500.0,1653.4 502.0,1653.4 504.0,1653.4 506.0,1653.4 508.0,1653.4 510.0,1653.4 512.0,1653.4 514.0,1653.4 516.0,1653.4 518.0,1653.4 520.0,1653.4 522.0,1653.4 524.0,1653.4 526.0,1653.4 528.0,1653.4 530.0,1653.4 532.0,1653.4 534.0,1653.4 536.0,1653.4 538.0,1653.4 540.0,1653.5 542.0,1653.5 544.0,1653.5 546.0,1653.5 548.0,1653.6 550.0,1653.6 552.0,1653.6 554.0,1653.7 556.0,1653.7 558.0,1653.7 560.0,1653.8 562.0,1653.8 564.0,1653.9 566.0,1653.9 568.0,1653.9 570.0,1654.0 572.0,1654.0 574.0,1654.1 576.0,1654.1 578.0,1654.2 580.0,1654.2 582.0,1654.2 584.0,1654.2 586.0,1654.3 588.0,1654.3 590.0,1654.3 592.0,1654.3 594.0,1654.3 596.0,1654.2 598.0,1654.2 600.0,1654.1 602.0,1654.0 604.0,1653.9 606.0,1653.8 608.0,1653.6 610.0,1653.4 612.0,1653.2 614.0,1652.9 616.0,1652.6 618.0,1652.3 620.0,1651.9 622.0,1651.5 624.0,1651.0 626.0,1650.4 628.0,1649.8 630.0,1649.1 632.0,1648.3 634.0,1647.5 636.0,1646.6 638.0,1645.6 640.0,1644.5 642.0,1643.3 644.0,1642.0 646.0,1640.6 648.0,1639.0 650.0,1637.4 652.0,1635.6 654.0,1633.7 656.0,1631.7 658.0,1629.5 660.0,1627.2 662.0,1624.7 664.0,1622.1 666.0,1619.3 668.0,1616.3 670.0,1613.2 672.0,1610.0 674.0,1606.6 676.0,1603.0 678.0,1599.2 680.0,1595.3 682.0,1591.2 684.0,1587.0 686.0,1582.6 688.0,1578.1 690.0,1573.5 692.0,1568.7 694.0,1563.8 696.0,1558.8 698.0,1553.7 700.0,1548.5 702.0,1543.2 704.0,1537.9 706.0,1532.5 708.0,1527.1 710.0,1521.7 712.0,1516.3 714.0,1511.0 716.0,1505.7 718.0,1500.4 720.0,1495.3 722.0,1490.3 724.0,1485.4 726.0,1480.6 728.0,1476.1 730.0,1471.7 732.0,1467.6 734.0,1463.7 736.0,1460.0 738.0,1456.7 740.0,1453.6 742.0,1450.9 744.0,1448.5 746.0,1446.5 748.0,1444.8 750.0,1443.5 752.0,1442.5 754.0,1442.0 756.0,1441.8 758.0,1442.1 760.0,1442.7 762.0,1443.7 764.0,1445.1 766.0,1446.9 768.0,1449.1 770.0,1451.7 772.0,1454.5 774.0,1457.8 776.0,1461.3 778.0,1465.1 780.0,1469.2 782.0,1473.6 784.0,1478.2 786.0,1483.1 788.0,1488.1 790.0,1493.3 792.0,1498.7 794.0,1504.2 796.0,1509.9 798.0,1515.6 800.0,1521.4 802.0,1527.2 804.0,1533.1 806.0,1539.0 808.0,1544.8 810.0,1550.7 812.0,1556.5 814.0,1562.2 816.0,1567.9 818.0,1573.5 820.0,1579.0 822.0,1584.4 824.0,1589.7 826.0,1594.8 828.0,1599.8 830.0,1604.6 832.0,1609.3 834.0,1613.9 836.0,1618.3 838.0,1622.5 840.0,1626.5 842.0,1630.4 844.0,1634.1 846.0,1637.7 848.0,1641.1 850.0,1644.3 852.0,1647.4 854.0,1650.3 856.0,1653.0 858.0,1655.6 860.0,1658.1 862.0,1660.4 864.0,1662.6 866.0,1664.6 868.0,1666.6 870.0,1668.4 872.0,1670.1 874.0,1671.7 876.0,1673.1 878.0,1674.5 880.0,1675.8 882.0,1677.0 884.0,1678.1 886.0,1679.2 888.0,1680.2 890.0,1681.1 892.0,1681.9 894.0,1682.7 896.0,1683.4 898.0,1684.1 900.0,1684.7 902.0,1685.3 904.0,1685.8 906.0,1686.4 908.0,1686.8 910.0,1687.3 912.0,1687.7 914.0,1688.0 916.0,1688.4 918.0,1688.7 920.0,1689.0 922.0,1689.3 924.0,1689.6 926.0,1689.8 928.0,1690.0 930.0,1690.3 932.0,1690.5 934.0,1690.6 936.0,1690.8 938.0,1691.0 940.0,1691.1 942.0,1691.3 944.0,1691.4 946.0,1691.5 948.0,1691.7 950.0,1691.8 952.0,1691.9 954.0,1692.0 956.0,1692.1 958.0,1692.2 960.0,1692.3 962.0,1692.4 964.0,1692.4 966.0,1692.5 968.0,1692.6 970.0,1692.7 972.0,1692.7 974.0,1692.8 976.0,1692.9 978.0,1692.9 980.0,1693.0 982.0,1693.0 984.0,1693.1 986.0,1693.1 988.0,1693.2 990.0,1693.2 992.0,1693.3 994.0,1693.3 996.0,1693.4 998.0,1693.4 1000.0,1693.5 1002.0,1693.5 1004.0,1693.6 1006.0,1693.6 1008.0,1693.7 1010.0,1693.7 1012.0,1693.8 1014.0,1693.8 1016.0,1693.9 1018.0,1693.9 1020.0,1693.9 1022.0,1694.0 1024.0,1694.0 1026.0,1694.1 1028.0,1694.1 1030.0,1694.1 1032.0,1694.2 1034.0,1694.2 1036.0,1694.3 1038.0,1694.3 1040.0,1694.3 1042.0,1694.4 1044.0,1694.4 1046.0,1694.4 1048.0,1694.5 1050.0,1694.5 1052.0,1694.5 1054.0,1694.6 1056.0,1694.6 1058.0,1694.7 1060.0,1694.7 1062.0,1694.7 1064.0,1694.8 1066.0,1694.8 1068.0,1694.9 1070.0,1694.9 1072.0,1694.9 1074.0,1695.0 1076.0,1695.0 1078.0,1695.1 1080.0,1695.1 1082.0,1695.1 1084.0,1695.2 1086.0,1695.2 1088.0,1695.3 1090.0,1695.3 1092.0,1695.3 1094.0,1695.4 1096.0,1695.4 1098.0,1695.4 1100.0,1695.5 1102.0,1695.5 1104.0,1695.5 1106.0,1695.6 1108.0,1695.6 1110.0,1695.6 1112.0,1695.7 1114.0,1695.7 1116.0,1695.7 1118.0,1695.7 1120.0,1695.8 1122.0,1695.8 1124.0,1695.8 1126.0,1695.8 1128.0,1695.9 1130.0,1695.9 1132.0,1695.9 1134.0,1695.9 1136.0,1695.9 1138.0,1695.9 1140.0,1696.0 1142.0,1696.0 1144.0,1696.0 1146.0,1696.0 1148.0,1696.0 1150.0,1696.1 1152.0,1696.1 1154.0,1696.1 1154.0,1696.5 1152.0,1696.4 1150.0,1696.4 1148.0,1696.4 1146.0,1696.4 1144.0,1696.4 1142.0,1696.4 1140.0,1696.3 1138.0,1696.3 1136.0,1696.3 1134.0,1696.3 1132.0,1696.3 1130.0,1696.3 1128.0,1696.3 1126.0,1696.2 1124.0,1696.2 1122.0,1696.2 1120.0,1696.2 1118.0,1696.2 1116.0,1696.1 1114.0,1696.1 1112.0,1696.1 1110.0,1696.1 1108.0,1696.1 1106.0,1696.0 1104.0,1696.0 1102.0,1696.0 1100.0,1695.9 1098.0,1695.9 1096.0,1695.9 1094.0,1695.9 1092.0,1695.8 1090.0,1695.8 1088.0,1695.8 1086.0,1695.7 1084.0,1695.7 1082.0,1695.7 1080.0,1695.6 1078.0,1695.6 1076.0,1695.6 1074.0,1695.5 1072.0,1695.5 1070.0,1695.4 1068.0,1695.4 1066.0,1695.4 1064.0,1695.4 1062.0,1695.3 1060.0,1695.3 1058.0,1695.3 1056.0,1695.2 1054.0,1695.2 1052.0,1695.2 1050.0,1695.1 1048.0,1695.1 1046.0,1695.1 1044.0,1695.1 1042.0,1695.0 1040.0,1695.0 1038.0,1695.0 1036.0,1695.0 1034.0,1694.9 1032.0,1694.9 1030.0,1694.9 1028.0,1694.8 1026.0,1694.8 1024.0,1694.8 1022.0,1694.8 1020.0,1694.7 1018.0,1694.7 1016.0,1694.7 1014.0,1694.6 1012.0,1694.6 1010.0,1694.6 1008.0,1694.5 1006.0,1694.5 1004.0,1694.5 1002.0,1694.4 1000.0,1694.4 998.0,1694.4 996.0,1694.3 994.0,1694.3 992.0,1694.3 990.0,1694.2 988.0,1694.2 986.0,1694.2 984.0,1694.1 982.0,1694.1 980.0,1694.0 978.0,1694.0 976.0,1694.0 974.0,1693.9 972.0,1693.9 970.0,1693.8 968.0,1693.8 966.0,1693.7 964.0,1693.7 962.0,1693.6 960.0,1693.6 958.0,1693.5 956.0,1693.5 954.0,1693.4 952.0,1693.3 950.0,1693.3 948.0,1693.2 946.0,1693.1 944.0,1693.1 942.0,1693.0 940.0,1692.9 938.0,1692.8 936.0,1692.7 934.0,1692.6 932.0,1692.5 930.0,1692.4 928.0,1692.3 926.0,1692.2 924.0,1692.0 922.0,1691.9 920.0,1691.8 918.0,1691.7 916.0,1691.5 914.0,1691.4 912.0,1691.2 910.0,1691.1 908.0,1690.9 906.0,1690.7 904.0,1690.6 902.0,1690.4 900.0,1690.2 898.0,1690.0 896.0,1689.9 894.0,1689.7 892.0,1689.5 890.0,1689.3 888.0,1689.1 886.0,1688.9 884.0,1688.7 882.0,1688.5 880.0,1688.3 878.0,1688.1 876.0,1687.8 874.0,1687.6 872.0,1687.4 870.0,1687.2 868.0,1687.0 866.0,1686.7 864.0,1686.5 862.0,1686.3 860.0,1686.1 858.0,1685.8 856.0,1685.6 854.0,1685.4 852.0,1685.1 850.0,1684.9 848.0,1684.7 846.0,1684.4 844.0,1684.2 842.0,1683.9 840.0,1683.7 838.0,1683.4 836.0,1683.2 834.0,1682.9 832.0,1682.7 830.0,1682.4 828.0,1682.2 826.0,1681.9 824.0,1681.7 822.0,1681.4 820.0,1681.2 818.0,1680.9 816.0,1680.6 814.0,1680.4 812.0,1680.1 810.0,1679.9 808.0,1679.6 806.0,1679.4 804.0,1679.1 802.0,1678.9 800.0,1678.6 798.0,1678.4 796.0,1678.1 794.0,1677.9 792.0,1677.6 790.0,1677.4 788.0,1677.1 786.0,1676.9 784.0,1676.6 782.0,1676.4 780.0,1676.1 778.0,1675.9 776.0,1675.6 774.0,1675.4 772.0,1675.1 770.0,1674.9 768.0,1674.6 766.0,1674.4 764.0,1674.1 762.0,1673.9 760.0,1673.6 758.0,1673.4 756.0,1673.1 754.0,1672.9 752.0,1672.7 750.0,1672.4 748.0,1672.2 746.0,1671.9 744.0,1671.7 742.0,1671.5 740.0,1671.2 738.0,1671.0 736.0,1670.7 734.0,1670.5 732.0,1670.3 730.0,1670.0 728.0,1669.8 726.0,1669.6 724.0,1669.3 722.0,1669.1 720.0,1668.9 718.0,1668.6 716.0,1668.4 714.0,1668.2 712.0,1667.9 710.0,1667.7 708.0,1667.5 706.0,1667.2 704.0,1667.0 702.0,1666.8 700.0,1666.6 698.0,1666.3 696.0,1666.1 694.0,1665.9 692.0,1665.6 690.0,1665.4 688.0,1665.2 686.0,1665.0 684.0,1664.7 682.0,1664.5 680.0,1664.3 678.0,1664.1 676.0,1663.9 674.0,1663.7 672.0,1663.5 670.0,1663.2 668.0,1663.0 666.0,1662.8 664.0,1662.6 662.0,1662.4 660.0,1662.2 658.0,1662.0 656.0,1661.9 654.0,1661.7 652.0,1661.5 650.0,1661.3 648.0,1661.1 646.0,1660.9 644.0,1660.8 642.0,1660.6 640.0,1660.4 638.0,1660.3 636.0,1660.1 634.0,1660.0 632.0,1659.8 630.0,1659.6 628.0,1659.5 626.0,1659.3 624.0,1659.2 622.0,1659.0 620.0,1658.9 618.0,1658.7 616.0,1658.6 614.0,1658.4 612.0,1658.3 610.0,1658.1 608.0,1658.0 606.0,1657.9 604.0,1657.7 602.0,1657.6 600.0,1657.4 598.0,1657.3 596.0,1657.2 594.0,1657.0 592.0,1656.9 590.0,1656.8 588.0,1656.6 586.0,1656.5 584.0,1656.4 582.0,1656.3 580.0,1656.2 578.0,1656.0 576.0,1655.9 574.0,1655.8 572.0,1655.7 570.0,1655.6 568.0,1655.5 566.0,1655.4 564.0,1655.3 562.0,1655.3 560.0,1655.2 558.0,1655.1 556.0,1655.0 554.0,1655.0 552.0,1654.9 550.0,1654.8 548.0,1654.8 546.0,1654.7 544.0,1654.7 542.0,1654.6 540.0,1654.6 538.0,1654.6 536.0,1654.5 534.0,1654.5 532.0,1654.5 530.0,1654.4 528.0,1654.4 526.0,1654.4 524.0,1654.4 522.0,1654.3 520.0,1654.3 518.0,1654.3 516.0,1654.3 514.0,1654.3 512.0,1654.3 510.0,1654.3 508.0,1654.2 506.0,1654.2 504.0,1654.2 502.0,1654.2 500.0,1654.2 498.0,1654.2 496.0,1654.2 494.0,1654.2 492.0,1654.2 490.0,1654.2 488.0,1654.2 486.0,1654.2 484.0,1654.2 482.0,1654.2 480.0,1654.2 478.0,1654.2 476.0,1654.2 474.0,1654.2 472.0,1654.2 470.0,1654.2 468.0,1654.1 466.0,1654.1 464.0,1654.1 462.0,1654.1 460.0,1654.1 458.0,1654.1 456.0,1654.1 454.0,1654.1 452.0,1654.1 450.0,1654.1 448.0,1654.1 446.0,1654.1 444.0,1654.1 442.0,1654.1 440.0,1654.1 438.0,1654.1 436.0,1654.1 434.0,1654.1 432.0,1654.1 430.0,1654.1 428.0,1654.1 426.0,1654.1 424.0,1654.1 422.0,1654.1 420.0,1654.1 418.0,1654.1 416.0,1654.1 414.0,1654.1 412.0,1654.1 410.0,1654.1 408.0,1654.1 406.0,1654.1 404.0,1654.1 402.0,1654.1 400.0,1654.1 398.0,1654.1 396.0,1654.1 394.0,1654.1 392.0,1654.1 390.0,1654.1 388.0,1654.1 386.0,1654.1 384.0,1654.1 382.0,1654.1 380.0,1654.1 378.0,1654.1 376.0,1654.1 374.0,1654.1 372.0,1654.1 370.0,1654.1 368.0,1654.1 366.0,1654.1 364.0,1654.1 362.0,1654.1 360.0,1654.1" fill="rgb(247,97,0)" fill-opacity="0.60" stroke="#575757" stroke-width="2.6" stroke-linejoin="round"/>
<polygon points="454.0,1653.8 456.0,1653.8 458.0,1653.8 460.0,1653.8 462.0,1653.8 464.0,1653.7 466.0,1653.7 468.0,1653.7 470.0,1653.7 472.0,1653.7 474.0,1653.7 476.0,1653.7 478.0,1653.7 480.0,1653.7 482.0,1653.6 484.0,1653.6 486.0,1653.6 488.0,1653.6 490.0,1653.6 492.0,1653.5 494.0,1653.5 496.0,1653.5 498.0,1653.4 500.0,1653.4 502.0,1653.3 504.0,1653.3 506.0,1653.2 508.0,1653.2 510.0,1653.1 512.0,1653.0 514.0,1652.9 516.0,1652.8 518.0,1652.7 520.0,1652.6 522.0,1652.5 524.0,1652.4 526.0,1652.2 528.0,1652.1 530.0,1651.9 532.0,1651.7 534.0,1651.5 536.0,1651.2 538.0,1651.0 540.0,1650.7 542.0,1650.4 544.0,1650.1 546.0,1649.8 548.0,1649.4 550.0,1649.0 552.0,1648.5 554.0,1648.1 556.0,1647.6 558.0,1647.1 560.0,1646.5 562.0,1645.9 564.0,1645.2 566.0,1644.6 568.0,1643.8 570.0,1643.1 572.0,1642.3 574.0,1641.4 576.0,1640.5 578.0,1639.6 580.0,1638.6 582.0,1637.6 584.0,1636.5 586.0,1635.4 588.0,1634.3 590.0,1633.1 592.0,1631.9 594.0,1630.6 596.0,1629.3 598.0,1628.0 600.0,1626.6 602.0,1625.2 604.0,1623.8 606.0,1622.4 608.0,1621.0 610.0,1619.5 612.0,1618.1 614.0,1616.6 616.0,1615.2 618.0,1613.8 620.0,1612.4 622.0,1611.0 624.0,1609.6 626.0,1608.3 628.0,1607.0 630.0,1605.8 632.0,1604.6 634.0,1603.5 636.0,1602.5 638.0,1601.5 640.0,1600.6 642.0,1599.8 644.0,1599.1 646.0,1598.5 648.0,1598.0 650.0,1597.6 652.0,1597.3 654.0,1597.1 656.0,1597.0 658.0,1597.0 660.0,1597.2 662.0,1597.5 664.0,1597.8 666.0,1598.3 668.0,1598.9 670.0,1599.6 672.0,1600.5 674.0,1601.4 676.0,1602.4 678.0,1603.5 680.0,1604.7 682.0,1606.0 684.0,1607.4 686.0,1608.8 688.0,1610.3 690.0,1611.9 692.0,1613.5 694.0,1615.2 696.0,1616.9 698.0,1618.6 700.0,1620.4 702.0,1622.2 704.0,1624.0 706.0,1625.8 708.0,1627.6 710.0,1629.4 712.0,1631.2 714.0,1633.0 716.0,1634.8 718.0,1636.6 720.0,1638.3 722.0,1640.1 724.0,1641.8 726.0,1643.4 728.0,1645.0 730.0,1646.6 732.0,1648.2 734.0,1649.7 736.0,1651.1 738.0,1652.5 740.0,1653.9 742.0,1655.2 744.0,1656.5 746.0,1657.7 748.0,1658.9 750.0,1660.1 752.0,1661.1 754.0,1662.2 756.0,1663.2 758.0,1664.2 760.0,1665.1 762.0,1666.0 764.0,1666.8 766.0,1667.6 768.0,1668.4 770.0,1669.1 772.0,1669.8 774.0,1670.5 776.0,1671.1 778.0,1671.7 780.0,1672.3 782.0,1672.8 784.0,1673.4 786.0,1673.9 788.0,1674.4 790.0,1674.8 792.0,1675.3 794.0,1675.7 796.0,1676.1 798.0,1676.6 800.0,1676.9 802.0,1677.3 804.0,1677.7 806.0,1678.0 808.0,1678.4 810.0,1678.7 812.0,1679.1 814.0,1679.4 816.0,1679.7 818.0,1680.0 820.0,1680.3 822.0,1680.6 824.0,1680.9 826.0,1681.2 828.0,1681.5 830.0,1681.8 832.0,1682.1 834.0,1682.4 836.0,1682.6 838.0,1682.9 840.0,1683.2 842.0,1683.4 844.0,1683.7 846.0,1684.0 848.0,1684.2 850.0,1684.5 852.0,1684.7 854.0,1685.0 856.0,1685.2 858.0,1685.4 860.0,1685.7 862.0,1685.9 864.0,1686.2 866.0,1686.4 866.0,1686.7 864.0,1686.5 862.0,1686.3 860.0,1686.1 858.0,1685.8 856.0,1685.6 854.0,1685.4 852.0,1685.1 850.0,1684.9 848.0,1684.7 846.0,1684.4 844.0,1684.2 842.0,1683.9 840.0,1683.7 838.0,1683.4 836.0,1683.2 834.0,1682.9 832.0,1682.7 830.0,1682.4 828.0,1682.2 826.0,1681.9 824.0,1681.7 822.0,1681.4 820.0,1681.2 818.0,1680.9 816.0,1680.6 814.0,1680.4 812.0,1680.1 810.0,1679.9 808.0,1679.6 806.0,1679.4 804.0,1679.1 802.0,1678.9 800.0,1678.6 798.0,1678.4 796.0,1678.1 794.0,1677.9 792.0,1677.6 790.0,1677.4 788.0,1677.1 786.0,1676.9 784.0,1676.6 782.0,1676.4 780.0,1676.1 778.0,1675.9 776.0,1675.6 774.0,1675.4 772.0,1675.1 770.0,1674.9 768.0,1674.6 766.0,1674.4 764.0,1674.1 762.0,1673.9 760.0,1673.6 758.0,1673.4 756.0,1673.1 754.0,1672.9 752.0,1672.7 750.0,1672.4 748.0,1672.2 746.0,1671.9 744.0,1671.7 742.0,1671.5 740.0,1671.2 738.0,1671.0 736.0,1670.7 734.0,1670.5 732.0,1670.3 730.0,1670.0 728.0,1669.8 726.0,1669.6 724.0,1669.3 722.0,1669.1 720.0,1668.9 718.0,1668.6 716.0,1668.4 714.0,1668.2 712.0,1667.9 710.0,1667.7 708.0,1667.5 706.0,1667.2 704.0,1667.0 702.0,1666.8 700.0,1666.6 698.0,1666.3 696.0,1666.1 694.0,1665.9 692.0,1665.6 690.0,1665.4 688.0,1665.2 686.0,1665.0 684.0,1664.7 682.0,1664.5 680.0,1664.3 678.0,1664.1 676.0,1663.9 674.0,1663.7 672.0,1663.5 670.0,1663.2 668.0,1663.0 666.0,1662.8 664.0,1662.6 662.0,1662.4 660.0,1662.2 658.0,1662.0 656.0,1661.9 654.0,1661.7 652.0,1661.5 650.0,1661.3 648.0,1661.1 646.0,1660.9 644.0,1660.8 642.0,1660.6 640.0,1660.4 638.0,1660.3 636.0,1660.1 634.0,1660.0 632.0,1659.8 630.0,1659.6 628.0,1659.5 626.0,1659.3 624.0,1659.2 622.0,1659.0 620.0,1658.9 618.0,1658.7 616.0,1658.6 614.0,1658.4 612.0,1658.3 610.0,1658.1 608.0,1658.0 606.0,1657.9 604.0,1657.7 602.0,1657.6 600.0,1657.4 598.0,1657.3 596.0,1657.2 594.0,1657.0 592.0,1656.9 590.0,1656.8 588.0,1656.6 586.0,1656.5 584.0,1656.4 582.0,1656.3 580.0,1656.2 578.0,1656.0 576.0,1655.9 574.0,1655.8 572.0,1655.7 570.0,1655.6 568.0,1655.5 566.0,1655.4 564.0,1655.3 562.0,1655.3 560.0,1655.2 558.0,1655.1 556.0,1655.0 554.0,1655.0 552.0,1654.9 550.0,1654.8 548.0,1654.8 546.0,1654.7 544.0,1654.7 542.0,1654.6 540.0,1654.6 538.0,1654.6 536.0,1654.5 534.0,1654.5 532.0,1654.5 530.0,1654.4 528.0,1654.4 526.0,1654.4 524.0,1654.4 522.0,1654.3 520.0,1654.3 518.0,1654.3 516.0,1654.3 514.0,1654.3 512.0,1654.3 510.0,1654.3 508.0,1654.2 506.0,1654.2 504.0,1654.2 502.0,1654.2 500.0,1654.2 498.0,1654.2 496.0,1654.2 494.0,1654.2 492.0,1654.2 490.0,1654.2 488.0,1654.2 486.0,1654.2 484.0,1654.2 482.0,1654.2 480.0,1654.2 478.0,1654.2 476.0,1654.2 474.0,1654.2 472.0,1654.2 470.0,1654.2 468.0,1654.1 466.0,1654.1 464.0,1654.1 462.0,1654.1 460.0,1654.1 458.0,1654.1 456.0,1654.1 454.0,1654.1" fill="rgb(0,153,57)" fill-opacity="0.60" stroke="#575757" stroke-width="2.6" stroke-linejoin="round"/>
<polyline points="264.0,1654.0 266.0,1654.0 268.0,1654.0 270.0,1654.0 272.0,1654.0 274.0,1654.0 276.0,1654.0 278.0,1654.0 280.0,1654.0 282.0,1654.0 284.0,1654.0 286.0,1654.0 288.0,1654.0 290.0,1654.0 292.0,1654.0 294.0,1654.0 296.0,1654.0 298.0,1654.0 300.0,1654.0 302.0,1654.0 304.0,1654.0 306.0,1654.0 308.0,1654.0 310.0,1654.0 312.0,1654.0 314.0,1654.0 316.0,1654.0 318.0,1654.0 320.0,1654.1 322.0,1654.1 324.0,1654.1 326.0,1654.1 328.0,1654.1 330.0,1654.1 332.0,1654.1 334.0,1654.1 336.0,1654.1 338.0,1654.1 340.0,1654.1 342.0,1654.1 344.0,1654.1 346.0,1654.1 348.0,1654.1 350.0,1654.1 352.0,1654.1 354.0,1654.1 356.0,1654.1 358.0,1654.1 360.0,1654.1 362.0,1654.1 364.0,1654.1 366.0,1654.1 368.0,1654.1 370.0,1654.1 372.0,1654.1 374.0,1654.1 376.0,1654.1 378.0,1654.1 380.0,1654.1 382.0,1654.1 384.0,1654.1 386.0,1654.1 388.0,1654.1 390.0,1654.1 392.0,1654.1 394.0,1654.1 396.0,1654.1 398.0,1654.1 400.0,1654.1 402.0,1654.1 404.0,1654.1 406.0,1654.1 408.0,1654.1 410.0,1654.1 412.0,1654.1 414.0,1654.1 416.0,1654.1 418.0,1654.1 420.0,1654.1 422.0,1654.1 424.0,1654.1 426.0,1654.1 428.0,1654.1 430.0,1654.1 432.0,1654.1 434.0,1654.1 436.0,1654.1 438.0,1654.1 440.0,1654.1 442.0,1654.1 444.0,1654.1 446.0,1654.1 448.0,1654.1 450.0,1654.1 452.0,1654.1 454.0,1654.1 456.0,1654.1 458.0,1654.1 460.0,1654.1 462.0,1654.1 464.0,1654.1 466.0,1654.1 468.0,1654.1 470.0,1654.2 472.0,1654.2 474.0,1654.2 476.0,1654.2 478.0,1654.2 480.0,1654.2 482.0,1654.2 484.0,1654.2 486.0,1654.2 488.0,1654.2 490.0,1654.2 492.0,1654.2 494.0,1654.2 496.0,1654.2 498.0,1654.2 500.0,1654.2 502.0,1654.2 504.0,1654.2 506.0,1654.2 508.0,1654.2 510.0,1654.3 512.0,1654.3 514.0,1654.3 516.0,1654.3 518.0,1654.3 520.0,1654.3 522.0,1654.3 524.0,1654.4 526.0,1654.4 528.0,1654.4 530.0,1654.4 532.0,1654.5 534.0,1654.5 536.0,1654.5 538.0,1654.6 540.0,1654.6 542.0,1654.6 544.0,1654.7 546.0,1654.7 548.0,1654.8 550.0,1654.8 552.0,1654.9 554.0,1655.0 556.0,1655.0 558.0,1655.1 560.0,1655.2 562.0,1655.3 564.0,1655.3 566.0,1655.4 568.0,1655.5 570.0,1655.6 572.0,1655.7 574.0,1655.8 576.0,1655.9 578.0,1656.0 580.0,1656.2 582.0,1656.3 584.0,1656.4 586.0,1656.5 588.0,1656.6 590.0,1656.8 592.0,1656.9 594.0,1657.0 596.0,1657.2 598.0,1657.3 600.0,1657.4 602.0,1657.6 604.0,1657.7 606.0,1657.9 608.0,1658.0 610.0,1658.1 612.0,1658.3 614.0,1658.4 616.0,1658.6 618.0,1658.7 620.0,1658.9 622.0,1659.0 624.0,1659.2 626.0,1659.3 628.0,1659.5 630.0,1659.6 632.0,1659.8 634.0,1660.0 636.0,1660.1 638.0,1660.3 640.0,1660.4 642.0,1660.6 644.0,1660.8 646.0,1660.9 648.0,1661.1 650.0,1661.3 652.0,1661.5 654.0,1661.7 656.0,1661.9 658.0,1662.0 660.0,1662.2 662.0,1662.4 664.0,1662.6 666.0,1662.8 668.0,1663.0 670.0,1663.2 672.0,1663.5 674.0,1663.7 676.0,1663.9 678.0,1664.1 680.0,1664.3 682.0,1664.5 684.0,1664.7 686.0,1665.0 688.0,1665.2 690.0,1665.4 692.0,1665.6 694.0,1665.9 696.0,1666.1 698.0,1666.3 700.0,1666.6 702.0,1666.8 704.0,1667.0 706.0,1667.2 708.0,1667.5 710.0,1667.7 712.0,1667.9 714.0,1668.2 716.0,1668.4 718.0,1668.6 720.0,1668.9 722.0,1669.1 724.0,1669.3 726.0,1669.6 728.0,1669.8 730.0,1670.0 732.0,1670.3 734.0,1670.5 736.0,1670.7 738.0,1671.0 740.0,1671.2 742.0,1671.5 744.0,1671.7 746.0,1671.9 748.0,1672.2 750.0,1672.4 752.0,1672.7 754.0,1672.9 756.0,1673.1 758.0,1673.4 760.0,1673.6 762.0,1673.9 764.0,1674.1 766.0,1674.4 768.0,1674.6 770.0,1674.9 772.0,1675.1 774.0,1675.4 776.0,1675.6 778.0,1675.9 780.0,1676.1 782.0,1676.4 784.0,1676.6 786.0,1676.9 788.0,1677.1 790.0,1677.4 792.0,1677.6 794.0,1677.9 796.0,1678.1 798.0,1678.4 800.0,1678.6 802.0,1678.9 804.0,1679.1 806.0,1679.4 808.0,1679.6 810.0,1679.9 812.0,1680.1 814.0,1680.4 816.0,1680.6 818.0,1680.9 820.0,1681.2 822.0,1681.4 824.0,1681.7 826.0,1681.9 828.0,1682.2 830.0,1682.4 832.0,1682.7 834.0,1682.9 836.0,1683.2 838.0,1683.4 840.0,1683.7 842.0,1683.9 844.0,1684.2 846.0,1684.4 848.0,1684.7 850.0,1684.9 852.0,1685.1 854.0,1685.4 856.0,1685.6 858.0,1685.8 860.0,1686.1 862.0,1686.3 864.0,1686.5 866.0,1686.7 868.0,1687.0 870.0,1687.2 872.0,1687.4 874.0,1687.6 876.0,1687.8 878.0,1688.1 880.0,1688.3 882.0,1688.5 884.0,1688.7 886.0,1688.9 888.0,1689.1 890.0,1689.3 892.0,1689.5 894.0,1689.7 896.0,1689.9 898.0,1690.0 900.0,1690.2 902.0,1690.4 904.0,1690.6 906.0,1690.7 908.0,1690.9 910.0,1691.1 912.0,1691.2 914.0,1691.4 916.0,1691.5 918.0,1691.7 920.0,1691.8 922.0,1691.9 924.0,1692.0 926.0,1692.2 928.0,1692.3 930.0,1692.4 932.0,1692.5 934.0,1692.6 936.0,1692.7 938.0,1692.8 940.0,1692.9 942.0,1693.0 944.0,1693.1 946.0,1693.1 948.0,1693.2 950.0,1693.3 952.0,1693.3 954.0,1693.4 956.0,1693.5 958.0,1693.5 960.0,1693.6 962.0,1693.6 964.0,1693.7 966.0,1693.7 968.0,1693.8 970.0,1693.8 972.0,1693.9 974.0,1693.9 976.0,1694.0 978.0,1694.0 980.0,1694.0 982.0,1694.1 984.0,1694.1 986.0,1694.2 988.0,1694.2 990.0,1694.2 992.0,1694.3 994.0,1694.3 996.0,1694.3 998.0,1694.4 1000.0,1694.4 1002.0,1694.4 1004.0,1694.5 1006.0,1694.5 1008.0,1694.5 1010.0,1694.6 1012.0,1694.6 1014.0,1694.6 1016.0,1694.7 1018.0,1694.7 1020.0,1694.7 1022.0,1694.8 1024.0,1694.8 1026.0,1694.8 1028.0,1694.8 1030.0,1694.9 1032.0,1694.9 1034.0,1694.9 1036.0,1695.0 1038.0,1695.0 1040.0,1695.0 1042.0,1695.0 1044.0,1695.1 1046.0,1695.1 1048.0,1695.1 1050.0,1695.1 1052.0,1695.2 1054.0,1695.2 1056.0,1695.2 1058.0,1695.3 1060.0,1695.3 1062.0,1695.3 1064.0,1695.4 1066.0,1695.4 1068.0,1695.4 1070.0,1695.4 1072.0,1695.5 1074.0,1695.5 1076.0,1695.6 1078.0,1695.6 1080.0,1695.6 1082.0,1695.7 1084.0,1695.7 1086.0,1695.7 1088.0,1695.8 1090.0,1695.8 1092.0,1695.8 1094.0,1695.9 1096.0,1695.9 1098.0,1695.9 1100.0,1695.9 1102.0,1696.0 1104.0,1696.0 1106.0,1696.0 1108.0,1696.1 1110.0,1696.1 1112.0,1696.1 1114.0,1696.1 1116.0,1696.1 1118.0,1696.2 1120.0,1696.2 1122.0,1696.2 1124.0,1696.2 1126.0,1696.2 1128.0,1696.3 1130.0,1696.3 1132.0,1696.3 1134.0,1696.3 1136.0,1696.3 1138.0,1696.3 1140.0,1696.3 1142.0,1696.4 1144.0,1696.4 1146.0,1696.4 1148.0,1696.4 1150.0,1696.4 1152.0,1696.4 1154.0,1696.5 1156.0,1696.5 1158.0,1696.5 1160.0,1696.5 1162.0,1696.5 1164.0,1696.6 1166.0,1696.6 1168.0,1696.6 1170.0,1696.6 1172.0,1696.6 1174.0,1696.7 1176.0,1696.7 1178.0,1696.7 1180.0,1696.7 1182.0,1696.8 1184.0,1696.8 1186.0,1696.8 1188.0,1696.8 1190.0,1696.9 1192.0,1696.9 1194.0,1696.9 1196.0,1696.9 1198.0,1696.9 1200.0,1697.0 1202.0,1697.0 1204.0,1697.0 1206.0,1697.0 1208.0,1697.0 1210.0,1697.0 1212.0,1697.1 1214.0,1697.1 1216.0,1697.1 1218.0,1697.1 1220.0,1697.1 1222.0,1697.1 1224.0,1697.1 1226.0,1697.1 1228.0,1697.1 1230.0,1697.1 1232.0,1697.1 1234.0,1697.1 1236.0,1697.2 1238.0,1697.2 1240.0,1697.2 1242.0,1697.2 1244.0,1697.2 1246.0,1697.2 1248.0,1697.2 1250.0,1697.2 1252.0,1697.2 1254.0,1697.2 1256.0,1697.2 1258.0,1697.2 1260.0,1697.2 1262.0,1697.2 1264.0,1697.2 1266.0,1697.2 1268.0,1697.2 1270.0,1697.2 1272.0,1697.2 1274.0,1697.2 1276.0,1697.2 1278.0,1697.2 1280.0,1697.2 1282.0,1697.2 1284.0,1697.2 1286.0,1697.2 1288.0,1697.2 1290.0,1697.2 1292.0,1697.2 1294.0,1697.2 1296.0,1697.2 1298.0,1697.2 1300.0,1697.2 1302.0,1697.2 1304.0,1697.2 1306.0,1697.2" fill="none" stroke="#575757" stroke-width="2.8"/>
<polyline points="270.0,1123.4 272.0,1123.4 274.0,1123.4 276.0,1123.4 278.0,1123.4 280.0,1123.4 282.0,1123.4 284.0,1123.4 286.0,1123.4 288.0,1123.4 290.0,1123.3 292.0,1123.3 294.0,1123.3 296.0,1123.3 298.0,1123.3 300.0,1123.3 302.0,1123.3 304.0,1123.3 306.0,1123.3 308.0,1123.3 310.0,1123.3 312.0,1123.3 314.0,1123.3 316.0,1123.3 318.0,1123.3 320.0,1123.3 322.0,1123.3 324.0,1123.3 326.0,1123.3 328.0,1123.3 330.0,1123.3 332.0,1123.2 334.0,1123.2 336.0,1123.2 338.0,1123.2 340.0,1123.2 342.0,1123.2 344.0,1123.2 346.0,1123.2 348.0,1123.2 350.0,1123.2 352.0,1123.2 354.0,1123.2 356.0,1123.2 358.0,1123.2 360.0,1123.1 362.0,1123.1 364.0,1123.1 366.0,1123.1 368.0,1123.1 370.0,1123.1 372.0,1123.1 374.0,1123.1 376.0,1123.1 378.0,1123.1 380.0,1123.1 382.0,1123.1 384.0,1123.0 386.0,1123.0 388.0,1123.0 390.0,1123.0 392.0,1123.0 394.0,1123.0 396.0,1123.0 398.0,1123.0 400.0,1123.0 402.0,1122.9 404.0,1122.9 406.0,1122.9 408.0,1122.9 410.0,1122.9 412.0,1122.9 414.0,1122.9 416.0,1122.8 418.0,1122.8 420.0,1122.8 422.0,1122.8 424.0,1122.8 426.0,1122.8 428.0,1122.7 430.0,1122.7 432.0,1122.7 434.0,1122.7 436.0,1122.7 438.0,1122.6 440.0,1122.6 442.0,1122.6 444.0,1122.6 446.0,1122.5 448.0,1122.5 450.0,1122.5 452.0,1122.4 454.0,1122.4 456.0,1122.3 458.0,1122.3 460.0,1122.2 462.0,1122.1 464.0,1122.0 466.0,1122.0 468.0,1121.9 470.0,1121.7 472.0,1121.6 474.0,1121.4 476.0,1121.3 478.0,1121.1 480.0,1120.8 482.0,1120.6 484.0,1120.2 486.0,1119.9 488.0,1119.5 490.0,1119.0 492.0,1118.5 494.0,1117.9 496.0,1117.3 498.0,1116.5 500.0,1115.7 502.0,1114.8 504.0,1113.7 506.0,1112.5 508.0,1111.3 510.0,1109.8 512.0,1108.3 514.0,1106.6 516.0,1104.7 518.0,1102.6 520.0,1100.4 522.0,1098.0 524.0,1095.4 526.0,1092.7 528.0,1089.7 530.0,1086.5 532.0,1083.2 534.0,1079.7 536.0,1076.0 538.0,1072.1 540.0,1068.1 542.0,1063.9 544.0,1059.5 546.0,1055.1 548.0,1050.5 550.0,1045.9 552.0,1041.1 554.0,1036.4 556.0,1031.6 558.0,1026.8 560.0,1022.1 562.0,1017.4 564.0,1012.8 566.0,1008.3 568.0,1003.9 570.0,999.7 572.0,995.6 574.0,991.8 576.0,988.1 578.0,984.7 580.0,981.5 582.0,978.5 584.0,975.8 586.0,973.3 588.0,971.1 590.0,969.0 592.0,967.2 594.0,965.6 596.0,964.1 598.0,962.8 600.0,961.6 602.0,960.6 604.0,959.5 606.0,958.6 608.0,957.6 610.0,956.7 612.0,955.7 614.0,954.7 616.0,953.6 618.0,952.4 620.0,951.1 622.0,949.8 624.0,948.3 626.0,946.7 628.0,945.0 630.0,943.3 632.0,941.4 634.0,939.5 636.0,937.5 638.0,935.5 640.0,933.5 642.0,931.5 644.0,929.5 646.0,927.6 648.0,925.7 650.0,924.0 652.0,922.3 654.0,920.9 656.0,919.5 658.0,918.4 660.0,917.4 662.0,916.6 664.0,916.0 666.0,915.5 668.0,915.3 670.0,915.2 672.0,915.2 674.0,915.4 676.0,915.7 678.0,916.1 680.0,916.5 682.0,917.0 684.0,917.5 686.0,918.0 688.0,918.4 690.0,918.8 692.0,919.1 694.0,919.4 696.0,919.4 698.0,919.4 700.0,919.2 702.0,918.8 704.0,918.3 706.0,917.6 708.0,916.8 710.0,915.8 712.0,914.7 714.0,913.4 716.0,912.0 718.0,910.4 720.0,908.8 722.0,907.1 724.0,905.4 726.0,903.6 728.0,901.8 730.0,900.1 732.0,898.3 734.0,896.6 736.0,895.0 738.0,893.4 740.0,891.9 742.0,890.5 744.0,889.1 746.0,887.9 748.0,886.7 750.0,885.7 752.0,884.7 754.0,883.7 756.0,882.8 758.0,882.0 760.0,881.2 762.0,880.5 764.0,879.7 766.0,879.0 768.0,878.2 770.0,877.5 772.0,876.8 774.0,876.1 776.0,875.4 778.0,874.7 780.0,874.0 782.0,873.3 784.0,872.7 786.0,872.1 788.0,871.6 790.0,871.2 792.0,870.9 794.0,870.8 796.0,870.7 798.0,870.9 800.0,871.2 802.0,871.8 804.0,872.5 806.0,873.5 808.0,874.8 810.0,876.3 812.0,878.1 814.0,880.1 816.0,882.4 818.0,884.9 820.0,887.7 822.0,890.6 824.0,893.8 826.0,897.1 828.0,900.6 830.0,904.2 832.0,907.9 834.0,911.7 836.0,915.4 838.0,919.2 840.0,923.0 842.0,926.7 844.0,930.3 846.0,933.9 848.0,937.3 850.0,940.6 852.0,943.8 854.0,946.8 856.0,949.7 858.0,952.4 860.0,955.0 862.0,957.4 864.0,959.7 866.0,961.9 868.0,963.9 870.0,965.9 872.0,967.7 874.0,969.5 876.0,971.2 878.0,972.9 880.0,974.6 882.0,976.3 884.0,978.0 886.0,979.7 888.0,981.5 890.0,983.4 892.0,985.4 894.0,987.5 896.0,989.7 898.0,992.0 900.0,994.4 902.0,996.9 904.0,999.5 906.0,1002.3 908.0,1005.1 910.0,1008.0 912.0,1011.0 914.0,1014.0 916.0,1017.1 918.0,1020.2 920.0,1023.4 922.0,1026.5 924.0,1029.6 926.0,1032.7 928.0,1035.7 930.0,1038.7 932.0,1041.6 934.0,1044.5 936.0,1047.3 938.0,1050.0 940.0,1052.5 942.0,1055.0 944.0,1057.4 946.0,1059.7 948.0,1061.9 950.0,1064.0 952.0,1065.9 954.0,1067.7 956.0,1069.5 958.0,1071.0 960.0,1072.5 962.0,1073.9 964.0,1075.1 966.0,1076.2 968.0,1077.2 970.0,1078.1 972.0,1078.9 974.0,1079.7 976.0,1080.3 978.0,1080.9 980.0,1081.4 982.0,1081.8 984.0,1082.2 986.0,1082.6 988.0,1083.0 990.0,1083.3 992.0,1083.7 994.0,1084.0 996.0,1084.4 998.0,1084.8 1000.0,1085.2 1002.0,1085.7 1004.0,1086.1 1006.0,1086.6 1008.0,1087.2 1010.0,1087.7 1012.0,1088.2 1014.0,1088.8 1016.0,1089.3 1018.0,1089.8 1020.0,1090.2 1022.0,1090.6 1024.0,1090.9 1026.0,1091.2 1028.0,1091.3 1030.0,1091.4 1032.0,1091.3 1034.0,1091.1 1036.0,1090.8 1038.0,1090.3 1040.0,1089.7 1042.0,1089.0 1044.0,1088.1 1046.0,1087.1 1048.0,1086.0 1050.0,1084.8 1052.0,1083.4 1054.0,1082.0 1056.0,1080.6 1058.0,1079.1 1060.0,1077.5 1062.0,1076.0 1064.0,1074.5 1066.0,1073.0 1068.0,1071.6 1070.0,1070.3 1072.0,1069.1 1074.0,1068.0 1076.0,1067.1 1078.0,1066.3 1080.0,1065.7 1082.0,1065.3 1084.0,1065.1 1086.0,1065.2 1088.0,1065.4 1090.0,1065.9 1092.0,1066.5 1094.0,1067.4 1096.0,1068.4 1098.0,1069.7 1100.0,1071.1 1102.0,1072.6 1104.0,1074.2 1106.0,1076.0 1108.0,1077.8 1110.0,1079.7 1112.0,1081.6 1114.0,1083.5 1116.0,1085.3 1118.0,1087.1 1120.0,1088.9 1122.0,1090.5 1124.0,1092.0 1126.0,1093.4 1128.0,1094.7 1130.0,1095.8 1132.0,1096.7 1134.0,1097.5 1136.0,1098.1 1138.0,1098.5 1140.0,1098.8 1142.0,1098.9 1144.0,1098.9 1146.0,1098.8 1148.0,1098.6 1150.0,1098.3 1152.0,1098.0 1154.0,1097.6 1156.0,1097.3 1158.0,1096.9 1160.0,1096.6 1162.0,1096.4 1164.0,1096.3 1166.0,1096.3 1168.0,1096.5 1170.0,1096.8 1172.0,1097.3 1174.0,1098.0 1176.0,1098.9 1178.0,1100.0 1180.0,1101.3 1182.0,1102.8 1184.0,1104.5 1186.0,1106.4 1188.0,1108.4 1190.0,1110.6 1192.0,1113.0 1194.0,1115.4 1196.0,1117.9 1198.0,1120.5 1200.0,1123.2 1202.0,1125.9 1204.0,1128.5 1206.0,1131.2 1208.0,1133.8 1210.0,1136.4 1212.0,1138.9 1214.0,1141.4 1216.0,1143.7 1218.0,1146.0 1220.0,1148.1 1222.0,1150.1 1224.0,1152.0 1226.0,1153.8 1228.0,1155.5 1230.0,1157.0 1232.0,1158.4 1234.0,1159.7 1236.0,1160.9 1238.0,1162.0 1240.0,1162.9 1242.0,1163.8 1244.0,1164.6 1246.0,1165.3 1248.0,1165.9 1250.0,1166.4 1252.0,1166.9 1254.0,1167.3 1256.0,1167.7 1258.0,1168.0 1260.0,1168.3 1262.0,1168.5 1264.0,1168.7 1266.0,1168.9 1268.0,1169.0 1270.0,1169.2 1272.0,1169.3 1274.0,1169.4 1276.0,1169.5 1278.0,1169.5 1280.0,1169.6 1282.0,1169.6 1284.0,1169.7 1286.0,1169.7 1288.0,1169.8 1290.0,1169.8 1292.0,1169.8 1294.0,1169.9 1296.0,1169.9 1298.0,1169.9 1300.0,1169.9" fill="none" stroke="#ff0000" stroke-width="2.8" stroke-linejoin="round" stroke-linecap="round"/>
<polyline points="272.0,1653.3 274.0,1653.3 276.0,1653.3 278.0,1653.3 280.0,1653.2 282.0,1653.2 284.0,1653.2 286.0,1653.2 288.0,1653.2 290.0,1653.2 292.0,1653.2 294.0,1653.2 296.0,1653.2 298.0,1653.2 300.0,1653.2 302.0,1653.2 304.0,1653.2 306.0,1653.2 308.0,1653.1 310.0,1653.1 312.0,1653.1 314.0,1653.1 316.0,1653.1 318.0,1653.1 320.0,1653.1 322.0,1653.1 324.0,1653.1 326.0,1653.1 328.0,1653.1 330.0,1653.0 332.0,1653.0 334.0,1653.0 336.0,1653.0 338.0,1653.0 340.0,1653.0 342.0,1653.0 344.0,1653.0 346.0,1653.0 348.0,1652.9 350.0,1652.9 352.0,1652.9 354.0,1652.9 356.0,1652.9 358.0,1652.9 360.0,1652.9 362.0,1652.9 364.0,1652.8 366.0,1652.8 368.0,1652.8 370.0,1652.8 372.0,1652.8 374.0,1652.8 376.0,1652.8 378.0,1652.7 380.0,1652.7 382.0,1652.7 384.0,1652.7 386.0,1652.7 388.0,1652.7 390.0,1652.6 392.0,1652.6 394.0,1652.6 396.0,1652.6 398.0,1652.6 400.0,1652.5 402.0,1652.5 404.0,1652.5 406.0,1652.5 408.0,1652.5 410.0,1652.4 412.0,1652.4 414.0,1652.4 416.0,1652.4 418.0,1652.3 420.0,1652.3 422.0,1652.3 424.0,1652.3 426.0,1652.2 428.0,1652.2 430.0,1652.2 432.0,1652.1 434.0,1652.1 436.0,1652.1 438.0,1652.0 440.0,1652.0 442.0,1652.0 444.0,1651.9 446.0,1651.9 448.0,1651.9 450.0,1651.8 452.0,1651.8 454.0,1651.7 456.0,1651.6 458.0,1651.6 460.0,1651.5 462.0,1651.4 464.0,1651.4 466.0,1651.3 468.0,1651.2 470.0,1651.1 472.0,1650.9 474.0,1650.8 476.0,1650.7 478.0,1650.5 480.0,1650.3 482.0,1650.1 484.0,1649.8 486.0,1649.5 488.0,1649.2 490.0,1648.9 492.0,1648.5 494.0,1648.0 496.0,1647.5 498.0,1646.9 500.0,1646.3 502.0,1645.5 504.0,1644.7 506.0,1643.8 508.0,1642.8 510.0,1641.7 512.0,1640.5 514.0,1639.1 516.0,1637.6 518.0,1636.0 520.0,1634.2 522.0,1632.3 524.0,1630.2 526.0,1627.9 528.0,1625.5 530.0,1622.8 532.0,1620.0 534.0,1617.0 536.0,1613.8 538.0,1610.5 540.0,1606.9 542.0,1603.2 544.0,1599.3 546.0,1595.3 548.0,1591.0 550.0,1586.7 552.0,1582.2 554.0,1577.7 556.0,1573.0 558.0,1568.2 560.0,1563.5 562.0,1558.6 564.0,1553.8 566.0,1549.0 568.0,1544.2 570.0,1539.5 572.0,1534.9 574.0,1530.4 576.0,1526.1 578.0,1521.9 580.0,1517.9 582.0,1514.1 584.0,1510.4 586.0,1507.1 588.0,1503.9 590.0,1501.0 592.0,1498.3 594.0,1495.9 596.0,1493.7 598.0,1491.7 600.0,1489.9 602.0,1488.3 604.0,1486.8 606.0,1485.5 608.0,1484.2 610.0,1483.1 612.0,1482.0 614.0,1481.0 616.0,1479.9 618.0,1478.8 620.0,1477.6 622.0,1476.4 624.0,1475.1 626.0,1473.6 628.0,1472.0 630.0,1470.3 632.0,1468.4 634.0,1466.3 636.0,1464.1 638.0,1461.7 640.0,1459.1 642.0,1456.4 644.0,1453.5 646.0,1450.5 648.0,1447.4 650.0,1444.2 652.0,1440.9 654.0,1437.5 656.0,1434.1 658.0,1430.7 660.0,1427.3 662.0,1424.0 664.0,1420.7 666.0,1417.5 668.0,1414.4 670.0,1411.5 672.0,1408.7 674.0,1406.0 676.0,1403.6 678.0,1401.3 680.0,1399.2 682.0,1397.3 684.0,1395.6 686.0,1394.1 688.0,1392.8 690.0,1391.7 692.0,1390.7 694.0,1389.9 696.0,1389.2 698.0,1388.6 700.0,1388.1 702.0,1387.7 704.0,1387.4 706.0,1387.2 708.0,1386.9 710.0,1386.7 712.0,1386.5 714.0,1386.3 716.0,1386.0 718.0,1385.8 720.0,1385.5 722.0,1385.2 724.0,1384.8 726.0,1384.4 728.0,1384.0 730.0,1383.5 732.0,1383.0 734.0,1382.4 736.0,1381.9 738.0,1381.3 740.0,1380.6 742.0,1380.0 744.0,1379.4 746.0,1378.8 748.0,1378.2 750.0,1377.6 752.0,1377.1 754.0,1376.5 756.0,1376.1 758.0,1375.6 760.0,1375.2 762.0,1374.9 764.0,1374.5 766.0,1374.3 768.0,1374.0 770.0,1373.8 772.0,1373.6 774.0,1373.4 776.0,1373.2 778.0,1373.0 780.0,1372.9 782.0,1372.7 784.0,1372.5 786.0,1372.3 788.0,1372.1 790.0,1371.8 792.0,1371.6 794.0,1371.3 796.0,1371.0 798.0,1370.8 800.0,1370.5 802.0,1370.2 804.0,1370.0 806.0,1369.8 808.0,1369.6 810.0,1369.5 812.0,1369.5 814.0,1369.5 816.0,1369.7 818.0,1369.9 820.0,1370.3 822.0,1370.8 824.0,1371.5 826.0,1372.3 828.0,1373.3 830.0,1374.5 832.0,1375.7 834.0,1377.2 836.0,1378.7 838.0,1380.4 840.0,1382.3 842.0,1384.2 844.0,1386.2 846.0,1388.3 848.0,1390.4 850.0,1392.6 852.0,1394.9 854.0,1397.2 856.0,1399.5 858.0,1401.8 860.0,1404.2 862.0,1406.6 864.0,1409.0 866.0,1411.4 868.0,1413.9 870.0,1416.5 872.0,1419.1 874.0,1421.8 876.0,1424.5 878.0,1427.4 880.0,1430.4 882.0,1433.6 884.0,1436.9 886.0,1440.4 888.0,1444.1 890.0,1448.0 892.0,1452.0 894.0,1456.3 896.0,1460.8 898.0,1465.5 900.0,1470.4 902.0,1475.5 904.0,1480.7 906.0,1486.2 908.0,1491.7 910.0,1497.4 912.0,1503.2 914.0,1509.1 916.0,1515.1 918.0,1521.1 920.0,1527.1 922.0,1533.1 924.0,1539.0 926.0,1544.9 928.0,1550.8 930.0,1556.6 932.0,1562.2 934.0,1567.8 936.0,1573.2 938.0,1578.5 940.0,1583.6 942.0,1588.5 944.0,1593.3 946.0,1597.9 948.0,1602.3 950.0,1606.6 952.0,1610.6 954.0,1614.4 956.0,1618.1 958.0,1621.5 960.0,1624.7 962.0,1627.7 964.0,1630.5 966.0,1633.1 968.0,1635.5 970.0,1637.7 972.0,1639.8 974.0,1641.6 976.0,1643.2 978.0,1644.7 980.0,1646.1 982.0,1647.2 984.0,1648.3 986.0,1649.2 988.0,1650.0 990.0,1650.7 992.0,1651.3 994.0,1651.9 996.0,1652.4 998.0,1652.8 1000.0,1653.3 1002.0,1653.7 1004.0,1654.1 1006.0,1654.5 1008.0,1654.9 1010.0,1655.3 1012.0,1655.7 1014.0,1656.2 1016.0,1656.7 1018.0,1657.1 1020.0,1657.6 1022.0,1658.1 1024.0,1658.6 1026.0,1659.1 1028.0,1659.6 1030.0,1660.0 1032.0,1660.4 1034.0,1660.8 1036.0,1661.1 1038.0,1661.3 1040.0,1661.5 1042.0,1661.6 1044.0,1661.6 1046.0,1661.5 1048.0,1661.3 1050.0,1661.1 1052.0,1660.7 1054.0,1660.3 1056.0,1659.8 1058.0,1659.3 1060.0,1658.7 1062.0,1658.1 1064.0,1657.4 1066.0,1656.7 1068.0,1656.1 1070.0,1655.5 1072.0,1654.9 1074.0,1654.4 1076.0,1654.0 1078.0,1653.7 1080.0,1653.5 1082.0,1653.4 1084.0,1653.5 1086.0,1653.7 1088.0,1654.1 1090.0,1654.6 1092.0,1655.3 1094.0,1656.1 1096.0,1657.1 1098.0,1658.2 1100.0,1659.3 1102.0,1660.6 1104.0,1662.0 1106.0,1663.4 1108.0,1664.8 1110.0,1666.3 1112.0,1667.7 1114.0,1669.2 1116.0,1670.6 1118.0,1671.9 1120.0,1673.1 1122.0,1674.3 1124.0,1675.3 1126.0,1676.3 1128.0,1677.1 1130.0,1677.7 1132.0,1678.2 1134.0,1678.6 1136.0,1678.8 1138.0,1678.9 1140.0,1678.9 1142.0,1678.7 1144.0,1678.4 1146.0,1677.9 1148.0,1677.4 1150.0,1676.7 1152.0,1676.0 1154.0,1675.2 1156.0,1674.4 1158.0,1673.5 1160.0,1672.6 1162.0,1671.7 1164.0,1670.8 1166.0,1670.0 1168.0,1669.3 1170.0,1668.6 1172.0,1668.0 1174.0,1667.6 1176.0,1667.2 1178.0,1667.0 1180.0,1666.9 1182.0,1667.0 1184.0,1667.2 1186.0,1667.6 1188.0,1668.0 1190.0,1668.7 1192.0,1669.4 1194.0,1670.3 1196.0,1671.3 1198.0,1672.3 1200.0,1673.4 1202.0,1674.6 1204.0,1675.8 1206.0,1677.0 1208.0,1678.3 1210.0,1679.5 1212.0,1680.8 1214.0,1682.0 1216.0,1683.2 1218.0,1684.3 1220.0,1685.4 1222.0,1686.5 1224.0,1687.4 1226.0,1688.4 1228.0,1689.2 1230.0,1690.0 1232.0,1690.7 1234.0,1691.4 1236.0,1692.0 1238.0,1692.5 1240.0,1693.0 1242.0,1693.5 1244.0,1693.8 1246.0,1694.2 1248.0,1694.5 1250.0,1694.7 1252.0,1695.0 1254.0,1695.2 1256.0,1695.3 1258.0,1695.5 1260.0,1695.6 1262.0,1695.7 1264.0,1695.8 1266.0,1695.9 1268.0,1695.9 1270.0,1696.0 1272.0,1696.0 1274.0,1696.1 1276.0,1696.1 1278.0,1696.2 1280.0,1696.2 1282.0,1696.2 1284.0,1696.2 1286.0,1696.3 1288.0,1696.3 1290.0,1696.3 1292.0,1696.3 1294.0,1696.3 1296.0,1696.3 1298.0,1696.4 1300.0,1696.4" fill="none" stroke="#ff0000" stroke-width="2.8" stroke-linejoin="round" stroke-linecap="round"/>
<path d="M810.3 771.8V789.3 M810.3 810.2V827.7 M810.3 848.6V866.1 M810.3 887.0V904.5 M810.3 925.4V942.9 M810.3 963.8V981.3 M810.3 1002.2V1019.7 M810.3 1040.6V1058.1 M810.3 1079.0V1096.5 M810.3 1117.4V1134.9 M810.3 1155.8V1173.3 M810.3 1194.2V1211.7 M810.3 1232.6V1250.1 M810.3 1271.0V1288.5 M810.3 1309.4V1326.9 M810.3 1347.8V1365.3 M810.3 1386.2V1403.7 M810.3 1424.6V1442.1 M810.3 1463.0V1480.5 M810.3 1501.4V1518.9 M810.3 1539.8V1557.3 M810.3 1578.2V1595.7 M810.3 1616.6V1634.1 M810.3 1655.0V1672.5 M810.3 1693.4V1710.9 M810.3 1731.8V1749.3 M810.3 1770.2V1787.7 M810.3 1808.6V1826.1 M810.3 1847.0V1860.7" stroke="#3a3a3a" stroke-width="2.8" fill="none"/>
<path d="M900.4 869.6V887.1 M900.4 908.0V925.5 M900.4 946.4V963.9 M900.4 984.8V1002.3 M900.4 1023.2V1040.7 M900.4 1061.6V1079.1 M900.4 1100.0V1117.5 M900.4 1138.4V1155.9 M900.4 1176.8V1194.3 M900.4 1215.2V1232.7 M900.4 1253.6V1271.1 M900.4 1292.0V1309.5 M900.4 1330.4V1347.9 M900.4 1368.8V1386.3 M900.4 1407.2V1424.7 M900.4 1445.6V1463.1 M900.4 1484.0V1501.5 M900.4 1522.4V1539.9 M900.4 1560.8V1578.3 M900.4 1599.2V1616.7 M900.4 1637.6V1655.1 M900.4 1676.0V1693.5 M900.4 1714.4V1731.9 M900.4 1752.8V1770.3 M900.4 1791.2V1808.7 M900.4 1829.6V1847.1 M900.4 1868.0V1877.0" stroke="#3a3a3a" stroke-width="2.8" fill="none"/>
<path d="M1000.4 906.0V923.5 M1000.4 944.4V961.9 M1000.4 982.8V1000.3 M1000.4 1021.2V1038.7 M1000.4 1059.6V1077.1 M1000.4 1098.0V1115.5 M1000.4 1136.4V1153.9 M1000.4 1174.8V1192.3 M1000.4 1213.2V1230.7 M1000.4 1251.6V1269.1 M1000.4 1290.0V1307.5 M1000.4 1328.4V1345.9 M1000.4 1366.8V1384.3 M1000.4 1405.2V1422.7 M1000.4 1443.6V1461.1 M1000.4 1482.0V1499.5 M1000.4 1520.4V1537.9 M1000.4 1558.8V1576.3 M1000.4 1597.2V1614.7 M1000.4 1635.6V1653.1 M1000.4 1674.0V1691.5 M1000.4 1712.4V1729.9 M1000.4 1750.8V1768.3 M1000.4 1789.2V1806.7 M1000.4 1827.6V1845.1" stroke="#3a3a3a" stroke-width="2.8" fill="none"/>
<path d="M1085.6 1012.7V1030.2 M1085.6 1051.1V1068.6 M1085.6 1089.5V1107.0 M1085.6 1127.9V1145.4 M1085.6 1166.3V1183.8 M1085.6 1204.7V1222.2 M1085.6 1243.1V1260.6 M1085.6 1281.5V1299.0 M1085.6 1319.9V1337.4 M1085.6 1358.3V1375.8 M1085.6 1396.7V1414.2 M1085.6 1435.1V1452.6 M1085.6 1473.5V1491.0 M1085.6 1511.9V1529.4 M1085.6 1550.3V1567.8 M1085.6 1588.7V1606.2 M1085.6 1627.1V1644.6 M1085.6 1665.5V1683.0 M1085.6 1703.9V1721.4 M1085.6 1742.3V1759.8 M1085.6 1780.7V1798.2 M1085.6 1819.1V1836.6 M1085.6 1857.5V1868.4" stroke="#3a3a3a" stroke-width="2.8" fill="none"/>
<path d="M1176.9 1045.0V1062.5 M1176.9 1083.4V1100.9 M1176.9 1121.8V1139.3 M1176.9 1160.2V1177.7 M1176.9 1198.6V1216.1 M1176.9 1237.0V1254.5 M1176.9 1275.4V1292.9 M1176.9 1313.8V1331.3 M1176.9 1352.2V1369.7 M1176.9 1390.6V1408.1 M1176.9 1429.0V1446.5 M1176.9 1467.4V1484.9 M1176.9 1505.8V1523.3 M1176.9 1544.2V1561.7 M1176.9 1582.6V1600.1 M1176.9 1621.0V1638.5 M1176.9 1659.4V1676.9 M1176.9 1697.8V1715.3 M1176.9 1736.2V1753.7 M1176.9 1774.6V1792.1 M1176.9 1813.0V1830.5 M1176.9 1851.4V1862.2" stroke="#3a3a3a" stroke-width="2.8" fill="none"/>
<polyline points="313.0,588.3 315.0,588.5 317.0,588.6 319.0,588.7 321.0,588.8 323.0,588.9 325.0,589.0 327.0,589.1 329.0,589.2 331.0,589.4 333.0,589.5 335.0,589.6 337.0,589.7 339.0,589.8 341.0,589.9 343.0,590.0 345.0,590.1 347.0,590.2 349.0,590.3 351.0,590.4 353.0,590.5 355.0,590.7 357.0,590.8 359.0,590.9 361.0,591.0 363.0,591.1 365.0,591.2 367.0,591.3 369.0,591.4 371.0,591.5 373.0,591.6 375.0,591.7 377.0,591.8 379.0,591.9 381.0,592.0 383.0,592.1 385.0,592.2 387.0,592.3 389.0,592.4 391.0,592.5 393.0,592.6 395.0,592.7 397.0,592.8 399.0,592.8 401.0,592.9 403.0,593.0 405.0,593.1 407.0,593.2 409.0,593.3 411.0,593.4 413.0,593.5 415.0,593.6 417.0,593.7 419.0,593.8 421.0,593.9 423.0,593.9 425.0,594.0 427.0,594.1 429.0,594.2 431.0,594.3 433.0,594.4 435.0,594.5 437.0,594.6 439.0,594.6 441.0,594.7 443.0,594.8 445.0,594.9 447.0,595.0 449.0,595.1 451.0,595.1 453.0,595.2 455.0,595.3 457.0,595.4 459.0,595.5 461.0,595.5 463.0,595.6 465.0,595.7 467.0,595.8 469.0,595.9 471.0,595.9 473.0,596.0 475.0,596.1 477.0,596.2 479.0,596.2 481.0,596.3 483.0,596.4 485.0,596.5 487.0,596.5 489.0,596.6 491.0,596.7 493.0,596.8 495.0,596.8 497.0,596.9 499.0,597.0 501.0,597.0 503.0,597.1 505.0,597.2 507.0,597.2 509.0,597.3 511.0,597.4 513.0,597.4 515.0,597.5 517.0,597.6 519.0,597.6 521.0,597.7 523.0,597.8 525.0,597.8 527.0,597.9 529.0,598.0 531.0,598.0 533.0,598.1 535.0,598.1 537.0,598.2 539.0,598.3 541.0,598.3 543.0,598.4 545.0,598.4 547.0,598.5 549.0,598.6 551.0,598.6 553.0,598.7 555.0,598.7 557.0,598.8 559.0,598.8 561.0,598.9 563.0,598.9 565.0,599.0 567.0,599.1 569.0,599.1 571.0,599.2 573.0,599.2 575.0,599.3 577.0,599.3 579.0,599.4 581.0,599.4 583.0,599.5 585.0,599.5 587.0,599.6 589.0,599.6 591.0,599.7 593.0,599.7 595.0,599.7 597.0,599.8 599.0,599.8 601.0,599.9 603.0,599.9 605.0,600.0 607.0,600.0 609.0,600.0 611.0,600.1 613.0,600.1 615.0,600.2 617.0,600.2 619.0,600.3 621.0,600.3 623.0,600.3 625.0,600.4 627.0,600.4 629.0,600.4 631.0,600.5 633.0,600.5 635.0,600.6 637.0,600.6 639.0,600.6 641.0,600.7 643.0,600.7 645.0,600.7 647.0,600.8 649.0,600.8 651.0,600.8 653.0,600.8 655.0,600.9 657.0,600.9 659.0,600.9 661.0,601.0 663.0,601.0 665.0,601.0 667.0,601.0 669.0,601.1 671.0,601.1 673.0,601.1 675.0,601.1 677.0,601.2 679.0,601.2 681.0,601.2 683.0,601.2 685.0,601.3 687.0,601.3 689.0,601.3 691.0,601.3 693.0,601.3 695.0,601.4 697.0,601.4 699.0,601.4 701.0,601.4 703.0,601.4 705.0,601.5 707.0,601.5 709.0,601.5 711.0,601.5 713.0,601.5 715.0,601.5 717.0,601.5 719.0,601.6 721.0,601.6 723.0,601.6 725.0,601.6 727.0,601.6 729.0,601.6 731.0,601.6 733.0,601.6 735.0,601.6 737.0,601.7 739.0,601.7 741.0,601.7 743.0,601.7 745.0,601.7 747.0,601.7 749.0,601.7 751.0,601.7 753.0,601.7 755.0,601.7 757.0,601.7 759.0,601.7 761.0,601.7 763.0,601.7 765.0,601.7 767.0,601.7 769.0,601.7 771.0,601.7 773.0,601.7 775.0,601.7 777.0,601.7 779.0,601.7 781.0,601.7 783.0,601.7 785.0,601.7 787.0,601.7 789.0,601.7 791.0,601.7 793.0,601.7 795.0,601.6 797.0,601.6 799.0,601.6 801.0,601.6 803.0,601.6 805.0,601.6 807.0,601.6 809.0,601.6 811.0,601.6 813.0,601.5 815.0,601.5 817.0,601.5 819.0,601.5 821.0,601.5 823.0,601.5 825.0,601.5 827.0,601.4 829.0,601.4 831.0,601.4 833.0,601.4 835.0,601.4 837.0,601.3 839.0,601.3 841.0,601.3 843.0,601.3 845.0,601.3 847.0,601.2 849.0,601.2 851.0,601.2 853.0,601.2 855.0,601.1 857.0,601.1 859.0,601.1 861.0,601.1 863.0,601.0 865.0,601.0 867.0,601.0 869.0,601.0 871.0,600.9 873.0,600.9 875.0,600.9 877.0,600.8 879.0,600.8 881.0,600.8 883.0,600.7 885.0,600.7 887.0,600.7 889.0,600.6 891.0,600.6 893.0,600.6 895.0,600.5 897.0,600.5 899.0,600.4 901.0,600.4 903.0,600.4 905.0,600.3 907.0,600.3 909.0,600.2 911.0,600.2 913.0,600.2 915.0,600.1 917.0,600.1 919.0,600.0 921.0,600.0 923.0,599.9 925.0,599.9 927.0,599.9 929.0,599.8 931.0,599.8 933.0,599.7 935.0,599.7 937.0,599.6 939.0,599.6 941.0,599.5 943.0,599.5 945.0,599.4 947.0,599.4 949.0,599.3 951.0,599.3 953.0,599.2 955.0,599.2 957.0,599.1 959.0,599.0 961.0,599.0 963.0,598.9 965.0,598.9 967.0,598.8 969.0,598.8 971.0,598.7 973.0,598.6 975.0,598.6 977.0,598.5 979.0,598.5 981.0,598.4 983.0,598.3 985.0,598.3 987.0,598.2 989.0,598.1 991.0,598.1 993.0,598.0 995.0,597.9 997.0,597.9 999.0,597.8 1001.0,597.7 1003.0,597.7 1005.0,597.6 1007.0,597.5 1009.0,597.5 1011.0,597.4 1013.0,597.3 1015.0,597.3 1017.0,597.2 1019.0,597.1 1021.0,597.0 1023.0,597.0 1025.0,596.9 1027.0,596.8 1029.0,596.7 1031.0,596.7 1033.0,596.6 1035.0,596.5 1037.0,596.4 1039.0,596.3 1041.0,596.3 1043.0,596.2 1045.0,596.1 1047.0,596.0 1049.0,595.9 1051.0,595.9 1053.0,595.8 1055.0,595.7 1057.0,595.6 1059.0,595.5 1061.0,595.4 1063.0,595.3 1065.0,595.3 1067.0,595.2 1069.0,595.1 1071.0,595.0 1073.0,594.9 1075.0,594.8 1077.0,594.7 1079.0,594.6 1081.0,594.5 1083.0,594.4 1085.0,594.3 1087.0,594.3 1089.0,594.2 1091.0,594.1 1093.0,594.0 1095.0,593.9 1097.0,593.8 1099.0,593.7 1101.0,593.6 1103.0,593.5 1105.0,593.4 1107.0,593.3 1109.0,593.2 1111.0,593.1 1113.0,593.0 1115.0,592.9 1117.0,592.8 1119.0,592.7 1121.0,592.6 1123.0,592.5 1125.0,592.3 1127.0,592.2 1129.0,592.1 1131.0,592.0 1133.0,591.9 1135.0,591.8 1137.0,591.7 1139.0,591.6 1141.0,591.5 1143.0,591.4 1145.0,591.3 1147.0,591.1 1149.0,591.0 1151.0,590.9 1153.0,590.8 1155.0,590.7 1157.0,590.6 1159.0,590.4 1161.0,590.3 1163.0,590.2 1165.0,590.1 1167.0,590.0 1169.0,589.9 1171.0,589.7 1173.0,589.6 1175.0,589.5 1177.0,589.4 1179.0,589.2 1181.0,589.1 1183.0,589.0 1185.0,588.9 1187.0,588.7 1189.0,588.6 1191.0,588.5 1193.0,588.4 1195.0,588.2 1197.0,588.1 1199.0,588.0 1201.0,587.8 1203.0,587.7 1205.0,587.6 1207.0,587.5 1209.0,587.3 1211.0,587.2 1213.0,587.1 1215.0,586.9 1217.0,586.8 1219.0,586.6 1221.0,586.5 1223.0,586.4 1225.0,586.2 1227.0,586.1 1229.0,586.0 1231.0,585.8 1233.0,585.7 1235.0,585.5 1237.0,585.4 1239.0,585.3 1241.0,585.1 1243.0,585.0 1245.0,584.8 1247.0,584.7 1249.0,584.5 1251.0,584.4 1253.0,584.2 1255.0,584.1 1257.0,583.9 1259.0,583.8 1261.0,583.6 1263.0,583.5 1265.0,583.3 1267.0,583.2 1269.0,583.0 1271.0,582.9 1273.0,582.7 1275.0,582.6 1277.0,582.4 1279.0,582.3 1281.0,582.1 1283.0,582.0 1285.0,581.8 1287.0,581.6 1289.0,581.5 1291.0,581.3 1293.0,581.2 1295.0,581.0 1297.0,580.8 1299.0,580.7" fill="none" stroke="#505050" stroke-width="2.8" stroke-dasharray="7.3 7.8"/>
<g fill="#000"><circle cx="304.5" cy="576.9" r="4.2"/><circle cx="343.0" cy="589.6" r="4.2"/><circle cx="381.1" cy="595.5" r="4.2"/><circle cx="419.4" cy="607.0" r="4.2"/><circle cx="458.2" cy="620.9" r="4.2"/><circle cx="496.1" cy="586.8" r="4.2"/><circle cx="534.6" cy="593.6" r="4.2"/><circle cx="572.7" cy="599.7" r="4.2"/><circle cx="611.1" cy="585.8" r="4.2"/><circle cx="649.1" cy="606.3" r="4.2"/><circle cx="687.5" cy="588.3" r="4.2"/><circle cx="725.7" cy="586.0" r="4.2"/><circle cx="764.1" cy="617.1" r="4.2"/><circle cx="802.0" cy="604.5" r="4.2"/><circle cx="840.7" cy="606.8" r="4.2"/><circle cx="878.6" cy="605.0" r="4.2"/><circle cx="917.3" cy="584.0" r="4.2"/><circle cx="955.4" cy="587.8" r="4.2"/><circle cx="993.6" cy="593.5" r="4.2"/><circle cx="1032.0" cy="611.2" r="4.2"/><circle cx="1070.0" cy="618.2" r="4.2"/><circle cx="1108.6" cy="594.5" r="4.2"/><circle cx="1146.6" cy="597.3" r="4.2"/><circle cx="1185.0" cy="581.1" r="4.2"/><circle cx="1223.4" cy="584.6" r="4.2"/><circle cx="1261.6" cy="586.7" r="4.2"/><circle cx="1300.0" cy="571.5" r="4.2"/></g>
<g stroke="#333333" stroke-width="3" fill="none" stroke-linecap="square">
<path d="M246.5 87.0V1877.7H1321.5"/>
<path d="M246.5 87.0H1318.0"/>
<path d="M1318.0 84V1877.7"/>
<path d="M209 266.1H246.5"/>
<path d="M209 534.6H246.5"/>
<path d="M209 803.3H246.5"/>
<path d="M209 1071.9H246.5"/>
<path d="M209 1340.5H246.5"/>
<path d="M209 1609.1H246.5"/>
<path d="M209 1877.7H246.5"/>
<path d="M480.1 1877.7V1914.8"/>
<path d="M786.0 1877.7V1914.8"/>
<path d="M1092.0 1877.7V1914.8"/>
<path d="M327.0 1877.7V1896.7"/>
<path d="M633.0 1877.7V1896.7"/>
<path d="M939.0 1877.7V1896.7"/>
<path d="M1245.0 1877.7V1896.7"/>
</g>
<text x="191.0" y="278.8" font-family='"Liberation Sans", sans-serif' font-size="44.0" text-anchor="end" fill="#000" >10</text>
<text x="191.0" y="547.3" font-family='"Liberation Sans", sans-serif' font-size="44.0" text-anchor="end" fill="#000" >5</text>
<text x="191.0" y="816.0" font-family='"Liberation Sans", sans-serif' font-size="44.0" text-anchor="end" fill="#000" >10</text>
<text x="191.0" y="1084.6" font-family='"Liberation Sans", sans-serif' font-size="44.0" text-anchor="end" fill="#000" >5</text>
<text x="191.0" y="1353.2" font-family='"Liberation Sans", sans-serif' font-size="44.0" text-anchor="end" fill="#000" >10</text>
<text x="191.0" y="1621.8" font-family='"Liberation Sans", sans-serif' font-size="44.0" text-anchor="end" fill="#000" >5</text>
<text x="191.0" y="1890.4" font-family='"Liberation Sans", sans-serif' font-size="44.0" text-anchor="end" fill="#000" >0</text>
<text x="478.1" y="1970.0" font-family='"Liberation Sans", sans-serif' font-size="44.0" text-anchor="middle" fill="#000" >40</text>
<text x="784.0" y="1970.0" font-family='"Liberation Sans", sans-serif' font-size="44.0" text-anchor="middle" fill="#000" >36</text>
<text x="1090.0" y="1970.0" font-family='"Liberation Sans", sans-serif' font-size="44.0" text-anchor="middle" fill="#000" >32</text>
<text x="520.7" y="2035.0" font-family='"Liberation Sans", sans-serif' font-size="60.0" text-anchor="start" fill="#000" >Binding energy (eV)</text>
<text transform="translate(102,1351.5) rotate(-90)" font-family='"Liberation Sans", sans-serif' font-size="60" fill="#000">Intensity (a.u.)</text>
<text x="273.1" y="146.0" font-family='"Liberation Sans", sans-serif' font-size="49.5" fill="#000" text-anchor="start"><tspan dy="-0.0" font-size="49.5">W 4f</tspan><tspan dy="13.0" font-size="29.5">5/2</tspan></text>
<text x="457.7" y="146.0" font-family='"Liberation Sans", sans-serif' font-size="49.5" fill="#000" text-anchor="start"><tspan dy="-0.0" font-size="49.5">W 4f</tspan><tspan dy="13.0" font-size="29.5">7/2</tspan></text>
<text x="837.9" y="150.6" font-family='"Liberation Sans", sans-serif' font-size="49.5" fill="#000" text-anchor="start"><tspan dy="-0.0" font-size="49.5">W 5p</tspan><tspan dy="13.0" font-size="29.5">3/2</tspan></text>
<rect x="288.8" y="175.2" width="114.1" height="53.8" rx="1.5" fill="rgb(255,0,0)" fill-opacity="0.30" stroke="#474747" stroke-width="2.6"/>
<rect x="458.5" y="178.2" width="114.0" height="53.1" rx="1.5" fill="rgb(255,0,0)" fill-opacity="0.60" stroke="#474747" stroke-width="2.6"/>
<rect x="287.5" y="254.1" width="114.2" height="54.0" rx="1.5" fill="rgb(0,255,0)" fill-opacity="0.30" stroke="#474747" stroke-width="2.6"/>
<rect x="457.4" y="252.3" width="113.5" height="54.7" rx="1.5" fill="rgb(0,255,0)" fill-opacity="0.60" stroke="#474747" stroke-width="2.6"/>
<rect x="287.0" y="332.1" width="114.3" height="54.0" rx="1.5" fill="rgb(255,204,0)" fill-opacity="0.30" stroke="#474747" stroke-width="2.6"/>
<rect x="456.9" y="329.8" width="113.4" height="53.6" rx="1.5" fill="rgb(255,204,0)" fill-opacity="0.60" stroke="#474747" stroke-width="2.6"/>
<rect x="289.3" y="408.8" width="113.6" height="54.1" rx="1.5" fill="rgb(0,0,255)" fill-opacity="0.30" stroke="#474747" stroke-width="2.6"/>
<rect x="456.7" y="411.5" width="113.6" height="53.6" rx="1.5" fill="rgb(0,0,255)" fill-opacity="0.60" stroke="#474747" stroke-width="2.6"/>
<rect x="290.4" y="488.4" width="113.8" height="53.8" rx="1.5" fill="rgb(153,0,204)" fill-opacity="0.30" stroke="#474747" stroke-width="2.6"/>
<rect x="458.9" y="490.2" width="113.2" height="53.5" rx="1.5" fill="rgb(153,0,204)" fill-opacity="0.60" stroke="#474747" stroke-width="2.6"/>
<rect x="841.3" y="188.7" width="112.2" height="52.8" rx="1.5" fill="rgb(255,160,100)" stroke="#5a4030" stroke-width="2.6"/>
<rect x="841.3" y="265.2" width="112.2" height="52.6" rx="1.5" fill="rgb(128,224,128)" stroke="#474747" stroke-width="2.6"/>
<text x="584.2" y="219.4" font-family='"Liberation Sans", sans-serif' font-size="49.5" fill="#000" text-anchor="start"><tspan dy="-0.0" font-size="49.5">- W</tspan><tspan dy="-14.4" font-size="29.5">0</tspan></text>
<text x="584.2" y="303.7" font-family='"Liberation Sans", sans-serif' font-size="49.5" fill="#000" text-anchor="start"><tspan dy="-0.0" font-size="49.5">- W-O</tspan></text>
<text x="584.2" y="381.8" font-family='"Liberation Sans", sans-serif' font-size="49.5" fill="#000" text-anchor="start"><tspan dy="-0.0" font-size="49.5">- WO</tspan><tspan dy="13.0" font-size="29.5">2</tspan></text>
<text x="585.2" y="462.5" font-family='"Liberation Sans", sans-serif' font-size="49.5" fill="#000" text-anchor="start"><tspan dy="-0.0" font-size="49.5">- WO</tspan><tspan dy="13.0" font-size="29.5">3</tspan></text>
<text x="581.8" y="536.0" font-family='"Liberation Sans", sans-serif' font-size="49.5" fill="#000" text-anchor="start"><tspan dy="-0.0" font-size="49.5">- WO</tspan><tspan dy="13.0" font-size="29.5">3</tspan><tspan dy="-13.0" font-size="49.5">-Al</tspan><tspan dy="13.0" font-size="29.5">2</tspan><tspan dy="-13.0" font-size="49.5">O</tspan><tspan dy="13.0" font-size="29.5">3</tspan></text>
<text x="965.5" y="233.8" font-family='"Liberation Sans", sans-serif' font-size="49.5" fill="#000" text-anchor="start"><tspan dy="-0.0" font-size="49.5">- W</tspan><tspan dy="-14.4" font-size="29.5">0</tspan></text>
<text x="967.6" y="307.5" font-family='"Liberation Sans", sans-serif' font-size="49.5" fill="#000" text-anchor="start"><tspan dy="-0.0" font-size="49.5">- W-O</tspan></text>
<text x="286.7" y="667.4" font-family='"Liberation Sans", sans-serif' font-size="49.5" fill="#000" text-anchor="start"><tspan dy="-0.0" font-size="49.5">Ni40-W5-Al</tspan><tspan dy="13.0" font-size="29.5">2</tspan><tspan dy="-13.0" font-size="49.5">O</tspan><tspan dy="13.0" font-size="29.5">3</tspan><tspan dy="-13.0" font-size="49.5">- calc.</tspan></text>
<text x="265.7" y="1204.8" font-family='"Liberation Sans", sans-serif' font-size="49.5" fill="#000" text-anchor="start"><tspan dy="-0.0" font-size="49.5">Ni40-W5-Al</tspan><tspan dy="13.0" font-size="29.5">2</tspan><tspan dy="-13.0" font-size="49.5">O</tspan><tspan dy="13.0" font-size="29.5">3</tspan><tspan dy="-13.0" font-size="49.5">-H</tspan><tspan dy="13.0" font-size="29.5">2</tspan></text>
<text x="268.9" y="1735.4" font-family='"Liberation Sans", sans-serif' font-size="49.5" fill="#000" text-anchor="start"><tspan dy="-0.0" font-size="49.5">Ni40-W5-Al</tspan><tspan dy="13.0" font-size="29.5">2</tspan><tspan dy="-13.0" font-size="49.5">O</tspan><tspan dy="13.0" font-size="29.5">3</tspan><tspan dy="-13.0" font-size="49.5">-H</tspan><tspan dy="13.0" font-size="29.5">2</tspan><tspan dy="-13.0" font-size="49.5">/CO</tspan><tspan dy="13.0" font-size="29.5">2</tspan></text>
<text x="770.5" y="742.0" font-family='"Liberation Sans", sans-serif' font-size="49.5" fill="#000" text-anchor="start"><tspan dy="-0.0" font-size="49.5">WO</tspan><tspan dy="13.0" font-size="29.5">3</tspan><tspan dy="-13.0" font-size="49.5">-Al</tspan><tspan dy="13.0" font-size="29.5">2</tspan><tspan dy="-13.0" font-size="49.5">O</tspan><tspan dy="13.0" font-size="29.5">3</tspan></text>
<text x="888.2" y="822.7" font-family='"Liberation Sans", sans-serif' font-size="49.5" fill="#000" text-anchor="start"><tspan dy="-0.0" font-size="49.5">WO</tspan><tspan dy="13.0" font-size="29.5">3</tspan></text>
<text x="991.7" y="893.6" font-family='"Liberation Sans", sans-serif' font-size="49.5" fill="#000" text-anchor="start"><tspan dy="-0.0" font-size="49.5">WO</tspan><tspan dy="13.0" font-size="29.5">2</tspan></text>
<text x="1063.2" y="971.0" font-family='"Liberation Sans", sans-serif' font-size="49.5" fill="#000" text-anchor="start"><tspan dy="-0.0" font-size="49.5">W-O</tspan></text>
<text x="1174.4" y="1039.0" font-family='"Liberation Sans", sans-serif' font-size="49.5" fill="#000" text-anchor="start"><tspan dy="-0.0" font-size="49.5">W</tspan><tspan dy="-14.4" font-size="29.5">0</tspan></text>
</g>
</svg>
</body></html>
